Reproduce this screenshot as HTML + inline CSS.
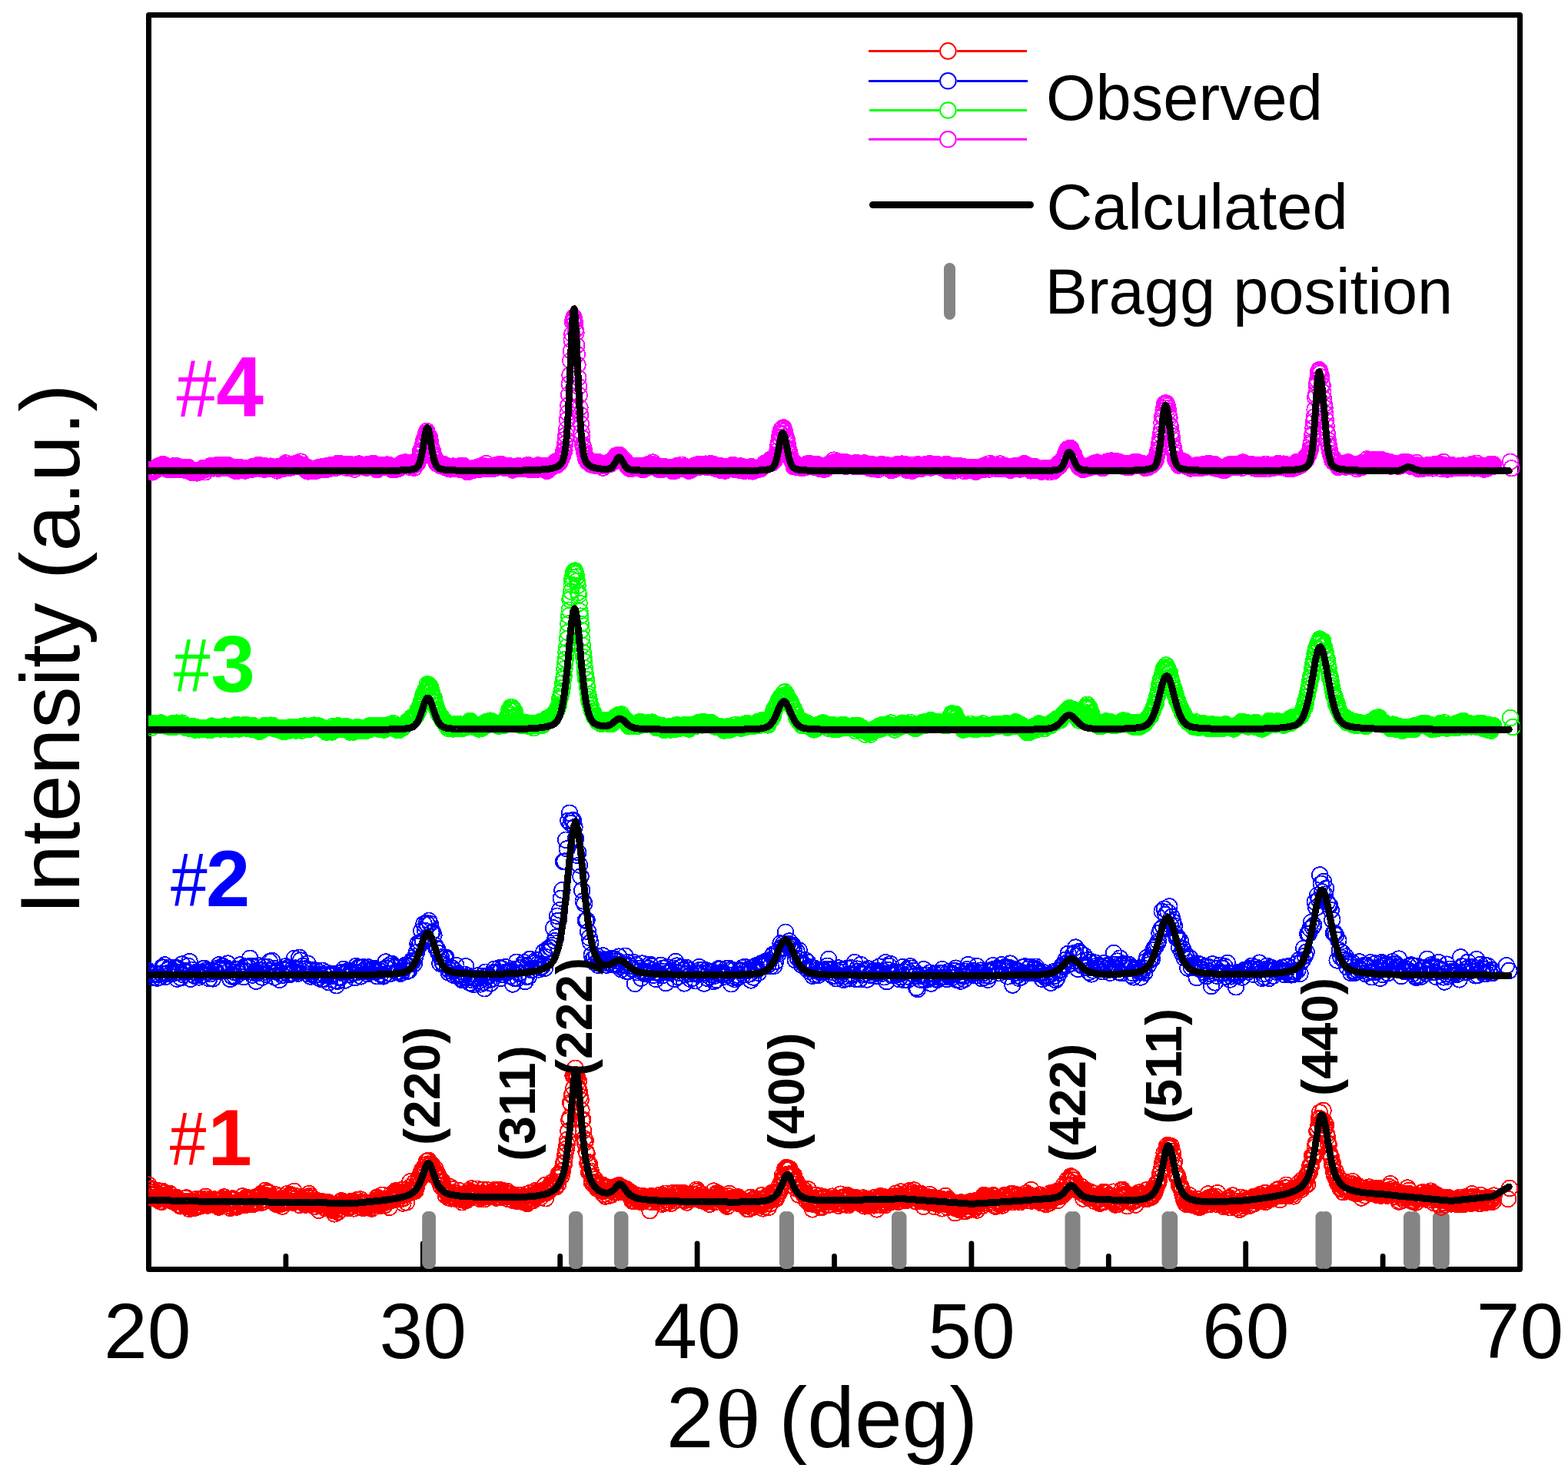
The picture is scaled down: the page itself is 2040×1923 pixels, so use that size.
<!DOCTYPE html>
<html><head><meta charset="utf-8"><title>XRD Rietveld refinement</title>
<style>
html,body{margin:0;padding:0;background:#fff;overflow:hidden}
svg{display:block}
text{font-family:"Liberation Sans",Arial,sans-serif}
.o{fill:none;stroke:none}
.c{fill:none;stroke:#000;stroke-width:9;stroke-linejoin:round;stroke-linecap:round;shape-rendering:crispEdges}
.b{stroke:#848484;stroke-width:15;stroke-linecap:round}
.tk{stroke:#000;stroke-width:6.8;stroke-linecap:round}
.pl{font-weight:bold;font-size:66px}
</style></head>
<body>
<svg xmlns="http://www.w3.org/2000/svg" width="2040" height="1923" viewBox="0 0 2040 1923">
<defs><clipPath id="pc"><rect x="193" y="23" width="1784.5" height="1625"/></clipPath><marker id="m4" markerUnits="userSpaceOnUse" markerWidth="26" markerHeight="26" refX="13" refY="13" overflow="visible"><circle cx="13" cy="13" r="10.3" shape-rendering="crispEdges" fill="none" stroke="#ff00ff" stroke-width="1.8"/></marker><marker id="m3" markerUnits="userSpaceOnUse" markerWidth="26" markerHeight="26" refX="13" refY="13" overflow="visible"><circle cx="13" cy="13" r="10.3" shape-rendering="crispEdges" fill="none" stroke="#00ff00" stroke-width="1.8"/></marker><marker id="m2" markerUnits="userSpaceOnUse" markerWidth="26" markerHeight="26" refX="13" refY="13" overflow="visible"><circle cx="13" cy="13" r="10.3" shape-rendering="crispEdges" fill="none" stroke="#0000ff" stroke-width="1.8"/></marker><marker id="m1" markerUnits="userSpaceOnUse" markerWidth="26" markerHeight="26" refX="13" refY="13" overflow="visible"><circle cx="13" cy="13" r="10.3" shape-rendering="crispEdges" fill="none" stroke="#ff0000" stroke-width="1.8"/></marker></defs>
<rect x="0" y="0" width="2040" height="1923" fill="#fff"/>
<g id="frame">
<rect x="193.5" y="19.5" width="1784" height="1632" fill="none" stroke="#000" stroke-width="7" stroke-linejoin="round"/>
<path class="tk" d="M550.3 1650V1618M907.1 1650V1618M1263.9 1650V1618M1620.7 1650V1618M371.9 1650V1634.5M728.7 1650V1634.5M1085.5 1650V1634.5M1442.3 1650V1634.5M1799.1 1650V1634.5"/>
</g>
<g id="bragg">
<path class="b" d="M556.7 1583.5V1643.5M559.4 1583.5V1643.5M747.5 1583.5V1643.5M750.8 1583.5V1643.5M806.5 1583.5V1643.5M810 1583.5V1643.5M1021.5 1583.5V1643.5M1025.5 1583.5V1643.5M1167.5 1583.5V1643.5M1172 1583.5V1643.5M1393 1583.5V1643.5M1398 1583.5V1643.5M1519 1583.5V1643.5M1524.6 1583.5V1643.5M1719 1583.5V1643.5M1725.2 1583.5V1643.5M1833.5 1583.5V1643.5M1840.1 1583.5V1643.5M1871.5 1583.5V1643.5M1878.3 1583.5V1643.5"/>
</g>
<g clip-path="url(#pc)"><polyline class="o" marker-start="url(#m4)" marker-mid="url(#m4)" marker-end="url(#m4)" points="193.5,612.7 194.2,613.2 194.9,612.3 195.6,611.4 196.4,612 197.1,611.1 197.8,612.6 198.5,614.4 199.2,611.4 199.9,611 200.6,612.4 201.3,611.9 202.1,611.2 202.8,609.3 203.5,610.4 204.2,611.1 204.9,607.8 205.6,608.8 206.3,606.3 207.1,607 207.8,605.9 208.5,608.1 209.2,606.4 209.9,608.5 210.6,608.1 211.3,607.5 212.1,603.9 212.8,606.8 213.5,607.6 214.2,607.9 214.9,605.7 215.6,607.5 216.3,607 217,607.6 217.8,610.7 218.5,608.2 219.2,609.7 219.9,611.3 220.6,609.2 221.3,609.9 222,610.2 222.8,610 223.5,607.8 224.2,609.5 224.9,611.2 225.6,606.5 226.3,609.8 227,608.5 227.8,607.1 228.5,611 229.2,609 229.9,606.1 230.6,608.1 231.3,608.9 232,607.9 232.7,609.4 233.5,608.5 234.2,609.8 234.9,611.1 235.6,608.1 236.3,609.6 237,608.7 237.7,609.7 238.5,607.8 239.2,608.8 239.9,609.5 240.6,611.3 241.3,611.8 242,608.2 242.7,609.2 243.5,611.5 244.2,607.7 244.9,610.2 245.6,610.9 246.3,613.2 247,612.6 247.7,611.3 248.4,611.5 249.2,612 249.9,615 250.6,612.3 251.3,612.8 252,614 252.7,613.5 253.4,613.5 254.2,612.2 254.9,613.8 255.6,613.1 256.3,615.4 257,614.4 257.7,613.2 258.4,614 259.2,612.3 259.9,614.2 260.6,612.4 261.3,613.2 262,610.3 262.7,612.6 263.4,609.5 264.1,608.8 264.9,611.3 265.6,610.2 266.3,611.5 267,614.3 267.7,609.3 268.4,609.3 269.1,610.1 269.9,610.1 270.6,608.7 271.3,608.4 272,609.4 272.7,608.9 273.4,606.4 274.1,607.7 274.9,607.8 275.6,606.1 276.3,608.1 277,606.5 277.7,609.4 278.4,608.3 279.1,608.2 279.8,607.3 280.6,608.1 281.3,605.4 282,606.7 282.7,609 283.4,605.2 284.1,609.7 284.8,605.7 285.6,609.3 286.3,606.8 287,609 287.7,607.8 288.4,605.1 289.1,609.1 289.8,609.2 290.5,606.8 291.3,606.4 292,606.5 292.7,605.2 293.4,608.4 294.1,605.9 294.8,606.8 295.5,605.8 296.3,606.2 297,605.4 297.7,609.4 298.4,607.5 299.1,609.5 299.8,608.3 300.5,607.5 301.3,608.3 302,608.2 302.7,609.3 303.4,608.9 304.1,609.3 304.8,607.8 305.5,608.9 306.2,612.7 307,609.3 307.7,608.8 308.4,610.9 309.1,612.6 309.8,608.3 310.5,610.1 311.2,609.5 312,607.8 312.7,611.6 313.4,610.5 314.1,610.6 314.8,609.4 315.5,611.3 316.2,609.8 317,610.4 317.7,608.9 318.4,608.7 319.1,612.5 319.8,609.7 320.5,610.7 321.2,610.1 321.9,609.4 322.7,609.1 323.4,610.7 324.1,609.1 324.8,609.2 325.5,609.4 326.2,611 326.9,610.2 327.7,609.7 328.4,608.3 329.1,607 329.8,610.4 330.5,610.3 331.2,608.4 331.9,609.2 332.7,609.2 333.4,609 334.1,608.8 334.8,606.4 335.5,609.1 336.2,604.8 336.9,607.9 337.6,607.4 338.4,608.2 339.1,609.9 339.8,609.7 340.5,606.1 341.2,605.7 341.9,609.9 342.6,607.5 343.4,609.3 344.1,610.8 344.8,607.2 345.5,606.5 346.2,610.1 346.9,609.7 347.6,609.1 348.4,609.5 349.1,608 349.8,606.9 350.5,608.9 351.2,607.6 351.9,606.6 352.6,609.9 353.3,609.1 354.1,609.9 354.8,607.9 355.5,608.4 356.2,608 356.9,608.2 357.6,609.9 358.3,608.4 359.1,610.1 359.8,610 360.5,612.5 361.2,607.3 361.9,610.6 362.6,609.1 363.3,609.1 364.1,606.9 364.8,608.3 365.5,610 366.2,608.6 366.9,608.7 367.6,607.9 368.3,609.9 369,608 369.8,604.5 370.5,606.5 371.2,604.5 371.9,602.4 372.6,606.4 373.3,609.2 374,607.2 374.8,605.4 375.5,605.8 376.2,608.9 376.9,607.4 377.6,607.2 378.3,607 379,607 379.7,608 380.5,607.4 381.2,606.7 381.9,604.6 382.6,606.6 383.3,604.6 384,607 384.7,603.1 385.5,604.6 386.2,604.5 386.9,602.3 387.6,606.8 388.3,606.3 389,603.4 389.7,605.3 390.5,604.9 391.2,600.6 391.9,605.3 392.6,605.3 393.3,606 394,604.9 394.7,606.7 395.4,607.5 396.2,610.2 396.9,609.5 397.6,609.5 398.3,612.3 399,609.6 399.7,610.1 400.4,608.2 401.2,613.4 401.9,612.6 402.6,612.5 403.3,612.1 404,611.1 404.7,611.2 405.4,610.4 406.2,610.4 406.9,610.7 407.6,612.9 408.3,611.4 409,610.4 409.7,609.6 410.4,609.5 411.1,612.8 411.9,611.1 412.6,610.3 413.3,609.6 414,608.3 414.7,609.8 415.4,611.2 416.1,609.2 416.9,609.4 417.6,609.4 418.3,609.9 419,607.4 419.7,609.4 420.4,608.4 421.1,610.9 421.9,608.3 422.6,610.1 423.3,611.2 424,608.2 424.7,607.4 425.4,608.2 426.1,607.6 426.8,605.8 427.6,607.8 428.3,609.9 429,606.4 429.7,606.4 430.4,605.1 431.1,607.2 431.8,604.8 432.6,605.1 433.3,608.7 434,605.3 434.7,608.3 435.4,608.8 436.1,606.7 436.8,606.9 437.6,608.7 438.3,605.2 439,604.3 439.7,602.9 440.4,604.8 441.1,606.8 441.8,606 442.5,603.1 443.3,603.3 444,603.9 444.7,605.2 445.4,604.6 446.1,605.4 446.8,605.7 447.5,605 448.3,605.5 449,606 449.7,605.7 450.4,606.7 451.1,608.9 451.8,607.1 452.5,606.4 453.3,603.9 454,607.1 454.7,603.7 455.4,604.6 456.1,608.2 456.8,608.1 457.5,606.9 458.2,604.6 459,606.7 459.7,606.3 460.4,608.2 461.1,610.6 461.8,607.4 462.5,605.7 463.2,604.9 464,606.3 464.7,605.8 465.4,604 466.1,605.6 466.8,603.5 467.5,606.8 468.2,606.6 468.9,606.7 469.7,604.5 470.4,606.2 471.1,605.5 471.8,605.4 472.5,605.8 473.2,604.7 473.9,604.7 474.7,608.3 475.4,606.9 476.1,607.6 476.8,608.7 477.5,604.5 478.2,605.8 478.9,607 479.7,607.1 480.4,605.7 481.1,607.6 481.8,606.1 482.5,603.8 483.2,604.2 483.9,606.7 484.6,606.3 485.4,602.8 486.1,607.9 486.8,607 487.5,608.4 488.2,606.1 488.9,606.5 489.6,605.5 490.4,611.2 491.1,607.3 491.8,610.1 492.5,606.7 493.2,607.9 493.9,605 494.6,606.8 495.4,608.7 496.1,605.1 496.8,608.4 497.5,607.1 498.2,604.9 498.9,605.5 499.6,605.5 500.3,606 501.1,605.3 501.8,604.9 502.5,605.7 503.2,604.7 503.9,604.5 504.6,606.6 505.3,608.2 506.1,604.8 506.8,607.4 507.5,606.8 508.2,606.6 508.9,609.7 509.6,607.9 510.3,611.3 511.1,608.1 511.8,610.1 512.5,609.4 513.2,608.7 513.9,610.8 514.6,609.7 515.3,610.7 516,609.6 516.8,607.8 517.5,609 518.2,608.9 518.9,609.8 519.6,606.5 520.3,607.4 521,604.3 521.8,607.4 522.5,604.2 523.2,602.6 523.9,604.7 524.6,606.1 525.3,601.7 526,602 526.8,602.3 527.5,601.5 528.2,603.7 528.9,601.9 529.6,602.2 530.3,604.3 531,602.5 531.7,604.7 532.5,602.8 533.2,602.8 533.9,602.2 534.6,608.2 535.3,605.1 536,606.2 536.7,605.9 537.5,606.2 538.2,605.9 538.9,608.6 539.6,603.7 540.3,602.4 541,602.6 541.7,601.3 542.5,603.5 543.2,602.5 543.9,598.3 544.6,596.1 545.3,596 546,596.8 546.7,587.9 547.4,590.9 548.2,585.8 548.9,586.5 549.6,580.2 550.3,578.6 551,573.7 551.7,571.7 552.4,573 553.2,569.7 553.9,565.7 554.6,563.5 555.3,561 556,563.6 556.7,564.9 557.4,566.2 558.1,568.2 558.9,568.9 559.6,573.5 560.3,576.6 561,582 561.7,586.1 562.4,585.8 563.1,587.6 563.9,591.4 564.6,592.9 565.3,594.8 566,597.8 566.7,597.8 567.4,601.8 568.1,601.9 568.9,603.4 569.6,603.5 570.3,603.2 571,603.4 571.7,604.9 572.4,604.6 573.1,606.1 573.8,605.9 574.6,604 575.3,606.4 576,604.4 576.7,605.8 577.4,606.6 578.1,604.3 578.8,608 579.6,608.5 580.3,608.4 581,608.4 581.7,608.9 582.4,608.2 583.1,609.5 583.8,609.2 584.6,610.3 585.3,608.3 586,610.4 586.7,610.1 587.4,609.5 588.1,608.9 588.8,610.2 589.5,606.6 590.3,609.6 591,609.2 591.7,609.1 592.4,609.2 593.1,607.6 593.8,608.2 594.5,609.6 595.3,609.4 596,609.1 596.7,606.6 597.4,609.8 598.1,610.8 598.8,610.7 599.5,609.6 600.3,606.9 601,610.8 601.7,609.3 602.4,605.8 603.1,610.4 603.8,607.7 604.5,608.3 605.2,609.5 606,612.7 606.7,610.5 607.4,611.7 608.1,614.2 608.8,614.1 609.5,611.7 610.2,611.5 611,609.9 611.7,610.6 612.4,612.1 613.1,611.8 613.8,611.1 614.5,612.1 615.2,609.1 616,609.9 616.7,610.9 617.4,610.6 618.1,611.3 618.8,610.3 619.5,609.3 620.2,610.4 620.9,608.5 621.7,607.6 622.4,611.1 623.1,610.2 623.8,610.7 624.5,607.6 625.2,609.4 625.9,608.8 626.7,608.1 627.4,605.6 628.1,608.2 628.8,609.7 629.5,608.6 630.2,606.9 630.9,607.5 631.7,608.5 632.4,603.1 633.1,607 633.8,608 634.5,608.2 635.2,609.8 635.9,609 636.6,607.9 637.4,607.9 638.1,608.7 638.8,606.7 639.5,607.4 640.2,608.8 640.9,610.3 641.6,607 642.4,607.1 643.1,607.3 643.8,608.9 644.5,606.7 645.2,608.9 645.9,605.1 646.6,606.2 647.3,606.1 648.1,607.5 648.8,607.9 649.5,604 650.2,604.9 650.9,606.9 651.6,605.4 652.3,604.2 653.1,608.2 653.8,607.5 654.5,607.7 655.2,606.3 655.9,608.7 656.6,606.8 657.3,608.9 658.1,605.9 658.8,606 659.5,607.6 660.2,606.3 660.9,608.4 661.6,607.8 662.3,606 663,607.6 663.8,607.1 664.5,609.1 665.2,606.8 665.9,607.2 666.6,609.8 667.3,611.5 668,611.1 668.8,608.2 669.5,608.5 670.2,610.5 670.9,608 671.6,606.8 672.3,608.6 673,609.2 673.8,607.3 674.5,606.2 675.2,606.6 675.9,609.8 676.6,607.7 677.3,608.6 678,609.1 678.7,609.7 679.5,608.1 680.2,609.3 680.9,607 681.6,607.7 682.3,606.5 683,609.7 683.7,607.8 684.5,606.6 685.2,607.1 685.9,607.2 686.6,608.6 687.3,605 688,605.8 688.7,606.7 689.5,611.2 690.2,608.8 690.9,607.2 691.6,608.5 692.3,610.7 693,607.3 693.7,607.2 694.4,609.8 695.2,608.8 695.9,609.2 696.6,607.5 697.3,611.3 698,611 698.7,609.3 699.4,609.4 700.2,605.2 700.9,609.3 701.6,607.9 702.3,608.9 703,609.3 703.7,607.8 704.4,605.8 705.2,609.1 705.9,607.6 706.6,608.4 707.3,608.2 708,608.8 708.7,605.9 709.4,611.5 710.1,610.2 710.9,611.6 711.6,613 712.3,609.9 713,607 713.7,608.2 714.4,607.5 715.1,608.3 715.9,608.8 716.6,605.1 717.3,608.2 718,604.7 718.7,607 719.4,605.7 720.1,604.7 720.9,604.5 721.6,603.2 722.3,602.6 723,600.4 723.7,602.6 724.4,605.1 725.1,605 725.8,603.5 726.6,602.2 727.3,599.5 728,602.3 728.7,599.2 729.4,598.4 730.1,596.9 730.8,596.2 731.6,593.7 732.3,592.2 733,587.9 733.7,585.8 734.4,586.3 735.1,577.6 735.8,571.5 736.5,566.1 737.3,558.4 738,546 738.7,537.2 739.4,527.5 740.1,513.6 740.8,499.7 741.5,488.1 742.3,469.4 743,456.7 743.7,442.3 744.4,434.7 745.1,418.9 745.8,415.3 746.5,412.9 747.3,416 748,420.1 748.7,428.9 749.4,433.1 750.1,449.5 750.8,461 751.5,474.6 752.2,491.4 753,503 753.7,514.5 754.4,530.3 755.1,539.8 755.8,551.5 756.5,562.3 757.2,569.9 758,578.5 758.7,580.9 759.4,583.2 760.1,588.1 760.8,590.7 761.5,592.6 762.2,597.1 763,596.7 763.7,595.7 764.4,600.9 765.1,600.3 765.8,601.6 766.5,601.7 767.2,603 767.9,602.4 768.7,604.6 769.4,603.6 770.1,603.8 770.8,604 771.5,601.2 772.2,603.3 772.9,603.2 773.7,603.9 774.4,601.4 775.1,606.1 775.8,603.6 776.5,601.5 777.2,600.7 777.9,603 778.7,603.3 779.4,602.4 780.1,603.8 780.8,602.8 781.5,604.8 782.2,603 782.9,604.2 783.6,605.9 784.4,608.6 785.1,603.2 785.8,604.1 786.5,603.7 787.2,606.3 787.9,603.4 788.6,604.5 789.4,605.2 790.1,603.6 790.8,603.6 791.5,604.2 792.2,601.4 792.9,602.1 793.6,603.3 794.4,603.6 795.1,602.4 795.8,599.2 796.5,600.4 797.2,601.5 797.9,600.2 798.6,598.2 799.3,595.9 800.1,597.3 800.8,594.5 801.5,592.7 802.2,592.5 802.9,595.5 803.6,593.1 804.3,594.5 805.1,591.8 805.8,594.4 806.5,592.3 807.2,593.7 807.9,598.7 808.6,596.9 809.3,595.8 810.1,597.5 810.8,599.2 811.5,601.7 812.2,600 812.9,598.9 813.6,602.1 814.3,603.3 815,604.1 815.8,606.6 816.5,605.6 817.2,606.8 817.9,604.2 818.6,607.5 819.3,609.7 820,607.8 820.8,607.2 821.5,607.2 822.2,609.8 822.9,605.7 823.6,607.1 824.3,608.1 825,608.7 825.7,607 826.5,608.2 827.2,607.5 827.9,608.2 828.6,607.8 829.3,606.3 830,608 830.7,609.4 831.5,606.5 832.2,607.6 832.9,608.9 833.6,606.2 834.3,608 835,606.1 835.7,609.4 836.5,611.2 837.2,610.7 837.9,607.2 838.6,608.6 839.3,607.5 840,607.3 840.7,609.2 841.4,604.6 842.2,607.9 842.9,605.9 843.6,607.8 844.3,605.7 845,604.1 845.7,605.3 846.4,605.9 847.2,604.7 847.9,605.4 848.6,603.9 849.3,601.6 850,606.5 850.7,606.5 851.4,606 852.2,606.3 852.9,608.2 853.6,606.4 854.3,606.4 855,607.6 855.7,610.1 856.4,606.5 857.1,610.7 857.9,608.1 858.6,607.5 859.3,611.1 860,609 860.7,607.1 861.4,608.4 862.1,610.3 862.9,610.6 863.6,608 864.3,609.2 865,609.6 865.7,607.5 866.4,609.1 867.1,608.5 867.9,607.8 868.6,608 869.3,609 870,609.1 870.7,608.3 871.4,608.6 872.1,611.1 872.8,609.9 873.6,611 874.3,611.6 875,610.7 875.7,613.3 876.4,608.6 877.1,611.1 877.8,609.3 878.6,612.5 879.3,612.1 880,606.4 880.7,607.7 881.4,610 882.1,610 882.8,609.7 883.6,608.3 884.3,608.9 885,609.1 885.7,607.9 886.4,609.6 887.1,604.7 887.8,609.2 888.5,606.9 889.3,610.2 890,608.7 890.7,608 891.4,610.3 892.1,608.7 892.8,609 893.5,608.3 894.3,610.9 895,611.8 895.7,612.6 896.4,610.8 897.1,612.5 897.8,610.6 898.5,610.1 899.3,610.7 900,611 900.7,608.4 901.4,608.1 902.1,607.8 902.8,607.7 903.5,605.8 904.2,608.4 905,605.8 905.7,606.8 906.4,604.6 907.1,606.1 907.8,605.9 908.5,604.5 909.2,608 910,605.5 910.7,607.6 911.4,606.4 912.1,604.1 912.8,604.7 913.5,606.2 914.2,605.9 914.9,606.1 915.7,605.9 916.4,603.8 917.1,606.4 917.8,603.6 918.5,607.6 919.2,606 919.9,606 920.7,606.7 921.4,607.3 922.1,604.6 922.8,603.9 923.5,604.8 924.2,603.1 924.9,604.6 925.7,608.4 926.4,604.3 927.1,607 927.8,604 928.5,606.7 929.2,606 929.9,606.6 930.6,607.9 931.4,610 932.1,608 932.8,608.2 933.5,606.8 934.2,609.4 934.9,608.4 935.6,610.2 936.4,609 937.1,611.8 937.8,606.2 938.5,608.8 939.2,610.6 939.9,608.7 940.6,608 941.4,608.8 942.1,607 942.8,609.3 943.5,612.7 944.2,610.7 944.9,607.2 945.6,607.5 946.3,608.2 947.1,610.2 947.8,607.4 948.5,607.5 949.2,609.8 949.9,609.7 950.6,607.7 951.3,606.5 952.1,605.8 952.8,607.1 953.5,604.8 954.2,609.3 954.9,607.3 955.6,609 956.3,611.2 957.1,610.2 957.8,606.8 958.5,610 959.2,610.6 959.9,607.9 960.6,607.7 961.3,609.2 962,607.2 962.8,612.1 963.5,606.4 964.2,608.6 964.9,610.1 965.6,610.4 966.3,611.2 967,611.5 967.8,610.8 968.5,612.9 969.2,608 969.9,611.2 970.6,610 971.3,611.2 972,611.2 972.8,609.2 973.5,609.4 974.2,611.4 974.9,610.5 975.6,608.7 976.3,612.7 977,613 977.7,607.2 978.5,609.9 979.2,613.4 979.9,610.8 980.6,610.1 981.3,609.6 982,609.3 982.7,609.9 983.5,609.5 984.2,611.5 984.9,609.8 985.6,609.7 986.3,608.4 987,609.9 987.7,608.3 988.5,609 989.2,610.4 989.9,608.9 990.6,608.6 991.3,607.8 992,606.7 992.7,605.9 993.4,605 994.2,606.1 994.9,602.8 995.6,606 996.3,603.6 997,602 997.7,602.1 998.4,601.5 999.2,602.5 999.9,600.9 1000.6,603.6 1001.3,600.5 1002,598 1002.7,600.2 1003.4,598 1004.1,600.7 1004.9,602.1 1005.6,600.9 1006.3,596.9 1007,596.8 1007.7,599.5 1008.4,595.5 1009.1,593 1009.9,592.2 1010.6,591.8 1011.3,586.7 1012,581.4 1012.7,578.2 1013.4,574.9 1014.1,569.1 1014.9,564.8 1015.6,563.6 1016.3,559.2 1017,558.8 1017.7,557.9 1018.4,561.4 1019.1,556.3 1019.8,558.8 1020.6,560.5 1021.3,563.9 1022,567.7 1022.7,568.3 1023.4,571.1 1024.1,573.2 1024.8,577.9 1025.6,583.7 1026.3,586.2 1027,587.5 1027.7,591.3 1028.4,594.6 1029.1,597.6 1029.8,597.9 1030.6,600.3 1031.3,599.3 1032,601.7 1032.7,607.2 1033.4,602.1 1034.1,605.8 1034.8,607.2 1035.5,606.8 1036.3,606.5 1037,608 1037.7,608.3 1038.4,608.3 1039.1,605.6 1039.8,608.3 1040.5,607.2 1041.3,607.5 1042,608.6 1042.7,608.9 1043.4,609.1 1044.1,606.6 1044.8,608.5 1045.5,608.5 1046.3,608.2 1047,608.3 1047.7,605.8 1048.4,605.6 1049.1,607 1049.8,603.5 1050.5,605.8 1051.2,604.6 1052,604.8 1052.7,602.7 1053.4,604 1054.1,605.3 1054.8,606.6 1055.5,606.8 1056.2,605.1 1057,605 1057.7,604 1058.4,606 1059.1,605 1059.8,606.4 1060.5,608.3 1061.2,605.7 1062,603.7 1062.7,604.9 1063.4,604.2 1064.1,604.9 1064.8,609 1065.5,607.7 1066.2,605.4 1066.9,609 1067.7,610.2 1068.4,608 1069.1,607.7 1069.8,608.4 1070.5,609.4 1071.2,610 1071.9,610.7 1072.7,610.6 1073.4,610.3 1074.1,610.2 1074.8,608.8 1075.5,605 1076.2,606.6 1076.9,606.8 1077.7,605.2 1078.4,606.6 1079.1,604.2 1079.8,602.9 1080.5,606.1 1081.2,604.5 1081.9,603.5 1082.6,604.3 1083.4,604.3 1084.1,603 1084.8,598.6 1085.5,601.2 1086.2,601.4 1086.9,600.6 1087.6,602.3 1088.4,603.9 1089.1,601.4 1089.8,600.5 1090.5,605.4 1091.2,601.7 1091.9,600.6 1092.6,602.9 1093.3,603.3 1094.1,601.6 1094.8,603.9 1095.5,602 1096.2,601.3 1096.9,602.9 1097.6,603.8 1098.3,601.6 1099.1,603 1099.8,602.3 1100.5,606.8 1101.2,601.5 1101.9,604.7 1102.6,602.7 1103.3,602.7 1104.1,604.2 1104.8,604.7 1105.5,605.5 1106.2,604.3 1106.9,603 1107.6,603.3 1108.3,605 1109,605.2 1109.8,606.5 1110.5,605 1111.2,606 1111.9,606.7 1112.6,604.6 1113.3,602.1 1114,602.6 1114.8,602.1 1115.5,606.7 1116.2,603 1116.9,606.1 1117.6,605.1 1118.3,606.8 1119,605.8 1119.8,604.1 1120.5,604 1121.2,604.5 1121.9,604.7 1122.6,603.7 1123.3,604.6 1124,607.3 1124.7,602.5 1125.5,605.7 1126.2,604.2 1126.9,606.1 1127.6,607.4 1128.3,606.3 1129,607.9 1129.7,604.6 1130.5,608.9 1131.2,606.5 1131.9,608.5 1132.6,608 1133.3,603.9 1134,606.7 1134.7,608.1 1135.5,610.1 1136.2,608.2 1136.9,608.1 1137.6,605.5 1138.3,609.7 1139,610.2 1139.7,607.4 1140.4,606.9 1141.2,604.7 1141.9,608.3 1142.6,610.9 1143.3,607.8 1144,608.4 1144.7,607.1 1145.4,604.7 1146.2,608 1146.9,604 1147.6,605.5 1148.3,606.2 1149,607.2 1149.7,606.6 1150.4,606.8 1151.2,605.3 1151.9,604.7 1152.6,607.1 1153.3,606.2 1154,605.6 1154.7,605.9 1155.4,607.4 1156.1,605.6 1156.9,606.5 1157.6,606.3 1158.3,609.2 1159,609.6 1159.7,612.1 1160.4,606.8 1161.1,608 1161.9,610.3 1162.6,608.4 1163.3,608 1164,610.7 1164.7,607.3 1165.4,605.6 1166.1,604.9 1166.9,607 1167.6,606.6 1168.3,603.7 1169,604.1 1169.7,606.2 1170.4,606.3 1171.1,604.6 1171.8,606.6 1172.6,606.8 1173.3,603.6 1174,606.1 1174.7,607.5 1175.4,606.3 1176.1,604.1 1176.8,607.1 1177.6,608.8 1178.3,610.1 1179,604.5 1179.7,611.8 1180.4,606.2 1181.1,609.5 1181.8,610 1182.5,609.7 1183.3,608.5 1184,606.6 1184.7,609.4 1185.4,607.4 1186.1,604.7 1186.8,612.8 1187.5,609.5 1188.3,611.2 1189,607 1189.7,610.5 1190.4,610.6 1191.1,610.5 1191.8,608 1192.5,606.1 1193.3,607.6 1194,604.4 1194.7,605.1 1195.4,607.7 1196.1,605.9 1196.8,607.1 1197.5,607 1198.2,610 1199,608.9 1199.7,606.8 1200.4,608.6 1201.1,605.5 1201.8,606 1202.5,607.8 1203.2,604.4 1204,605.8 1204.7,604 1205.4,606.1 1206.1,608.2 1206.8,604.5 1207.5,605.8 1208.2,604 1209,603.5 1209.7,603.2 1210.4,607.2 1211.1,608.5 1211.8,605.6 1212.5,603.8 1213.2,606 1213.9,604.4 1214.7,606.3 1215.4,605.7 1216.1,605.8 1216.8,606.5 1217.5,605 1218.2,605.5 1218.9,603.8 1219.7,605.9 1220.4,604.6 1221.1,606.7 1221.8,605.6 1222.5,607.2 1223.2,607.8 1223.9,604.9 1224.7,605.8 1225.4,605.5 1226.1,608 1226.8,609.5 1227.5,608.2 1228.2,606.5 1228.9,609.3 1229.6,605 1230.4,609.7 1231.1,606.6 1231.8,603.7 1232.5,612.1 1233.2,610.7 1233.9,607 1234.6,609.1 1235.4,608.7 1236.1,609.3 1236.8,607.1 1237.5,608.4 1238.2,610.2 1238.9,609.9 1239.6,611.3 1240.4,609.5 1241.1,612.8 1241.8,608 1242.5,609.2 1243.2,605.7 1243.9,606.4 1244.6,610 1245.3,606.3 1246.1,608.3 1246.8,607.3 1247.5,605.7 1248.2,606.7 1248.9,606.5 1249.6,606.6 1250.3,608.7 1251.1,608.8 1251.8,607.1 1252.5,606.9 1253.2,608.9 1253.9,608.6 1254.6,610.5 1255.3,613.1 1256.1,610.5 1256.8,609.3 1257.5,609.2 1258.2,608.2 1258.9,608.2 1259.6,608.1 1260.3,609.1 1261,609.1 1261.8,610.9 1262.5,609.2 1263.2,609.5 1263.9,607.9 1264.6,612.3 1265.3,610.5 1266,612.5 1266.8,611 1267.5,612 1268.2,609.4 1268.9,610.9 1269.6,614 1270.3,608.1 1271,611.7 1271.7,612.5 1272.5,610.6 1273.2,611.1 1273.9,611.8 1274.6,608.7 1275.3,610.2 1276,608.1 1276.7,608.2 1277.5,608 1278.2,608.5 1278.9,608.7 1279.6,608.9 1280.3,605.7 1281,610.7 1281.7,609.2 1282.5,608.3 1283.2,606.4 1283.9,606.6 1284.6,607.4 1285.3,607 1286,603.6 1286.7,607.3 1287.4,610.5 1288.2,603.1 1288.9,607.6 1289.6,606.7 1290.3,606 1291,608.5 1291.7,604.7 1292.4,607 1293.2,609.2 1293.9,606.8 1294.6,606.7 1295.3,607.6 1296,606.8 1296.7,610 1297.4,606.2 1298.2,608.9 1298.9,605.6 1299.6,608.6 1300.3,607.4 1301,603.5 1301.7,607.5 1302.4,605.8 1303.1,606.8 1303.9,609.9 1304.6,605.8 1305.3,605.9 1306,609.8 1306.7,607.8 1307.4,610.1 1308.1,608.3 1308.9,606.5 1309.6,607.9 1310.3,610 1311,609.7 1311.7,608.4 1312.4,608.6 1313.1,608.5 1313.9,607.9 1314.6,611.9 1315.3,609 1316,607.2 1316.7,608.3 1317.4,610.1 1318.1,610 1318.8,608.7 1319.6,607.8 1320.3,608.8 1321,606.1 1321.7,606.6 1322.4,609.7 1323.1,607.6 1323.8,608.7 1324.6,609.8 1325.3,608.7 1326,607.5 1326.7,610.5 1327.4,608 1328.1,606.2 1328.8,607.6 1329.6,606.9 1330.3,604.8 1331,606.2 1331.7,605.9 1332.4,603.2 1333.1,606.1 1333.8,606.2 1334.5,606.3 1335.3,604.8 1336,607.3 1336.7,608.2 1337.4,608.9 1338.1,607.4 1338.8,610.5 1339.5,608 1340.3,609.8 1341,612.4 1341.7,609.4 1342.4,609.8 1343.1,612.3 1343.8,610 1344.5,610.1 1345.3,610.9 1346,612.1 1346.7,607.1 1347.4,609.2 1348.1,609 1348.8,608.9 1349.5,609.4 1350.2,609.5 1351,611.4 1351.7,609.7 1352.4,611.3 1353.1,611.8 1353.8,610.1 1354.5,611.4 1355.2,613.7 1356,611.5 1356.7,609.9 1357.4,610.7 1358.1,609.3 1358.8,611 1359.5,611.8 1360.2,609.1 1360.9,610.1 1361.7,612.1 1362.4,609.6 1363.1,610.8 1363.8,609 1364.5,609.4 1365.2,610 1365.9,614.2 1366.7,610.3 1367.4,610.1 1368.1,610 1368.8,610.5 1369.5,611.6 1370.2,610.6 1370.9,613.2 1371.7,610 1372.4,611.4 1373.1,609.2 1373.8,609.3 1374.5,605.7 1375.2,607.2 1375.9,606.9 1376.6,606.1 1377.4,602.6 1378.1,606.8 1378.8,604.2 1379.5,603.4 1380.2,602.9 1380.9,602 1381.6,601.9 1382.4,598 1383.1,597.1 1383.8,597.5 1384.5,595.6 1385.2,593 1385.9,590.9 1386.6,588.8 1387.4,588.4 1388.1,589 1388.8,584.2 1389.5,587.6 1390.2,586 1390.9,583.7 1391.6,586 1392.3,582.9 1393.1,583.3 1393.8,585.1 1394.5,587.9 1395.2,589.5 1395.9,590.8 1396.6,593.5 1397.3,591.6 1398.1,597.5 1398.8,596.1 1399.5,598.9 1400.2,600.8 1400.9,600.9 1401.6,601.8 1402.3,603.4 1403.1,605.9 1403.8,607.6 1404.5,608.2 1405.2,606.3 1405.9,607.1 1406.6,607.2 1407.3,609.6 1408,605.9 1408.8,611 1409.5,608.3 1410.2,607.7 1410.9,609.3 1411.6,610.1 1412.3,608.8 1413,609.6 1413.8,607.9 1414.5,609.3 1415.2,609 1415.9,606.8 1416.6,608.9 1417.3,606.9 1418,606.7 1418.8,605.1 1419.5,606 1420.2,607.6 1420.9,604.4 1421.6,607.3 1422.3,606.7 1423,606.5 1423.7,602.6 1424.5,605.6 1425.2,606.6 1425.9,604.3 1426.6,605.5 1427.3,601.6 1428,606.2 1428.7,604.2 1429.5,606.6 1430.2,602.6 1430.9,606.5 1431.6,605.2 1432.3,606.9 1433,604.3 1433.7,604.8 1434.5,609.1 1435.2,604.3 1435.9,604.3 1436.6,604.7 1437.3,603.2 1438,606.2 1438.7,606.7 1439.4,602.6 1440.2,600.6 1440.9,604.7 1441.6,604.2 1442.3,603.5 1443,603.8 1443.7,600.5 1444.4,601.5 1445.2,599.6 1445.9,599.5 1446.6,603.2 1447.3,600.8 1448,605.3 1448.7,602 1449.4,600.9 1450.1,603.1 1450.9,604.6 1451.6,602.6 1452.3,600 1453,602.5 1453.7,604.1 1454.4,601.4 1455.1,601.2 1455.9,604.1 1456.6,603 1457.3,601.5 1458,602.9 1458.7,602.7 1459.4,604.6 1460.1,604.7 1460.9,606.6 1461.6,606.3 1462.3,603.1 1463,606.4 1463.7,607.3 1464.4,606.9 1465.1,607.9 1465.8,605.6 1466.6,605.1 1467.3,608 1468,605 1468.7,603.4 1469.4,608.2 1470.1,605.5 1470.8,606 1471.6,604.1 1472.3,604 1473,604 1473.7,604.9 1474.4,605.7 1475.1,601.3 1475.8,605.7 1476.6,602.4 1477.3,602.3 1478,604.7 1478.7,603.4 1479.4,601 1480.1,606.1 1480.8,601.9 1481.5,603.5 1482.3,603.5 1483,605.4 1483.7,602.7 1484.4,605.1 1485.1,602.6 1485.8,605.7 1486.5,603 1487.3,603.9 1488,607.7 1488.7,605.6 1489.4,605.5 1490.1,609.1 1490.8,606.4 1491.5,604.7 1492.3,607.2 1493,604.2 1493.7,607.8 1494.4,607.8 1495.1,604.9 1495.8,604.6 1496.5,605.6 1497.2,605 1498,603.1 1498.7,605.1 1499.4,600.6 1500.1,602.6 1500.8,602 1501.5,601.4 1502.2,601.4 1503,597.7 1503.7,599.1 1504.4,596 1505.1,593 1505.8,589 1506.5,586 1507.2,584.7 1508,578 1508.7,574.8 1509.4,571 1510.1,565 1510.8,559.7 1511.5,550.1 1512.2,542.5 1512.9,540.2 1513.7,533.7 1514.4,530.7 1515.1,525.5 1515.8,525.6 1516.5,524.3 1517.2,524.6 1517.9,525.7 1518.7,528 1519.4,531 1520.1,535 1520.8,541 1521.5,543.6 1522.2,553 1522.9,555.5 1523.7,563.1 1524.4,566.9 1525.1,571.9 1525.8,580.6 1526.5,581.2 1527.2,583.6 1527.9,588.1 1528.6,591.8 1529.4,598.5 1530.1,597.5 1530.8,600.4 1531.5,598.7 1532.2,602 1532.9,603.3 1533.6,605.6 1534.4,602.1 1535.1,604.3 1535.8,603.9 1536.5,601.9 1537.2,603.3 1537.9,602.9 1538.6,599.6 1539.3,604.1 1540.1,604 1540.8,602.5 1541.5,601.3 1542.2,605.9 1542.9,604.4 1543.6,606 1544.3,607.1 1545.1,604.6 1545.8,607.2 1546.5,606.1 1547.2,606.8 1547.9,607.1 1548.6,607.6 1549.3,609.5 1550.1,608.1 1550.8,607.6 1551.5,607.4 1552.2,608.2 1552.9,606.1 1553.6,606.5 1554.3,606.9 1555,605.9 1555.8,606.3 1556.5,605.3 1557.2,609.1 1557.9,607.8 1558.6,606.3 1559.3,605.4 1560,608.7 1560.8,605.8 1561.5,605.1 1562.2,605.7 1562.9,605.7 1563.6,607.4 1564.3,605.3 1565,608.6 1565.8,604.1 1566.5,606.5 1567.2,603.9 1567.9,608.2 1568.6,604.9 1569.3,605.3 1570,606.7 1570.7,607.1 1571.5,603.4 1572.2,604.5 1572.9,602.8 1573.6,605.1 1574.3,604.8 1575,604.5 1575.7,604.1 1576.5,604.8 1577.2,604.5 1577.9,606.8 1578.6,608.6 1579.3,603.8 1580,606.9 1580.7,606.8 1581.5,608.6 1582.2,606.8 1582.9,608.3 1583.6,607.3 1584.3,610.2 1585,609.6 1585.7,609.4 1586.4,610.3 1587.2,609.5 1587.9,607.6 1588.6,610.9 1589.3,610.5 1590,609.8 1590.7,611.5 1591.4,611.8 1592.2,608.2 1592.9,608.6 1593.6,611.9 1594.3,611.5 1595,607.9 1595.7,606.9 1596.4,607.4 1597.2,607.2 1597.9,605 1598.6,607 1599.3,604.6 1600,604.2 1600.7,607.1 1601.4,604.4 1602.1,605.1 1602.9,606 1603.6,606.2 1604.3,604.5 1605,605.1 1605.7,603.9 1606.4,608 1607.1,606.5 1607.9,603.9 1608.6,605.7 1609.3,606.8 1610,606.4 1610.7,608.3 1611.4,607.5 1612.1,604.4 1612.9,605 1613.6,603 1614.3,605.2 1615,604.9 1615.7,608.7 1616.4,604.8 1617.1,601.5 1617.8,603.7 1618.6,605 1619.3,603.1 1620,603.9 1620.7,604.8 1621.4,606 1622.1,605.3 1622.8,604.3 1623.6,606.9 1624.3,605 1625,605.1 1625.7,603.9 1626.4,604.9 1627.1,607.3 1627.8,604 1628.5,606.5 1629.3,607.9 1630,606.4 1630.7,607.5 1631.4,605.6 1632.1,609.4 1632.8,609.1 1633.5,607.8 1634.3,604.8 1635,605.9 1635.7,608.9 1636.4,610.1 1637.1,607.9 1637.8,609.4 1638.5,606.7 1639.3,607.4 1640,607.7 1640.7,608.4 1641.4,605.5 1642.1,609.3 1642.8,609.8 1643.5,606 1644.2,605.6 1645,608.2 1645.7,606.5 1646.4,603.8 1647.1,608.5 1647.8,607.4 1648.5,606.4 1649.2,610.2 1650,607.2 1650.7,605.8 1651.4,607.1 1652.1,605.3 1652.8,605.7 1653.5,607.5 1654.2,606 1655,606.1 1655.7,609.2 1656.4,607.9 1657.1,607.6 1657.8,607 1658.5,606.7 1659.2,607.9 1659.9,605.5 1660.7,608.1 1661.4,603.7 1662.1,604.7 1662.8,603 1663.5,604.6 1664.2,606.1 1664.9,607.6 1665.7,604.5 1666.4,605.7 1667.1,605.3 1667.8,604.9 1668.5,604.3 1669.2,606.3 1669.9,603.6 1670.7,606.5 1671.4,606.4 1672.1,605.4 1672.8,604.9 1673.5,604.5 1674.2,609.6 1674.9,604.8 1675.6,609.5 1676.4,608.2 1677.1,606.8 1677.8,605.7 1678.5,609.2 1679.2,610.2 1679.9,606.1 1680.6,606.9 1681.4,608.8 1682.1,607.4 1682.8,609.6 1683.5,605.3 1684.2,606.7 1684.9,603.5 1685.6,608.4 1686.4,603.7 1687.1,601.1 1687.8,604.1 1688.5,603.9 1689.2,606.9 1689.9,603.2 1690.6,603.5 1691.3,604.2 1692.1,605.5 1692.8,602.5 1693.5,603.8 1694.2,602.5 1694.9,600.6 1695.6,600.6 1696.3,599.8 1697.1,597.5 1697.8,600.1 1698.5,595.1 1699.2,598.3 1699.9,597 1700.6,594.3 1701.3,592 1702.1,591.5 1702.8,591 1703.5,589.4 1704.2,586.2 1704.9,584.4 1705.6,578.2 1706.3,575.1 1707,566.9 1707.8,564.8 1708.5,556.9 1709.2,548.2 1709.9,542.6 1710.6,532.9 1711.3,517.4 1712,513.4 1712.8,501.9 1713.5,498.7 1714.2,494.8 1714.9,484.4 1715.6,482.7 1716.3,481.1 1717,483 1717.7,485.8 1718.5,490.4 1719.2,490.5 1719.9,500.4 1720.6,501.7 1721.3,510.5 1722,519.2 1722.7,525.9 1723.5,530.6 1724.2,538.7 1724.9,546.5 1725.6,554.2 1726.3,562.7 1727,564.4 1727.7,572.7 1728.5,577.7 1729.2,581.7 1729.9,585.2 1730.6,590.1 1731.3,591.2 1732,594.1 1732.7,595.7 1733.4,599.4 1734.2,595 1734.9,601.3 1735.6,600 1736.3,601 1737,600.7 1737.7,600.1 1738.4,603.1 1739.2,603.2 1739.9,605.6 1740.6,603 1741.3,608 1742,606.5 1742.7,606 1743.4,605.5 1744.2,605.5 1744.9,605 1745.6,605.8 1746.3,606.5 1747,606.1 1747.7,603.9 1748.4,605.4 1749.1,604.1 1749.9,605.4 1750.6,607.7 1751.3,605.5 1752,603.8 1752.7,601.6 1753.4,601.8 1754.1,601.3 1754.9,605 1755.6,602.8 1756.3,604.2 1757,603.3 1757.7,604.5 1758.4,606.8 1759.1,603.8 1759.9,604.5 1760.6,604.1 1761.3,606.9 1762,604.2 1762.7,604.2 1763.4,603.9 1764.1,604 1764.8,607 1765.6,610.2 1766.3,604.8 1767,607.8 1767.7,606.6 1768.4,604.5 1769.1,605.6 1769.8,605.5 1770.6,604.5 1771.3,608.2 1772,602 1772.7,605 1773.4,604.5 1774.1,602.5 1774.8,603.1 1775.6,603.7 1776.3,602 1777,602 1777.7,602 1778.4,597.5 1779.1,602.6 1779.8,603.7 1780.5,601.6 1781.3,601.6 1782,598 1782.7,600 1783.4,599 1784.1,599.5 1784.8,601.9 1785.5,599.3 1786.3,600.4 1787,597.7 1787.7,600.3 1788.4,600.7 1789.1,599.4 1789.8,599.3 1790.5,603.1 1791.3,598.3 1792,598.4 1792.7,598.7 1793.4,601.6 1794.1,602.9 1794.8,600.1 1795.5,598.5 1796.2,598.9 1797,601.2 1797.7,598.3 1798.4,602 1799.1,602.1 1799.8,600.3 1800.5,601.5 1801.2,601.9 1802,603.5 1802.7,599.9 1803.4,603.7 1804.1,601.6 1804.8,601.3 1805.5,602.9 1806.2,602.7 1806.9,601.7 1807.7,600.9 1808.4,602 1809.1,605.7 1809.8,606.6 1810.5,604.6 1811.2,605.5 1811.9,603.1 1812.7,603.9 1813.4,604.6 1814.1,602.7 1814.8,603.1 1815.5,604.9 1816.2,604.5 1816.9,603.5 1817.7,605.8 1818.4,604.9 1819.1,606.9 1819.8,605.3 1820.5,604.7 1821.2,605.2 1821.9,604.6 1822.6,603.6 1823.4,603.8 1824.1,605.3 1824.8,604.8 1825.5,605.5 1826.2,600.7 1826.9,602.5 1827.6,602.2 1828.4,603 1829.1,602 1829.8,601.9 1830.5,604 1831.2,603.3 1831.9,601.5 1832.6,605.7 1833.4,605.5 1834.1,603.4 1834.8,606 1835.5,603.9 1836.2,607.1 1836.9,605.3 1837.6,604.6 1838.3,605.5 1839.1,605.2 1839.8,606.9 1840.5,607.1 1841.2,607.2 1841.9,606.5 1842.6,602 1843.3,608.1 1844.1,605.3 1844.8,608.8 1845.5,610.4 1846.2,609.2 1846.9,608.2 1847.6,608.5 1848.3,608.5 1849.1,607.7 1849.8,607.5 1850.5,606.7 1851.2,609.7 1851.9,607.6 1852.6,608.8 1853.3,606.7 1854,607 1854.8,606.4 1855.5,607.2 1856.2,607.6 1856.9,606.6 1857.6,605.1 1858.3,604.9 1859,608.5 1859.8,605.5 1860.5,605.4 1861.2,608 1861.9,607.4 1862.6,606.6 1863.3,605.2 1864,609.4 1864.8,606.5 1865.5,606.8 1866.2,605.8 1866.9,604 1867.6,604.1 1868.3,606.8 1869,606.7 1869.7,605.7 1870.5,604.2 1871.2,603.7 1871.9,605.2 1872.6,603.4 1873.3,606.9 1874,607.2 1874.7,609.8 1875.5,606.9 1876.2,604.8 1876.9,604.6 1877.6,601 1878.3,605.7 1879,606.7 1879.7,608.8 1880.5,608.6 1881.2,608.9 1881.9,608.5 1882.6,609.3 1883.3,610.5 1884,606.6 1884.7,607.3 1885.4,605.7 1886.2,609.9 1886.9,609.1 1887.6,608.1 1888.3,604.9 1889,606.9 1889.7,606.3 1890.4,606.8 1891.2,606.5 1891.9,607.8 1892.6,606.6 1893.3,608.7 1894,607.9 1894.7,607.3 1895.4,607.7 1896.1,607.2 1896.9,609.2 1897.6,607.5 1898.3,608.4 1899,607.4 1899.7,605.7 1900.4,609.3 1901.1,606.4 1901.9,609 1902.6,608.7 1903.3,605.6 1904,606.7 1904.7,607.4 1905.4,606.9 1906.1,606.3 1906.9,609.2 1907.6,607.6 1908.3,608.5 1909,607.1 1909.7,608 1910.4,606.2 1911.1,607 1911.8,607.6 1912.6,606.5 1913.3,605.5 1914,604.3 1914.7,606 1915.4,606.1 1916.1,605.1 1916.8,604.3 1917.6,606.4 1918.3,609.4 1919,605.4 1919.7,606.6 1920.4,606.9 1921.1,602.7 1921.8,607 1922.6,606 1923.3,609.3 1924,606.9 1924.7,606.3 1925.4,607.2 1926.1,607.8 1926.8,606.8 1927.5,607.6 1928.3,605.7 1929,607.4 1929.7,608.9 1930.4,610.7 1931.1,608.7 1931.8,608 1932.5,609.3 1933.3,608.9 1934,609.8 1934.7,608.8 1935.4,606.9 1936.1,607.3 1936.8,607.2 1937.5,607.3 1938.3,607.1 1939,605.6 1939.7,603.7 1940.4,605.8 1941.1,603.8 1941.8,606.9 1942.5,606.8 1943.2,604.2 1965,600.7 1966.5,609.3"/>
<polyline class="c" points="193.5,612.6 194.9,612.6 196.4,612.6 197.8,612.6 199.2,612.6 200.6,612.6 202.1,612.6 203.5,612.6 204.9,612.6 206.3,612.6 207.8,612.6 209.2,612.6 210.6,612.6 212.1,612.6 213.5,612.6 214.9,612.6 216.3,612.6 217.8,612.6 219.2,612.6 220.6,612.6 222,612.6 223.5,612.6 224.9,612.6 226.3,612.6 227.8,612.6 229.2,612.6 230.6,612.6 232,612.6 233.5,612.6 234.9,612.6 236.3,612.6 237.7,612.6 239.2,612.6 240.6,612.6 242,612.6 243.5,612.6 244.9,612.6 246.3,612.6 247.7,612.6 249.2,612.6 250.6,612.6 252,612.6 253.4,612.6 254.9,612.6 256.3,612.6 257.7,612.6 259.2,612.6 260.6,612.6 262,612.6 263.4,612.6 264.9,612.6 266.3,612.6 267.7,612.6 269.1,612.6 270.6,612.6 272,612.6 273.4,612.6 274.9,612.6 276.3,612.6 277.7,612.6 279.1,612.6 280.6,612.6 282,612.6 283.4,612.6 284.8,612.6 286.3,612.6 287.7,612.6 289.1,612.6 290.5,612.6 292,612.6 293.4,612.6 294.8,612.6 296.3,612.6 297.7,612.6 299.1,612.6 300.5,612.6 302,612.6 303.4,612.6 304.8,612.6 306.2,612.6 307.7,612.6 309.1,612.6 310.5,612.6 312,612.6 313.4,612.6 314.8,612.6 316.2,612.6 317.7,612.6 319.1,612.6 320.5,612.6 321.9,612.6 323.4,612.6 324.8,612.6 326.2,612.6 327.7,612.6 329.1,612.6 330.5,612.6 331.9,612.6 333.4,612.6 334.8,612.6 336.2,612.6 337.6,612.6 339.1,612.6 340.5,612.6 341.9,612.6 343.4,612.6 344.8,612.6 346.2,612.6 347.6,612.6 349.1,612.6 350.5,612.6 351.9,612.6 353.3,612.6 354.8,612.6 356.2,612.6 357.6,612.6 359.1,612.6 360.5,612.6 361.9,612.6 363.3,612.6 364.8,612.6 366.2,612.6 367.6,612.6 369,612.6 370.5,612.6 371.9,612.6 373.3,612.6 374.8,612.6 376.2,612.6 377.6,612.6 379,612.6 380.5,612.6 381.9,612.6 383.3,612.6 384.7,612.6 386.2,612.6 387.6,612.6 389,612.6 390.5,612.6 391.9,612.6 393.3,612.6 394.7,612.6 396.2,612.6 397.6,612.6 399,612.6 400.4,612.6 401.9,612.6 403.3,612.6 404.7,612.6 406.2,612.6 407.6,612.6 409,612.6 410.4,612.5 411.9,612.5 413.3,612.5 414.7,612.5 416.1,612.5 417.6,612.5 419,612.5 420.4,612.5 421.9,612.5 423.3,612.5 424.7,612.5 426.1,612.5 427.6,612.5 429,612.5 430.4,612.5 431.8,612.5 433.3,612.5 434.7,612.5 436.1,612.5 437.6,612.5 439,612.5 440.4,612.5 441.8,612.5 443.3,612.5 444.7,612.5 446.1,612.5 447.5,612.5 449,612.5 450.4,612.5 451.8,612.5 453.3,612.5 454.7,612.5 456.1,612.5 457.5,612.5 459,612.5 460.4,612.5 461.8,612.5 463.2,612.5 464.7,612.5 466.1,612.5 467.5,612.5 468.9,612.5 470.4,612.5 471.8,612.5 473.2,612.5 474.7,612.5 476.1,612.5 477.5,612.5 478.9,612.5 480.4,612.4 481.8,612.4 483.2,612.4 484.6,612.4 486.1,612.4 487.5,612.4 488.9,612.4 490.4,612.4 491.8,612.4 493.2,612.4 494.6,612.4 496.1,612.4 497.5,612.4 498.9,612.3 500.3,612.3 501.8,612.3 503.2,612.3 504.6,612.3 506.1,612.3 507.5,612.3 508.9,612.2 510.3,612.2 511.8,612.2 513.2,612.2 514.6,612.1 516,612.1 517.5,612.1 518.9,612 520.3,612 521.8,611.9 523.2,611.9 524.6,611.8 526,611.7 527.5,611.7 528.9,611.6 530.3,611.5 531.7,611.3 533.2,611.2 534.6,611 536,610.8 537.5,610.5 538.9,610.1 540.3,609.6 541.7,608.7 543.2,607.4 544.6,605.3 546,602 547.4,597.2 548.9,590.7 550.3,582.5 551.7,573.4 553.2,564.7 554.6,558.4 556,556.3 557.4,559.1 558.9,565.7 560.3,574.3 561.7,583.3 563.1,591.2 564.6,597.5 566,602.2 567.4,605.3 568.9,607.4 570.3,608.7 571.7,609.6 573.1,610.1 574.6,610.5 576,610.8 577.4,611 578.8,611.2 580.3,611.3 581.7,611.4 583.1,611.5 584.6,611.6 586,611.7 587.4,611.8 588.8,611.8 590.3,611.9 591.7,611.9 593.1,612 594.5,612 596,612 597.4,612.1 598.8,612.1 600.3,612.1 601.7,612.1 603.1,612.2 604.5,612.2 606,612.2 607.4,612.2 608.8,612.2 610.2,612.2 611.7,612.2 613.1,612.2 614.5,612.3 616,612.3 617.4,612.3 618.8,612.3 620.2,612.3 621.7,612.3 623.1,612.3 624.5,612.3 625.9,612.3 627.4,612.3 628.8,612.3 630.2,612.3 631.7,612.3 633.1,612.3 634.5,612.3 635.9,612.3 637.4,612.3 638.8,612.3 640.2,612.3 641.6,612.3 643.1,612.3 644.5,612.3 645.9,612.3 647.3,612.3 648.8,612.3 650.2,612.2 651.6,612.2 653.1,612.2 654.5,612.2 655.9,612.2 657.3,612.2 658.8,612.2 660.2,612.2 661.6,612.2 663,612.2 664.5,612.2 665.9,612.1 667.3,612.1 668.8,612.1 670.2,612.1 671.6,612.1 673,612.1 674.5,612 675.9,612 677.3,612 678.7,612 680.2,612 681.6,611.9 683,611.9 684.5,611.9 685.9,611.8 687.3,611.8 688.7,611.8 690.2,611.7 691.6,611.7 693,611.6 694.4,611.6 695.9,611.5 697.3,611.5 698.7,611.4 700.2,611.3 701.6,611.2 703,611.1 704.4,611 705.9,610.9 707.3,610.8 708.7,610.7 710.1,610.5 711.6,610.4 713,610.2 714.4,610 715.9,609.7 717.3,609.4 718.7,609.1 720.1,608.8 721.6,608.3 723,607.8 724.4,607.2 725.8,606.5 727.3,605.6 728.7,604.5 730.1,602.9 731.6,600.6 733,597 734.4,591.2 735.8,582.1 737.3,568.2 738.7,548.1 740.1,521.4 741.5,489 743,454.2 744.4,423.2 745.8,403.9 747.3,401.8 748.7,416.6 750.1,443.8 751.5,477 753,510 754.4,538.4 755.8,560.7 757.2,576.8 758.7,587.6 760.1,594.6 761.5,599.1 763,601.9 764.4,603.8 765.8,605.1 767.2,606.1 768.7,606.8 770.1,607.5 771.5,608 772.9,608.4 774.4,608.8 775.8,609.1 777.2,609.4 778.7,609.6 780.1,609.8 781.5,610 782.9,610.1 784.4,610.2 785.8,610.3 787.2,610.3 788.6,610.3 790.1,610.3 791.5,610.1 792.9,609.8 794.4,609.2 795.8,608.2 797.2,606.8 798.6,604.9 800.1,602.4 801.5,599.7 802.9,597.2 804.3,595.4 805.8,595 807.2,596 808.6,598 810.1,600.6 811.5,603.3 812.9,605.7 814.3,607.6 815.8,609 817.2,610 818.6,610.6 820,611 821.5,611.3 822.9,611.4 824.3,611.6 825.7,611.7 827.2,611.8 828.6,611.8 830,611.9 831.5,611.9 832.9,612 834.3,612 835.7,612.1 837.2,612.1 838.6,612.1 840,612.1 841.4,612.2 842.9,612.2 844.3,612.2 845.7,612.2 847.2,612.2 848.6,612.3 850,612.3 851.4,612.3 852.9,612.3 854.3,612.3 855.7,612.3 857.1,612.3 858.6,612.3 860,612.4 861.4,612.4 862.9,612.4 864.3,612.4 865.7,612.4 867.1,612.4 868.6,612.4 870,612.4 871.4,612.4 872.8,612.4 874.3,612.4 875.7,612.4 877.1,612.4 878.6,612.4 880,612.4 881.4,612.4 882.8,612.4 884.3,612.5 885.7,612.5 887.1,612.5 888.5,612.5 890,612.5 891.4,612.5 892.8,612.5 894.3,612.5 895.7,612.5 897.1,612.5 898.5,612.5 900,612.5 901.4,612.5 902.8,612.5 904.2,612.5 905.7,612.5 907.1,612.5 908.5,612.5 910,612.5 911.4,612.5 912.8,612.5 914.2,612.5 915.7,612.5 917.1,612.5 918.5,612.5 919.9,612.5 921.4,612.5 922.8,612.5 924.2,612.5 925.7,612.5 927.1,612.5 928.5,612.5 929.9,612.5 931.4,612.5 932.8,612.5 934.2,612.5 935.6,612.5 937.1,612.5 938.5,612.5 939.9,612.5 941.4,612.5 942.8,612.5 944.2,612.5 945.6,612.5 947.1,612.5 948.5,612.5 949.9,612.5 951.3,612.5 952.8,612.5 954.2,612.4 955.6,612.4 957.1,612.4 958.5,612.4 959.9,612.4 961.3,612.4 962.8,612.4 964.2,612.4 965.6,612.4 967,612.4 968.5,612.4 969.9,612.3 971.3,612.3 972.8,612.3 974.2,612.3 975.6,612.3 977,612.2 978.5,612.2 979.9,612.2 981.3,612.1 982.7,612.1 984.2,612.1 985.6,612 987,612 988.5,611.9 989.9,611.8 991.3,611.7 992.7,611.6 994.2,611.5 995.6,611.4 997,611.2 998.4,611 999.9,610.8 1001.3,610.4 1002.7,609.9 1004.1,609.2 1005.6,608 1007,606 1008.4,603.1 1009.9,598.9 1011.3,593.1 1012.7,586 1014.1,578.1 1015.6,570.6 1017,565.2 1018.4,563.3 1019.8,565.1 1021.3,569.9 1022.7,576.7 1024.1,584.3 1025.6,591.4 1027,597.3 1028.4,601.9 1029.8,605.1 1031.3,607.3 1032.7,608.8 1034.1,609.7 1035.5,610.3 1037,610.7 1038.4,611 1039.8,611.2 1041.3,611.4 1042.7,611.5 1044.1,611.6 1045.5,611.7 1047,611.8 1048.4,611.9 1049.8,612 1051.2,612 1052.7,612.1 1054.1,612.1 1055.5,612.2 1057,612.2 1058.4,612.2 1059.8,612.3 1061.2,612.3 1062.7,612.3 1064.1,612.3 1065.5,612.4 1066.9,612.4 1068.4,612.4 1069.8,612.4 1071.2,612.4 1072.7,612.4 1074.1,612.5 1075.5,612.5 1076.9,612.5 1078.4,612.5 1079.8,612.5 1081.2,612.5 1082.6,612.5 1084.1,612.5 1085.5,612.5 1086.9,612.5 1088.4,612.5 1089.8,612.5 1091.2,612.5 1092.6,612.6 1094.1,612.6 1095.5,612.6 1096.9,612.6 1098.3,612.6 1099.8,612.6 1101.2,612.6 1102.6,612.6 1104.1,612.6 1105.5,612.6 1106.9,612.6 1108.3,612.6 1109.8,612.6 1111.2,612.6 1112.6,612.6 1114,612.6 1115.5,612.6 1116.9,612.6 1118.3,612.6 1119.8,612.6 1121.2,612.6 1122.6,612.6 1124,612.6 1125.5,612.6 1126.9,612.6 1128.3,612.6 1129.7,612.6 1131.2,612.6 1132.6,612.6 1134,612.6 1135.5,612.6 1136.9,612.6 1138.3,612.6 1139.7,612.6 1141.2,612.6 1142.6,612.6 1144,612.6 1145.4,612.6 1146.9,612.6 1148.3,612.6 1149.7,612.6 1151.2,612.6 1152.6,612.6 1154,612.6 1155.4,612.6 1156.9,612.6 1158.3,612.6 1159.7,612.6 1161.1,612.6 1162.6,612.6 1164,612.7 1165.4,612.7 1166.9,612.7 1168.3,612.7 1169.7,612.7 1171.1,612.7 1172.6,612.7 1174,612.7 1175.4,612.7 1176.8,612.7 1178.3,612.7 1179.7,612.7 1181.1,612.7 1182.5,612.7 1184,612.7 1185.4,612.7 1186.8,612.7 1188.3,612.7 1189.7,612.7 1191.1,612.7 1192.5,612.7 1194,612.7 1195.4,612.7 1196.8,612.7 1198.2,612.7 1199.7,612.7 1201.1,612.7 1202.5,612.7 1204,612.7 1205.4,612.7 1206.8,612.7 1208.2,612.7 1209.7,612.7 1211.1,612.7 1212.5,612.7 1213.9,612.7 1215.4,612.7 1216.8,612.7 1218.2,612.7 1219.7,612.7 1221.1,612.7 1222.5,612.7 1223.9,612.7 1225.4,612.7 1226.8,612.7 1228.2,612.7 1229.6,612.7 1231.1,612.7 1232.5,612.7 1233.9,612.7 1235.4,612.7 1236.8,612.7 1238.2,612.7 1239.6,612.7 1241.1,612.7 1242.5,612.7 1243.9,612.7 1245.3,612.7 1246.8,612.7 1248.2,612.7 1249.6,612.7 1251.1,612.7 1252.5,612.7 1253.9,612.7 1255.3,612.7 1256.8,612.7 1258.2,612.7 1259.6,612.7 1261,612.7 1262.5,612.7 1263.9,612.7 1265.3,612.7 1266.8,612.7 1268.2,612.7 1269.6,612.7 1271,612.7 1272.5,612.7 1273.9,612.7 1275.3,612.7 1276.7,612.6 1278.2,612.6 1279.6,612.6 1281,612.6 1282.5,612.6 1283.9,612.6 1285.3,612.6 1286.7,612.6 1288.2,612.6 1289.6,612.6 1291,612.6 1292.4,612.6 1293.9,612.6 1295.3,612.6 1296.7,612.6 1298.2,612.6 1299.6,612.6 1301,612.6 1302.4,612.6 1303.9,612.6 1305.3,612.6 1306.7,612.6 1308.1,612.6 1309.6,612.6 1311,612.6 1312.4,612.6 1313.9,612.6 1315.3,612.6 1316.7,612.6 1318.1,612.6 1319.6,612.6 1321,612.6 1322.4,612.6 1323.8,612.6 1325.3,612.6 1326.7,612.6 1328.1,612.6 1329.6,612.6 1331,612.6 1332.4,612.6 1333.8,612.6 1335.3,612.6 1336.7,612.6 1338.1,612.5 1339.5,612.5 1341,612.5 1342.4,612.5 1343.8,612.5 1345.3,612.5 1346.7,612.5 1348.1,612.5 1349.5,612.5 1351,612.5 1352.4,612.4 1353.8,612.4 1355.2,612.4 1356.7,612.4 1358.1,612.4 1359.5,612.3 1360.9,612.3 1362.4,612.3 1363.8,612.2 1365.2,612.2 1366.7,612.1 1368.1,612.1 1369.5,612 1370.9,611.9 1372.4,611.8 1373.8,611.6 1375.2,611.4 1376.6,611 1378.1,610.5 1379.5,609.6 1380.9,608.2 1382.4,606.2 1383.8,603.4 1385.2,599.9 1386.6,596 1388.1,592.2 1389.5,589.5 1390.9,588.5 1392.3,589.2 1393.8,591.1 1395.2,593.9 1396.6,597.3 1398.1,600.8 1399.5,603.9 1400.9,606.3 1402.3,608.2 1403.8,609.5 1405.2,610.4 1406.6,611 1408,611.3 1409.5,611.6 1410.9,611.7 1412.3,611.8 1413.8,611.9 1415.2,612 1416.6,612.1 1418,612.1 1419.5,612.2 1420.9,612.2 1422.3,612.2 1423.7,612.2 1425.2,612.3 1426.6,612.3 1428,612.3 1429.5,612.3 1430.9,612.3 1432.3,612.3 1433.7,612.3 1435.2,612.3 1436.6,612.3 1438,612.4 1439.4,612.4 1440.9,612.4 1442.3,612.4 1443.7,612.4 1445.2,612.4 1446.6,612.3 1448,612.3 1449.4,612.3 1450.9,612.3 1452.3,612.3 1453.7,612.3 1455.1,612.3 1456.6,612.3 1458,612.3 1459.4,612.3 1460.9,612.2 1462.3,612.2 1463.7,612.2 1465.1,612.2 1466.6,612.2 1468,612.1 1469.4,612.1 1470.8,612.1 1472.3,612.1 1473.7,612 1475.1,612 1476.6,611.9 1478,611.9 1479.4,611.8 1480.8,611.7 1482.3,611.7 1483.7,611.6 1485.1,611.5 1486.5,611.4 1488,611.3 1489.4,611.1 1490.8,611 1492.3,610.8 1493.7,610.5 1495.1,610.2 1496.5,609.9 1498,609.5 1499.4,608.9 1500.8,608.1 1502.2,606.8 1503.7,604.7 1505.1,601.5 1506.5,596.3 1508,588.8 1509.4,578.6 1510.8,565.9 1512.2,551.8 1513.7,538.7 1515.1,529.7 1516.5,527 1517.9,530.1 1519.4,537 1520.8,546.6 1522.2,558.2 1523.7,570.2 1525.1,581.1 1526.5,590 1527.9,596.7 1529.4,601.4 1530.8,604.6 1532.2,606.7 1533.6,608.1 1535.1,608.9 1536.5,609.5 1537.9,610 1539.3,610.3 1540.8,610.6 1542.2,610.8 1543.6,611 1545.1,611.1 1546.5,611.3 1547.9,611.4 1549.3,611.5 1550.8,611.6 1552.2,611.7 1553.6,611.8 1555,611.8 1556.5,611.9 1557.9,611.9 1559.3,612 1560.8,612 1562.2,612.1 1563.6,612.1 1565,612.1 1566.5,612.2 1567.9,612.2 1569.3,612.2 1570.7,612.2 1572.2,612.2 1573.6,612.3 1575,612.3 1576.5,612.3 1577.9,612.3 1579.3,612.3 1580.7,612.3 1582.2,612.3 1583.6,612.4 1585,612.4 1586.4,612.4 1587.9,612.4 1589.3,612.4 1590.7,612.4 1592.2,612.4 1593.6,612.4 1595,612.4 1596.4,612.4 1597.9,612.4 1599.3,612.4 1600.7,612.4 1602.1,612.4 1603.6,612.4 1605,612.4 1606.4,612.4 1607.9,612.4 1609.3,612.4 1610.7,612.4 1612.1,612.4 1613.6,612.4 1615,612.4 1616.4,612.4 1617.8,612.4 1619.3,612.4 1620.7,612.4 1622.1,612.4 1623.6,612.4 1625,612.4 1626.4,612.4 1627.8,612.4 1629.3,612.4 1630.7,612.4 1632.1,612.4 1633.5,612.4 1635,612.4 1636.4,612.4 1637.8,612.4 1639.3,612.4 1640.7,612.4 1642.1,612.3 1643.5,612.3 1645,612.3 1646.4,612.3 1647.8,612.3 1649.2,612.3 1650.7,612.3 1652.1,612.3 1653.5,612.2 1655,612.2 1656.4,612.2 1657.8,612.2 1659.2,612.2 1660.7,612.1 1662.1,612.1 1663.5,612.1 1664.9,612 1666.4,612 1667.8,612 1669.2,611.9 1670.7,611.9 1672.1,611.8 1673.5,611.8 1674.9,611.7 1676.4,611.7 1677.8,611.6 1679.2,611.5 1680.6,611.4 1682.1,611.3 1683.5,611.2 1684.9,611.1 1686.4,610.9 1687.8,610.7 1689.2,610.5 1690.6,610.3 1692.1,610 1693.5,609.7 1694.9,609.3 1696.3,608.8 1697.8,608.2 1699.2,607.5 1700.6,606.4 1702.1,604.9 1703.5,602.3 1704.9,598.2 1706.3,591.4 1707.8,581 1709.2,566.2 1710.6,547.2 1712,525.3 1713.5,504.1 1714.9,488.8 1716.3,483.7 1717.7,487.9 1719.2,497.4 1720.6,509.9 1722,525 1723.5,542.1 1724.9,558.9 1726.3,573.5 1727.7,585.1 1729.2,593.5 1730.6,599.2 1732,603 1733.4,605.3 1734.9,606.8 1736.3,607.8 1737.7,608.5 1739.2,609.1 1740.6,609.5 1742,609.9 1743.4,610.2 1744.9,610.4 1746.3,610.7 1747.7,610.8 1749.1,611 1750.6,611.1 1752,611.3 1753.4,611.4 1754.9,611.5 1756.3,611.6 1757.7,611.6 1759.1,611.7 1760.6,611.8 1762,611.8 1763.4,611.9 1764.8,611.9 1766.3,612 1767.7,612 1769.1,612.1 1770.6,612.1 1772,612.1 1773.4,612.1 1774.8,612.2 1776.3,612.2 1777.7,612.2 1779.1,612.2 1780.5,612.3 1782,612.3 1783.4,612.3 1784.8,612.3 1786.3,612.3 1787.7,612.3 1789.1,612.3 1790.5,612.4 1792,612.4 1793.4,612.4 1794.8,612.4 1796.2,612.4 1797.7,612.4 1799.1,612.4 1800.5,612.4 1802,612.4 1803.4,612.4 1804.8,612.4 1806.2,612.4 1807.7,612.4 1809.1,612.4 1810.5,612.4 1811.9,612.4 1813.4,612.4 1814.8,612.3 1816.2,612.3 1817.7,612.2 1819.1,612.1 1820.5,612 1821.9,611.7 1823.4,611.3 1824.8,610.7 1826.2,610 1827.6,609.1 1829.1,608.3 1830.5,607.7 1831.9,607.5 1833.4,607.6 1834.8,608 1836.2,608.4 1837.6,609 1839.1,609.6 1840.5,610.2 1841.9,610.8 1843.3,611.3 1844.8,611.7 1846.2,612 1847.6,612.2 1849.1,612.3 1850.5,612.4 1851.9,612.4 1853.3,612.5 1854.8,612.5 1856.2,612.5 1857.6,612.5 1859,612.5 1860.5,612.5 1861.9,612.6 1863.3,612.6 1864.8,612.6 1866.2,612.6 1867.6,612.6 1869,612.6 1870.5,612.6 1871.9,612.6 1873.3,612.6 1874.7,612.6 1876.2,612.6 1877.6,612.6 1879,612.6 1880.5,612.6 1881.9,612.6 1883.3,612.6 1884.7,612.6 1886.2,612.6 1887.6,612.6 1889,612.6 1890.4,612.6 1891.9,612.7 1893.3,612.7 1894.7,612.7 1896.1,612.7 1897.6,612.7 1899,612.7 1900.4,612.7 1901.9,612.7 1903.3,612.7 1904.7,612.7 1906.1,612.7 1907.6,612.7 1909,612.7 1910.4,612.7 1911.8,612.7 1913.3,612.7 1914.7,612.7 1916.1,612.7 1917.6,612.7 1919,612.7 1920.4,612.7 1921.8,612.7 1923.3,612.7 1924.7,612.7 1926.1,612.7 1927.5,612.7 1929,612.7 1930.4,612.7 1931.8,612.7 1933.3,612.7 1934.7,612.7 1936.1,612.7 1937.5,612.7 1939,612.7 1940.4,612.7 1941.8,612.7 1943.2,612.7 1944.7,612.7 1946.1,612.7 1947.5,612.7 1949,612.7 1950.4,612.7 1951.8,612.7 1953.2,612.7 1954.7,612.7 1956.1,612.7 1957.5,612.7 1958.9,612.7 1960.4,612.7 1961.8,612.7 1963.2,612.7"/>
<polyline class="o" marker-start="url(#m3)" marker-mid="url(#m3)" marker-end="url(#m3)" points="193.5,941.9 194.2,944.3 194.9,943.9 195.6,944.1 196.4,942.2 197.1,946.8 197.8,942.2 198.5,942.6 199.2,941.2 199.9,944.1 200.6,941.5 201.3,943.4 202.1,940.9 202.8,942.7 203.5,941.9 204.2,943.7 204.9,942.2 205.6,941.6 206.3,943.4 207.1,941.3 207.8,941.6 208.5,943.9 209.2,940.4 209.9,943.9 210.6,942.3 211.3,941.6 212.1,943.2 212.8,943.8 213.5,942.3 214.2,943 214.9,944.5 215.6,944.6 216.3,943.7 217,942.8 217.8,942.7 218.5,943.3 219.2,945 219.9,944.9 220.6,944.5 221.3,946 222,943.7 222.8,943.5 223.5,943.4 224.2,946.3 224.9,940.9 225.6,943.8 226.3,943.8 227,943 227.8,945.8 228.5,943.9 229.2,943.1 229.9,940.6 230.6,942.3 231.3,941 232,941.5 232.7,941.7 233.5,940.9 234.2,942.6 234.9,944.2 235.6,943.7 236.3,943 237,940.6 237.7,945 238.5,945.4 239.2,944.2 239.9,944.2 240.6,946.1 241.3,944.5 242,946.9 242.7,944.6 243.5,945.1 244.2,946.5 244.9,944.7 245.6,946.8 246.3,947.6 247,945.2 247.7,948.2 248.4,946.3 249.2,947.8 249.9,947.4 250.6,946.6 251.3,946.6 252,945.1 252.7,946.5 253.4,946.5 254.2,949.8 254.9,949.1 255.6,946.1 256.3,949.1 257,948.4 257.7,947.7 258.4,948.9 259.2,949.4 259.9,947.7 260.6,948.1 261.3,948.6 262,947.1 262.7,948.6 263.4,948.2 264.1,947.3 264.9,947.1 265.6,948.6 266.3,949.3 267,948.6 267.7,947 268.4,949.1 269.1,948.4 269.9,948.9 270.6,949.6 271.3,946.8 272,947.7 272.7,947 273.4,946.4 274.1,950 274.9,948.4 275.6,944.6 276.3,947.3 277,945.9 277.7,948 278.4,946.6 279.1,946.2 279.8,946.7 280.6,947.1 281.3,946.8 282,946.6 282.7,946.9 283.4,947.9 284.1,945.9 284.8,947.4 285.6,947.4 286.3,946.9 287,948.5 287.7,945.8 288.4,947 289.1,946.3 289.8,948 290.5,946.5 291.3,947 292,947.4 292.7,944.6 293.4,947.2 294.1,945.6 294.8,946.2 295.5,946.3 296.3,947.5 297,947.4 297.7,948.8 298.4,946.7 299.1,945.9 299.8,945.8 300.5,947.4 301.3,948.6 302,947 302.7,945.8 303.4,946.9 304.1,946.9 304.8,946.6 305.5,945.6 306.2,943.2 307,945.8 307.7,947.8 308.4,946.7 309.1,943.4 309.8,946.2 310.5,943.6 311.2,948.5 312,945.9 312.7,943.9 313.4,946.4 314.1,944.1 314.8,945.8 315.5,945 316.2,943.4 317,945.8 317.7,943.3 318.4,946.9 319.1,945.4 319.8,944.1 320.5,943.2 321.2,947.9 321.9,947.8 322.7,944.3 323.4,948.1 324.1,946.2 324.8,945.7 325.5,945.9 326.2,945.7 326.9,948 327.7,946.4 328.4,943.9 329.1,949.3 329.8,948 330.5,945.6 331.2,946.9 331.9,946.5 332.7,948 333.4,948.7 334.1,948.8 334.8,947.9 335.5,947.8 336.2,950.1 336.9,948.9 337.6,952 338.4,947.9 339.1,949.8 339.8,948.7 340.5,947.3 341.2,949.7 341.9,947.7 342.6,945.8 343.4,946.1 344.1,947.3 344.8,943.8 345.5,946.8 346.2,945.4 346.9,943.9 347.6,945.8 348.4,946.2 349.1,944.7 349.8,944.2 350.5,946.7 351.2,946.4 351.9,943.6 352.6,944.8 353.3,945.1 354.1,945.1 354.8,943.9 355.5,947.3 356.2,946.4 356.9,946.6 357.6,948.4 358.3,946 359.1,946.8 359.8,947.3 360.5,946.6 361.2,947.2 361.9,948.5 362.6,947.7 363.3,949.8 364.1,947.3 364.8,948.8 365.5,946.9 366.2,948.9 366.9,948.4 367.6,951.4 368.3,950.7 369,950.5 369.8,952.3 370.5,951.7 371.2,950.7 371.9,948.7 372.6,947.5 373.3,949.2 374,948.6 374.8,948 375.5,948.3 376.2,946.4 376.9,950.5 377.6,947 378.3,947.7 379,949.4 379.7,946.5 380.5,950 381.2,950.1 381.9,948.4 382.6,947.4 383.3,948.2 384,946.3 384.7,950.5 385.5,948.6 386.2,947.4 386.9,947 387.6,948.9 388.3,950 389,946.3 389.7,947.2 390.5,945.6 391.2,948.8 391.9,948 392.6,950.7 393.3,947.4 394,946.8 394.7,946.2 395.4,948.1 396.2,944.5 396.9,947.5 397.6,946.7 398.3,945.5 399,944.9 399.7,947.6 400.4,948.7 401.2,945.7 401.9,947.1 402.6,948.8 403.3,945.7 404,946.2 404.7,944.9 405.4,946.2 406.2,946.2 406.9,945.5 407.6,944.9 408.3,943.6 409,943.7 409.7,944 410.4,946 411.1,944.4 411.9,943.9 412.6,945.9 413.3,945.9 414,944.3 414.7,944.6 415.4,946.6 416.1,946.5 416.9,945.2 417.6,947 418.3,947.1 419,949 419.7,946.8 420.4,949.6 421.1,949.4 421.9,947.8 422.6,950.9 423.3,950.9 424,948.1 424.7,952.7 425.4,948.5 426.1,948.8 426.8,949.5 427.6,950.8 428.3,950.4 429,949.3 429.7,951 430.4,949.5 431.1,950.7 431.8,952.5 432.6,948.8 433.3,944.9 434,947.7 434.7,946.8 435.4,948.4 436.1,948.3 436.8,946.5 437.6,946.5 438.3,947.7 439,947.7 439.7,944.3 440.4,949 441.1,947.6 441.8,947.5 442.5,947.8 443.3,945.9 444,947.2 444.7,948.6 445.4,948.6 446.1,947.8 446.8,946.9 447.5,946.2 448.3,949.3 449,948.3 449.7,947.2 450.4,945 451.1,946.9 451.8,945.6 452.5,950.1 453.3,948.8 454,947.6 454.7,948.4 455.4,952.5 456.1,950.7 456.8,947.2 457.5,949 458.2,947.5 459,946.8 459.7,949.5 460.4,952.5 461.1,951.3 461.8,949.1 462.5,948.5 463.2,949.2 464,950.2 464.7,946.7 465.4,946 466.1,951.2 466.8,949 467.5,950.8 468.2,949 468.9,950.8 469.7,947.9 470.4,949.6 471.1,951.1 471.8,950.4 472.5,948.4 473.2,950.3 473.9,948.2 474.7,947.1 475.4,949.7 476.1,950.9 476.8,950 477.5,946.9 478.2,949.8 478.9,949.3 479.7,947.5 480.4,944.4 481.1,949.1 481.8,948.6 482.5,947.7 483.2,944.3 483.9,944.3 484.6,947.6 485.4,947 486.1,946.4 486.8,945.1 487.5,945.9 488.2,944.5 488.9,944.8 489.6,944 490.4,945.7 491.1,944.9 491.8,947 492.5,946.8 493.2,944.9 493.9,948.9 494.6,944.9 495.4,947.4 496.1,948.5 496.8,949 497.5,944.2 498.2,948.9 498.9,949.3 499.6,949.6 500.3,944.3 501.1,946.3 501.8,946.9 502.5,946 503.2,948.2 503.9,944.9 504.6,947.2 505.3,945.9 506.1,942.8 506.8,943.2 507.5,943.9 508.2,944.6 508.9,946 509.6,944.5 510.3,946.2 511.1,942.9 511.8,941.1 512.5,945.3 513.2,946.7 513.9,945.8 514.6,945.1 515.3,947.4 516,949.7 516.8,946.9 517.5,946.2 518.2,946 518.9,950.1 519.6,947.2 520.3,948 521,948.7 521.8,948.3 522.5,945.1 523.2,947.4 523.9,946.8 524.6,945.8 525.3,945.9 526,943 526.8,943 527.5,941.7 528.2,942.9 528.9,940.2 529.6,941.1 530.3,938.3 531,939.2 531.7,938.4 532.5,938.3 533.2,938.2 533.9,937.3 534.6,936.8 535.3,933.5 536,937.6 536.7,934.4 537.5,934.3 538.2,932.6 538.9,934.5 539.6,930.7 540.3,931.8 541,931.7 541.7,931.2 542.5,929.2 543.2,927 543.9,922.7 544.6,924.9 545.3,923 546,920.6 546.7,918.6 547.4,915.4 548.2,912.3 548.9,912.5 549.6,910.5 550.3,904.5 551,905.2 551.7,901.9 552.4,900.8 553.2,897.9 553.9,897.5 554.6,896 555.3,894.7 556,890.3 556.7,893.6 557.4,892.4 558.1,891 558.9,894.8 559.6,892.7 560.3,897.8 561,900.9 561.7,899.4 562.4,903.8 563.1,905.4 563.9,908.1 564.6,907.4 565.3,912.9 566,914.5 566.7,917.7 567.4,918.8 568.1,922.6 568.9,923.2 569.6,925.6 570.3,928.3 571,928 571.7,930.6 572.4,930.7 573.1,932.4 573.8,932 574.6,935 575.3,936.7 576,935.9 576.7,938.2 577.4,938.7 578.1,937.5 578.8,940.7 579.6,943 580.3,941.3 581,940.3 581.7,944 582.4,943.5 583.1,947.8 583.8,945.7 584.6,946.2 585.3,945.7 586,947.3 586.7,946.3 587.4,945.9 588.1,947 588.8,945.8 589.5,948.5 590.3,944.7 591,945.9 591.7,944.6 592.4,943.3 593.1,947.4 593.8,941.9 594.5,946.8 595.3,942.7 596,945 596.7,948.2 597.4,942.2 598.1,943.5 598.8,947.5 599.5,946.1 600.3,945.2 601,946 601.7,944.6 602.4,945.9 603.1,947.5 603.8,944.5 604.5,944.8 605.2,945.8 606,946.3 606.7,942.2 607.4,942.9 608.1,941.2 608.8,940.6 609.5,940.6 610.2,940 611,938.2 611.7,937.8 612.4,939.6 613.1,940.9 613.8,942.6 614.5,940.5 615.2,941.4 616,943 616.7,943.6 617.4,942.9 618.1,943.6 618.8,946.8 619.5,944.1 620.2,944.3 620.9,943.1 621.7,946.2 622.4,945.4 623.1,948.5 623.8,945.4 624.5,947 625.2,947.1 625.9,948 626.7,943.7 627.4,947.5 628.1,945 628.8,944.5 629.5,943.9 630.2,943.3 630.9,942.8 631.7,939.5 632.4,942.9 633.1,941.6 633.8,939.6 634.5,940.2 635.2,943 635.9,939.9 636.6,938.4 637.4,941.2 638.1,937.6 638.8,938.6 639.5,938.2 640.2,939 640.9,940.9 641.6,941.2 642.4,939.9 643.1,941.4 643.8,942.2 644.5,942 645.2,943 645.9,942.3 646.6,942.6 647.3,943.9 648.1,942.5 648.8,944.7 649.5,943.8 650.2,942.8 650.9,943.2 651.6,943.3 652.3,943.6 653.1,943.7 653.8,942.9 654.5,941.4 655.2,943.9 655.9,942.2 656.6,940 657.3,939.8 658.1,937.3 658.8,934.6 659.5,933.1 660.2,934.7 660.9,930 661.6,927.8 662.3,923.5 663,923.1 663.8,924 664.5,920.1 665.2,920.5 665.9,920.8 666.6,920.5 667.3,923 668,922.5 668.8,924.8 669.5,925.3 670.2,932.5 670.9,931.3 671.6,933.3 672.3,937.2 673,936.4 673.8,938.8 674.5,939.1 675.2,941.3 675.9,941.6 676.6,943.6 677.3,943 678,942.6 678.7,943 679.5,943.2 680.2,942.5 680.9,944.3 681.6,943.6 682.3,942.7 683,940.6 683.7,942.8 684.5,940.2 685.2,942.2 685.9,942 686.6,941.2 687.3,940.9 688,941.1 688.7,945.1 689.5,941.9 690.2,942.1 690.9,943.8 691.6,943 692.3,944 693,940.8 693.7,941 694.4,947.2 695.2,942.4 695.9,942.1 696.6,942.7 697.3,943.9 698,940.9 698.7,943 699.4,942.6 700.2,943.6 700.9,942.9 701.6,941.9 702.3,941.4 703,939.1 703.7,943.7 704.4,940 705.2,941.2 705.9,943.7 706.6,940.4 707.3,941.3 708,939.6 708.7,940.2 709.4,938.7 710.1,937.2 710.9,939.2 711.6,936.3 712.3,934.2 713,935.2 713.7,935.9 714.4,933.2 715.1,935.6 715.9,935.2 716.6,936.9 717.3,932.5 718,934 718.7,930.2 719.4,931.4 720.1,931.4 720.9,930.9 721.6,929.2 722.3,928 723,925.9 723.7,924.6 724.4,924 725.1,922.6 725.8,920.7 726.6,918.9 727.3,916.8 728,909.6 728.7,908.5 729.4,905.7 730.1,901.3 730.8,899.9 731.6,894.9 732.3,888.6 733,883.5 733.7,879.4 734.4,870.3 735.1,863.3 735.8,857.7 736.5,849 737.3,842 738,831.4 738.7,822.9 739.4,811.4 740.1,801.4 740.8,793.7 741.5,780.1 742.3,776.7 743,769.7 743.7,760.9 744.4,754 745.1,751 745.8,745 746.5,744.1 747.3,745 748,742.5 748.7,744.5 749.4,746.7 750.1,750.5 750.8,755.9 751.5,761.9 752.2,770.9 753,774.2 753.7,784.9 754.4,795.2 755.1,801.6 755.8,811.9 756.5,819.9 757.2,830.5 758,839.8 758.7,849 759.4,855.3 760.1,860.8 760.8,869.3 761.5,876.3 762.2,883.8 763,883.9 763.7,893 764.4,894.5 765.1,902.8 765.8,906.5 766.5,910.3 767.2,914.3 767.9,916.6 768.7,917.9 769.4,922 770.1,925.5 770.8,925.7 771.5,927.8 772.2,927.7 772.9,932.7 773.7,931.6 774.4,932.5 775.1,934 775.8,934.3 776.5,935.9 777.2,938.7 777.9,938.5 778.7,939.8 779.4,940.2 780.1,937 780.8,939.1 781.5,940.7 782.2,941.9 782.9,936.8 783.6,936.9 784.4,939.8 785.1,938.9 785.8,938.1 786.5,940.3 787.2,938.8 787.9,936.9 788.6,940.3 789.4,940.6 790.1,941.4 790.8,941.8 791.5,940.7 792.2,940.1 792.9,939.4 793.6,937.8 794.4,939.3 795.1,941 795.8,940.2 796.5,941.8 797.2,938.1 797.9,935.2 798.6,938.2 799.3,937.8 800.1,933.8 800.8,932.4 801.5,934.2 802.2,934.3 802.9,931.1 803.6,931.8 804.3,930.8 805.1,930.1 805.8,929.9 806.5,932.1 807.2,931.7 807.9,931.6 808.6,929.4 809.3,936.2 810.1,932.9 810.8,934.8 811.5,934 812.2,936.9 812.9,935 813.6,938 814.3,938.4 815,940.7 815.8,938.5 816.5,939.8 817.2,941.1 817.9,945 818.6,940.5 819.3,943.5 820,942.7 820.8,944.4 821.5,945.2 822.2,944.7 822.9,945 823.6,945.1 824.3,943.9 825,944.4 825.7,942.3 826.5,944 827.2,943.3 827.9,943.8 828.6,944.9 829.3,944.1 830,944 830.7,944.5 831.5,939.4 832.2,942.9 832.9,941.9 833.6,941.5 834.3,939.5 835,941.8 835.7,942.4 836.5,942.1 837.2,940.4 837.9,941.3 838.6,941.6 839.3,942.9 840,942.1 840.7,940.7 841.4,940.7 842.2,941 842.9,941.2 843.6,940.3 844.3,942.2 845,940.4 845.7,940.5 846.4,942.2 847.2,941.2 847.9,941.9 848.6,939.6 849.3,943.8 850,943 850.7,943 851.4,944.1 852.2,944 852.9,942.9 853.6,946.8 854.3,943.6 855,945.7 855.7,947 856.4,943.7 857.1,944.8 857.9,943.6 858.6,946.3 859.3,944.5 860,943.7 860.7,947.2 861.4,946.8 862.1,944.6 862.9,947.6 863.6,946.5 864.3,950.1 865,948.9 865.7,946 866.4,946.5 867.1,945.7 867.9,947.2 868.6,947.1 869.3,948.1 870,947.4 870.7,945.3 871.4,946.4 872.1,949.5 872.8,949.3 873.6,947.6 874.3,947.7 875,947.7 875.7,947.9 876.4,945.5 877.1,948.9 877.8,946.6 878.6,947.5 879.3,943.6 880,947.1 880.7,948.4 881.4,943.3 882.1,948.3 882.8,946.7 883.6,944.9 884.3,943.7 885,947.3 885.7,946 886.4,946.4 887.1,945.2 887.8,944.4 888.5,946.6 889.3,944.1 890,946.5 890.7,943 891.4,944 892.1,943.3 892.8,947.1 893.5,943 894.3,943.9 895,946.4 895.7,945.9 896.4,948.6 897.1,948.1 897.8,946.4 898.5,946.4 899.3,942.8 900,943.9 900.7,944.5 901.4,944.5 902.1,942.6 902.8,943 903.5,942.9 904.2,945.2 905,944.1 905.7,942.9 906.4,942.7 907.1,943.3 907.8,941.7 908.5,942.1 909.2,939.8 910,942.8 910.7,942.9 911.4,941.8 912.1,941.7 912.8,941.4 913.5,943.5 914.2,940.9 914.9,938.8 915.7,939.2 916.4,941.7 917.1,942.4 917.8,942.2 918.5,942.5 919.2,941.8 919.9,939.8 920.7,941 921.4,939.7 922.1,941.7 922.8,940.5 923.5,942.6 924.2,942.3 924.9,940 925.7,943.8 926.4,944 927.1,941.3 927.8,943.6 928.5,944.6 929.2,943.4 929.9,945.2 930.6,944.5 931.4,945.8 932.1,944.8 932.8,944.5 933.5,945.6 934.2,946.1 934.9,945.6 935.6,944.9 936.4,944.7 937.1,945.5 937.8,945.6 938.5,947 939.2,947.3 939.9,947.3 940.6,947.8 941.4,948.3 942.1,950.5 942.8,950.2 943.5,947.9 944.2,949.4 944.9,948.4 945.6,948.6 946.3,948.3 947.1,947.7 947.8,946.5 948.5,944.9 949.2,948.4 949.9,949.6 950.6,946.5 951.3,948.3 952.1,947 952.8,947.8 953.5,946.1 954.2,946.8 954.9,946.7 955.6,943.4 956.3,946.8 957.1,946.1 957.8,942.7 958.5,946.9 959.2,945.7 959.9,945.9 960.6,946 961.3,944.7 962,943.7 962.8,944.4 963.5,944.3 964.2,947.7 964.9,947 965.6,943.6 966.3,943.5 967,944.3 967.8,944.5 968.5,942.6 969.2,942 969.9,946 970.6,944.7 971.3,941.1 972,940.8 972.8,942.3 973.5,943.9 974.2,944.5 974.9,943.5 975.6,941.9 976.3,944.6 977,945.3 977.7,944.5 978.5,943.8 979.2,945.2 979.9,944.1 980.6,942.4 981.3,943.8 982,941.6 982.7,944.4 983.5,943.5 984.2,941.1 984.9,942.6 985.6,943.8 986.3,938.8 987,941.4 987.7,943.7 988.5,939 989.2,940.8 989.9,938.8 990.6,940.6 991.3,937.1 992,938.1 992.7,939.5 993.4,940.4 994.2,940.6 994.9,940.6 995.6,941.6 996.3,940.9 997,940.8 997.7,938.1 998.4,939 999.2,943.4 999.9,941.6 1000.6,938.8 1001.3,937.9 1002,937.3 1002.7,934.2 1003.4,936.4 1004.1,931.6 1004.9,930.6 1005.6,932.4 1006.3,924.5 1007,926.6 1007.7,921.8 1008.4,921.8 1009.1,921.1 1009.9,919.1 1010.6,918.3 1011.3,915.3 1012,914.9 1012.7,911.7 1013.4,911.6 1014.1,908.7 1014.9,910.6 1015.6,906.4 1016.3,908.5 1017,905.8 1017.7,905.3 1018.4,907 1019.1,904.9 1019.8,901.6 1020.6,905.3 1021.3,900.1 1022,905.4 1022.7,904.9 1023.4,903.9 1024.1,907 1024.8,907.3 1025.6,911.9 1026.3,909.2 1027,914.2 1027.7,914.6 1028.4,912.9 1029.1,914.1 1029.8,918.9 1030.6,918.3 1031.3,920.4 1032,921.5 1032.7,921.8 1033.4,924.7 1034.1,925.5 1034.8,926.3 1035.5,929.7 1036.3,934.3 1037,935.4 1037.7,934.2 1038.4,935.6 1039.1,937.2 1039.8,939.3 1040.5,938.6 1041.3,938.1 1042,938.9 1042.7,941.6 1043.4,944.2 1044.1,939.9 1044.8,938.2 1045.5,942.7 1046.3,941.7 1047,942.4 1047.7,944.2 1048.4,942.8 1049.1,941.1 1049.8,940.5 1050.5,943.6 1051.2,942.3 1052,944.7 1052.7,942.8 1053.4,944.4 1054.1,943.2 1054.8,945.1 1055.5,945.2 1056.2,947 1057,948.3 1057.7,946.2 1058.4,945.3 1059.1,949.4 1059.8,947 1060.5,947.2 1061.2,946.9 1062,947.8 1062.7,946.7 1063.4,945.7 1064.1,945.3 1064.8,942.5 1065.5,942.4 1066.2,942.7 1066.9,942.7 1067.7,942.4 1068.4,942.7 1069.1,942.4 1069.8,941.9 1070.5,940.4 1071.2,944.2 1071.9,944.2 1072.7,942.5 1073.4,944.8 1074.1,945 1074.8,944.8 1075.5,942.3 1076.2,943.5 1076.9,944.5 1077.7,947.8 1078.4,944.5 1079.1,945.4 1079.8,944.5 1080.5,945.6 1081.2,947.1 1081.9,943.9 1082.6,943 1083.4,948.2 1084.1,947.5 1084.8,946.8 1085.5,949.1 1086.2,949.2 1086.9,944.8 1087.6,947.5 1088.4,949.3 1089.1,946.6 1089.8,947 1090.5,948.6 1091.2,946.7 1091.9,945.1 1092.6,945.6 1093.3,944.4 1094.1,946.8 1094.8,943.3 1095.5,946.9 1096.2,942.9 1096.9,945.1 1097.6,942.9 1098.3,944.4 1099.1,946.3 1099.8,946.4 1100.5,946.8 1101.2,944.9 1101.9,945.3 1102.6,945.6 1103.3,946.2 1104.1,944.9 1104.8,947.1 1105.5,946.2 1106.2,947.4 1106.9,946.6 1107.6,946.9 1108.3,945 1109,945.6 1109.8,944.4 1110.5,945.9 1111.2,946.2 1111.9,947.7 1112.6,944.8 1113.3,951.3 1114,946.7 1114.8,948.8 1115.5,948.7 1116.2,943.9 1116.9,947.4 1117.6,950.1 1118.3,944.9 1119,949.7 1119.8,947.6 1120.5,948.6 1121.2,949.8 1121.9,947.1 1122.6,950.3 1123.3,949.3 1124,949.3 1124.7,951.5 1125.5,955.7 1126.2,951.4 1126.9,951.8 1127.6,951.1 1128.3,950.4 1129,952 1129.7,953.9 1130.5,952.2 1131.2,953.3 1131.9,951.8 1132.6,955.7 1133.3,949.7 1134,952.8 1134.7,952.5 1135.5,951.8 1136.2,949.5 1136.9,949 1137.6,949.8 1138.3,949.8 1139,947.4 1139.7,947 1140.4,948.7 1141.2,948.8 1141.9,946.1 1142.6,945.4 1143.3,945 1144,949.1 1144.7,946.1 1145.4,945.1 1146.2,946.4 1146.9,948.1 1147.6,946.5 1148.3,942.8 1149,944.6 1149.7,944.2 1150.4,944.3 1151.2,943 1151.9,944.2 1152.6,943.2 1153.3,945.2 1154,944.8 1154.7,942.8 1155.4,942.4 1156.1,944.2 1156.9,945.9 1157.6,945.7 1158.3,945 1159,940.5 1159.7,944.5 1160.4,944.3 1161.1,944.9 1161.9,943.7 1162.6,944.9 1163.3,944.7 1164,949.5 1164.7,946.7 1165.4,945.4 1166.1,945.6 1166.9,945.4 1167.6,945.7 1168.3,944.7 1169,945.1 1169.7,946.3 1170.4,945.7 1171.1,944.7 1171.8,945.8 1172.6,944 1173.3,942 1174,940.6 1174.7,941.9 1175.4,942.6 1176.1,943.2 1176.8,944 1177.6,941.6 1178.3,941.1 1179,943.3 1179.7,943.8 1180.4,941.4 1181.1,942.6 1181.8,944.1 1182.5,942.7 1183.3,942.4 1184,939.8 1184.7,945 1185.4,944.4 1186.1,944.2 1186.8,943.8 1187.5,943.2 1188.3,945.3 1189,945.6 1189.7,947.5 1190.4,944.4 1191.1,948.1 1191.8,946 1192.5,947.4 1193.3,944 1194,945.5 1194.7,946.3 1195.4,944.3 1196.1,941.7 1196.8,942.9 1197.5,943.8 1198.2,940.7 1199,940.4 1199.7,942.6 1200.4,940.8 1201.1,943 1201.8,940.3 1202.5,939.3 1203.2,940.8 1204,943.9 1204.7,940.5 1205.4,941.7 1206.1,942 1206.8,940.2 1207.5,943 1208.2,941.6 1209,941.9 1209.7,938.8 1210.4,938.6 1211.1,937.1 1211.8,940.7 1212.5,940.6 1213.2,941.9 1213.9,942.9 1214.7,940.4 1215.4,940.3 1216.1,941.3 1216.8,942.8 1217.5,939.5 1218.2,941.6 1218.9,940.4 1219.7,940.3 1220.4,942 1221.1,939.8 1221.8,939.5 1222.5,942.1 1223.2,941.2 1223.9,941 1224.7,941.3 1225.4,942.3 1226.1,941.2 1226.8,942.9 1227.5,942.4 1228.2,943.9 1228.9,943.5 1229.6,942.8 1230.4,941 1231.1,941.1 1231.8,939.5 1232.5,943.9 1233.2,938.4 1233.9,938.5 1234.6,938.6 1235.4,933.2 1236.1,932.6 1236.8,932 1237.5,929.8 1238.2,928.4 1238.9,928.9 1239.6,931.3 1240.4,930.5 1241.1,929.8 1241.8,930.4 1242.5,928.8 1243.2,933.6 1243.9,934.6 1244.6,933.9 1245.3,937.5 1246.1,938.5 1246.8,939.6 1247.5,940.3 1248.2,942.1 1248.9,942.8 1249.6,945.8 1250.3,946.3 1251.1,946.7 1251.8,946.3 1252.5,946.1 1253.2,949.7 1253.9,944 1254.6,948.2 1255.3,946.8 1256.1,946.3 1256.8,945.3 1257.5,945.6 1258.2,944.2 1258.9,943.9 1259.6,945.8 1260.3,943.7 1261,947.4 1261.8,948 1262.5,941.7 1263.2,944.5 1263.9,947.2 1264.6,947.3 1265.3,947.2 1266,947.6 1266.8,948 1267.5,948 1268.2,949.2 1268.9,946.5 1269.6,947.4 1270.3,943.6 1271,945.5 1271.7,943.7 1272.5,947.2 1273.2,948.4 1273.9,945.7 1274.6,943 1275.3,944.7 1276,944.9 1276.7,945.2 1277.5,946.5 1278.2,946.4 1278.9,941.4 1279.6,947.2 1280.3,944.7 1281,944.7 1281.7,947.6 1282.5,945.2 1283.2,943.7 1283.9,943.7 1284.6,945.7 1285.3,946.8 1286,947.6 1286.7,945.1 1287.4,944.6 1288.2,947.4 1288.9,944.3 1289.6,946.8 1290.3,944.9 1291,944.6 1291.7,943.7 1292.4,944.2 1293.2,942.9 1293.9,942.3 1294.6,942.9 1295.3,942 1296,943.2 1296.7,942.7 1297.4,942.2 1298.2,942.2 1298.9,942.2 1299.6,945 1300.3,942.6 1301,941.9 1301.7,942.4 1302.4,943.9 1303.1,942.8 1303.9,943 1304.6,943 1305.3,943.8 1306,944.3 1306.7,944.6 1307.4,941.9 1308.1,942.9 1308.9,940.9 1309.6,945.9 1310.3,946.5 1311,946.8 1311.7,945.2 1312.4,946.5 1313.1,944.7 1313.9,944.3 1314.6,942 1315.3,942.8 1316,942.7 1316.7,944.5 1317.4,945.2 1318.1,941.8 1318.8,942.7 1319.6,942.4 1320.3,940.7 1321,939.3 1321.7,940.7 1322.4,939.9 1323.1,941.7 1323.8,942.2 1324.6,942.6 1325.3,943 1326,944.4 1326.7,942.8 1327.4,945.9 1328.1,942.7 1328.8,945.6 1329.6,946.6 1330.3,945.4 1331,944.9 1331.7,948.6 1332.4,947.4 1333.1,950.1 1333.8,950.8 1334.5,950.3 1335.3,951 1336,952.9 1336.7,952.5 1337.4,951 1338.1,952.7 1338.8,953.2 1339.5,952.6 1340.3,952.2 1341,951.3 1341.7,950.8 1342.4,948.9 1343.1,947.5 1343.8,950.4 1344.5,947.2 1345.3,947.7 1346,944.6 1346.7,946.4 1347.4,944.5 1348.1,949.5 1348.8,943.5 1349.5,943.3 1350.2,945.9 1351,946.1 1351.7,941.5 1352.4,945 1353.1,946 1353.8,943.1 1354.5,945.9 1355.2,944.3 1356,943.7 1356.7,944.6 1357.4,944.4 1358.1,943 1358.8,948 1359.5,943.9 1360.2,943.3 1360.9,945.3 1361.7,943.7 1362.4,945.4 1363.1,942.8 1363.8,943.4 1364.5,942.8 1365.2,942.6 1365.9,941.7 1366.7,941.6 1367.4,943.8 1368.1,940 1368.8,939.9 1369.5,939.8 1370.2,940.8 1370.9,940.3 1371.7,940.7 1372.4,937.2 1373.1,939.2 1373.8,938.3 1374.5,937.8 1375.2,938.2 1375.9,934.7 1376.6,937.6 1377.4,936.9 1378.1,934.1 1378.8,935.4 1379.5,937.2 1380.2,933.6 1380.9,934.3 1381.6,932.2 1382.4,930.4 1383.1,929.4 1383.8,929.2 1384.5,930.9 1385.2,929.3 1385.9,926.2 1386.6,928 1387.4,925.6 1388.1,924.2 1388.8,925.4 1389.5,923 1390.2,921.8 1390.9,926 1391.6,921.2 1392.3,924.9 1393.1,922 1393.8,924.6 1394.5,924.8 1395.2,925 1395.9,923 1396.6,926.8 1397.3,927.8 1398.1,927.3 1398.8,929.4 1399.5,931.9 1400.2,930.1 1400.9,932.3 1401.6,930.9 1402.3,933.7 1403.1,934.5 1403.8,937.5 1404.5,935.2 1405.2,934.3 1405.9,935.4 1406.6,931.2 1407.3,933.4 1408,929.9 1408.8,928.4 1409.5,929.5 1410.2,926.6 1410.9,926.6 1411.6,920.8 1412.3,922.1 1413,919.8 1413.8,919.5 1414.5,916.8 1415.2,921.3 1415.9,920.8 1416.6,920 1417.3,920.7 1418,922.8 1418.8,927.9 1419.5,927.4 1420.2,928.8 1420.9,931.8 1421.6,932.8 1422.3,934.8 1423,937 1423.7,937.8 1424.5,939.8 1425.2,937.9 1425.9,940.7 1426.6,940.9 1427.3,942.2 1428,942.6 1428.7,942.2 1429.5,943 1430.2,945.1 1430.9,943.1 1431.6,942.2 1432.3,944.7 1433,945 1433.7,943 1434.5,943.2 1435.2,941.4 1435.9,941.9 1436.6,943.3 1437.3,942.5 1438,941.3 1438.7,940.4 1439.4,938.3 1440.2,940.9 1440.9,941 1441.6,941.9 1442.3,943.3 1443,941 1443.7,942 1444.4,939.2 1445.2,942.7 1445.9,942.4 1446.6,943.3 1447.3,942.6 1448,942.5 1448.7,944.1 1449.4,941.3 1450.1,943.3 1450.9,944 1451.6,941.4 1452.3,940.9 1453,943.1 1453.7,942.5 1454.4,943 1455.1,942.8 1455.9,940.5 1456.6,941.8 1457.3,942.5 1458,940.1 1458.7,939.9 1459.4,938.4 1460.1,940.9 1460.9,942.3 1461.6,937.4 1462.3,940.3 1463,940.4 1463.7,938.3 1464.4,938.7 1465.1,937.9 1465.8,938.4 1466.6,940 1467.3,941 1468,940.6 1468.7,942 1469.4,941.5 1470.1,939.9 1470.8,943.9 1471.6,943.9 1472.3,941.5 1473,945.2 1473.7,943.5 1474.4,943.2 1475.1,945.8 1475.8,939.7 1476.6,941 1477.3,944.3 1478,943 1478.7,942.1 1479.4,945.6 1480.1,944.1 1480.8,941.6 1481.5,942.4 1482.3,944.5 1483,945.7 1483.7,940.1 1484.4,943 1485.1,941.8 1485.8,939.5 1486.5,941.3 1487.3,938.8 1488,939.8 1488.7,942.3 1489.4,940.1 1490.1,939.8 1490.8,938.8 1491.5,937.7 1492.3,937.8 1493,933.8 1493.7,934.1 1494.4,935 1495.1,931.7 1495.8,931 1496.5,932.4 1497.2,931.6 1498,927.1 1498.7,925.3 1499.4,925.8 1500.1,923.5 1500.8,920.1 1501.5,919.9 1502.2,917.4 1503,914.1 1503.7,915.8 1504.4,910.5 1505.1,906.8 1505.8,904.1 1506.5,904 1507.2,898.1 1508,892.2 1508.7,890.8 1509.4,887.5 1510.1,883.7 1510.8,882.3 1511.5,879.8 1512.2,877 1512.9,874.2 1513.7,874.5 1514.4,869.1 1515.1,871.8 1515.8,869.7 1516.5,869.8 1517.2,865.5 1517.9,872.5 1518.7,867.9 1519.4,870.5 1520.1,874.5 1520.8,874.3 1521.5,876.6 1522.2,875.9 1522.9,881.2 1523.7,884.7 1524.4,887.9 1525.1,888.9 1525.8,892.2 1526.5,895 1527.2,895.7 1527.9,897.9 1528.6,904.5 1529.4,902.3 1530.1,907.8 1530.8,908.1 1531.5,912.3 1532.2,911.1 1532.9,914.9 1533.6,916.6 1534.4,917.6 1535.1,920.3 1535.8,920.5 1536.5,923.2 1537.2,924.4 1537.9,927.7 1538.6,927.9 1539.3,927.3 1540.1,930.1 1540.8,931.7 1541.5,931.7 1542.2,936.1 1542.9,935.7 1543.6,937.3 1544.3,935.8 1545.1,937.2 1545.8,940.1 1546.5,937.3 1547.2,940.6 1547.9,940.9 1548.6,940.6 1549.3,942 1550.1,940.8 1550.8,943.1 1551.5,941.4 1552.2,941.7 1552.9,945.8 1553.6,943 1554.3,941.2 1555,945.7 1555.8,943.4 1556.5,939.5 1557.2,944.5 1557.9,945.9 1558.6,945 1559.3,946.9 1560,944.1 1560.8,945 1561.5,942.6 1562.2,944.2 1562.9,946 1563.6,944.5 1564.3,944 1565,941 1565.8,943.3 1566.5,942 1567.2,945 1567.9,943 1568.6,944.6 1569.3,942.7 1570,946.8 1570.7,942.5 1571.5,944.4 1572.2,948 1572.9,944.6 1573.6,943.2 1574.3,945.5 1575,946.2 1575.7,946.2 1576.5,942.4 1577.2,945.7 1577.9,942.5 1578.6,948.3 1579.3,945.8 1580,945.1 1580.7,946.7 1581.5,946.4 1582.2,944.1 1582.9,948 1583.6,945.4 1584.3,943.3 1585,947.8 1585.7,948 1586.4,947.7 1587.2,946.7 1587.9,944.6 1588.6,947.1 1589.3,948.2 1590,946.6 1590.7,947.4 1591.4,943.8 1592.2,946.2 1592.9,945.9 1593.6,942.3 1594.3,942.1 1595,943.4 1595.7,944.7 1596.4,945.4 1597.2,944.6 1597.9,945.1 1598.6,945.3 1599.3,945.8 1600,946.7 1600.7,946.7 1601.4,946.1 1602.1,946.6 1602.9,945.6 1603.6,947.4 1604.3,945.5 1605,948.5 1605.7,946.1 1606.4,946.4 1607.1,944.8 1607.9,945.2 1608.6,945.6 1609.3,945.1 1610,943.9 1610.7,942.7 1611.4,944 1612.1,943.7 1612.9,943.8 1613.6,944.3 1614.3,941.7 1615,939 1615.7,941.4 1616.4,938.8 1617.1,939.5 1617.8,942.8 1618.6,942.2 1619.3,940.7 1620,940.9 1620.7,941.9 1621.4,939.8 1622.1,943.2 1622.8,942.2 1623.6,945.5 1624.3,941.5 1625,944.5 1625.7,942.1 1626.4,944.5 1627.1,941.6 1627.8,944 1628.5,942.3 1629.3,941.7 1630,942.7 1630.7,943.6 1631.4,943.7 1632.1,945.5 1632.8,944.6 1633.5,939.9 1634.3,943.4 1635,941.4 1635.7,944 1636.4,945.7 1637.1,943.2 1637.8,943.7 1638.5,945.8 1639.3,945.4 1640,948.2 1640.7,946.5 1641.4,946.8 1642.1,948.5 1642.8,945.1 1643.5,945.7 1644.2,944 1645,945.4 1645.7,946.1 1646.4,946.1 1647.1,943.6 1647.8,942.1 1648.5,941.5 1649.2,940.1 1650,941.9 1650.7,943.4 1651.4,937.7 1652.1,937.9 1652.8,942.9 1653.5,938.6 1654.2,941.4 1655,939.1 1655.7,942 1656.4,942 1657.1,941 1657.8,941.8 1658.5,940.5 1659.2,941.1 1659.9,942.6 1660.7,941.4 1661.4,938.7 1662.1,938.4 1662.8,939.2 1663.5,939.2 1664.2,939.8 1664.9,939 1665.7,941.1 1666.4,940.5 1667.1,941.2 1667.8,940.9 1668.5,942 1669.2,939.6 1669.9,943.7 1670.7,942 1671.4,942.1 1672.1,942.3 1672.8,942.8 1673.5,942.1 1674.2,941.1 1674.9,940.1 1675.6,937.5 1676.4,939.7 1677.1,938.3 1677.8,937.7 1678.5,941.1 1679.2,934.2 1679.9,936.4 1680.6,937.5 1681.4,936.7 1682.1,936.7 1682.8,932.7 1683.5,933 1684.2,935.2 1684.9,933.8 1685.6,936.8 1686.4,934.6 1687.1,934.6 1687.8,934.9 1688.5,933.7 1689.2,934 1689.9,932.4 1690.6,932.8 1691.3,931.4 1692.1,931.6 1692.8,928 1693.5,926.6 1694.2,928.1 1694.9,926 1695.6,922.3 1696.3,921.3 1697.1,917.7 1697.8,920.1 1698.5,911.7 1699.2,914 1699.9,907 1700.6,905.8 1701.3,901.3 1702.1,897.6 1702.8,896.1 1703.5,892.2 1704.2,886.6 1704.9,881.6 1705.6,882.5 1706.3,877.4 1707,871.2 1707.8,866.5 1708.5,863.5 1709.2,859.3 1709.9,857.4 1710.6,850.2 1711.3,848.6 1712,844.1 1712.8,844.9 1713.5,843.3 1714.2,837.9 1714.9,837.2 1715.6,837.2 1716.3,833.3 1717,831.5 1717.7,834.6 1718.5,833.7 1719.2,833 1719.9,836.7 1720.6,835.8 1721.3,834 1722,839.6 1722.7,841.2 1723.5,847.2 1724.2,847 1724.9,849.9 1725.6,854.5 1726.3,857.9 1727,859 1727.7,865.6 1728.5,869 1729.2,876 1729.9,881.7 1730.6,880 1731.3,884.3 1732,888.3 1732.7,892.3 1733.4,895.7 1734.2,900.1 1734.9,904.8 1735.6,903.8 1736.3,906 1737,907.9 1737.7,914.7 1738.4,917 1739.2,914.5 1739.9,916.1 1740.6,920.6 1741.3,923.7 1742,925.2 1742.7,925.5 1743.4,927.7 1744.2,928.6 1744.9,928.6 1745.6,933.5 1746.3,931.8 1747,931.1 1747.7,932.9 1748.4,932.1 1749.1,935.1 1749.9,937.2 1750.6,934.2 1751.3,938.1 1752,939.9 1752.7,937.7 1753.4,935.7 1754.1,936.5 1754.9,937.6 1755.6,936.5 1756.3,936.9 1757,938.7 1757.7,939.2 1758.4,940.7 1759.1,938.3 1759.9,943.1 1760.6,942.2 1761.3,942.1 1762,940 1762.7,943.6 1763.4,940.5 1764.1,943.7 1764.8,942.5 1765.6,939.6 1766.3,940.2 1767,943.6 1767.7,942.3 1768.4,940.8 1769.1,941.5 1769.8,941.7 1770.6,940.6 1771.3,941.8 1772,941.5 1772.7,942.2 1773.4,943.8 1774.1,941.9 1774.8,944.5 1775.6,943.6 1776.3,944.5 1777,944.6 1777.7,944.9 1778.4,943.7 1779.1,943.4 1779.8,941.8 1780.5,942.5 1781.3,939.9 1782,940.5 1782.7,941.6 1783.4,940 1784.1,940.4 1784.8,937.9 1785.5,941.1 1786.3,938 1787,939.1 1787.7,938.1 1788.4,939.2 1789.1,937 1789.8,935.7 1790.5,934.2 1791.3,936.2 1792,934.7 1792.7,937.1 1793.4,938.4 1794.1,933.3 1794.8,934.9 1795.5,937.6 1796.2,939.4 1797,938.6 1797.7,939.3 1798.4,940.2 1799.1,940.9 1799.8,943.1 1800.5,942.2 1801.2,940 1802,941.6 1802.7,943 1803.4,941.9 1804.1,943 1804.8,942.9 1805.5,943 1806.2,945.2 1806.9,943.9 1807.7,943.2 1808.4,943.9 1809.1,945.2 1809.8,948.3 1810.5,945.8 1811.2,947.6 1811.9,946.3 1812.7,942.6 1813.4,946.3 1814.1,944.6 1814.8,944 1815.5,944.5 1816.2,948.8 1816.9,944.1 1817.7,945.6 1818.4,948.4 1819.1,947.9 1819.8,944.8 1820.5,947.4 1821.2,947.1 1821.9,947.8 1822.6,949.4 1823.4,947.7 1824.1,948.3 1824.8,950.9 1825.5,946.3 1826.2,948.3 1826.9,949.5 1827.6,946.9 1828.4,947.6 1829.1,946.5 1829.8,948.4 1830.5,947.2 1831.2,949 1831.9,949.3 1832.6,947.8 1833.4,947.1 1834.1,947.9 1834.8,947.5 1835.5,945.6 1836.2,948.7 1836.9,947.3 1837.6,948 1838.3,944.7 1839.1,947.7 1839.8,949.2 1840.5,946.9 1841.2,943.7 1841.9,945.6 1842.6,945.2 1843.3,945.3 1844.1,944.4 1844.8,945.1 1845.5,943.5 1846.2,944.1 1846.9,942.5 1847.6,943.3 1848.3,944.3 1849.1,942 1849.8,943.5 1850.5,941.1 1851.2,941.9 1851.9,942.1 1852.6,944.3 1853.3,941.5 1854,944.5 1854.8,940.8 1855.5,942.9 1856.2,944.6 1856.9,944.4 1857.6,942.1 1858.3,942 1859,945.3 1859.8,942.5 1860.5,945.4 1861.2,944.1 1861.9,945.2 1862.6,948.8 1863.3,948 1864,947.3 1864.8,944.3 1865.5,946.9 1866.2,946.7 1866.9,946.4 1867.6,948.4 1868.3,943.9 1869,946.6 1869.7,946.1 1870.5,944.5 1871.2,947.7 1871.9,943.1 1872.6,944.6 1873.3,944.3 1874,940.8 1874.7,941.6 1875.5,942 1876.2,944.4 1876.9,944.5 1877.6,944 1878.3,943.5 1879,940.2 1879.7,943.8 1880.5,942.9 1881.2,945.6 1881.9,946.1 1882.6,947.6 1883.3,945.6 1884,946 1884.7,943.5 1885.4,945.3 1886.2,943.5 1886.9,946.6 1887.6,943.6 1888.3,945 1889,944.1 1889.7,944.6 1890.4,945.9 1891.2,944.4 1891.9,945.4 1892.6,943.6 1893.3,946.9 1894,943.8 1894.7,946 1895.4,947.3 1896.1,940.5 1896.9,942.2 1897.6,943 1898.3,944.6 1899,941.9 1899.7,942.9 1900.4,941.1 1901.1,942.8 1901.9,940.2 1902.6,943.1 1903.3,937.7 1904,939.4 1904.7,944.9 1905.4,942.7 1906.1,941.3 1906.9,945.9 1907.6,944.4 1908.3,944.6 1909,942.5 1909.7,944.1 1910.4,944 1911.1,940.9 1911.8,944.2 1912.6,943.1 1913.3,945.3 1914,945.4 1914.7,942.6 1915.4,942.8 1916.1,944 1916.8,944.7 1917.6,943.3 1918.3,943.7 1919,944.8 1919.7,944.6 1920.4,945.6 1921.1,944.3 1921.8,942.6 1922.6,941.3 1923.3,944.9 1924,943.3 1924.7,943.3 1925.4,943.4 1926.1,941.7 1926.8,943.6 1927.5,940.7 1928.3,944.2 1929,943.8 1929.7,948 1930.4,946.3 1931.1,945.6 1931.8,946.3 1932.5,947.2 1933.3,945.1 1934,945.8 1934.7,945.6 1935.4,949.7 1936.1,946.1 1936.8,943 1937.5,946.9 1938.3,949.4 1939,944.3 1939.7,950.7 1940.4,945.5 1941.1,947.1 1941.8,944.9 1942.5,945.5 1943.2,944.3 1965,934 1968,946"/>
<polyline class="c" points="193.5,949.4 194.9,949.4 196.4,949.4 197.8,949.4 199.2,949.4 200.6,949.4 202.1,949.4 203.5,949.4 204.9,949.4 206.3,949.4 207.8,949.4 209.2,949.4 210.6,949.4 212.1,949.4 213.5,949.4 214.9,949.4 216.3,949.4 217.8,949.4 219.2,949.4 220.6,949.4 222,949.4 223.5,949.4 224.9,949.4 226.3,949.4 227.8,949.4 229.2,949.4 230.6,949.4 232,949.4 233.5,949.4 234.9,949.4 236.3,949.4 237.7,949.4 239.2,949.4 240.6,949.4 242,949.4 243.5,949.4 244.9,949.4 246.3,949.4 247.7,949.4 249.2,949.4 250.6,949.4 252,949.4 253.4,949.4 254.9,949.4 256.3,949.4 257.7,949.4 259.2,949.4 260.6,949.4 262,949.4 263.4,949.4 264.9,949.4 266.3,949.4 267.7,949.4 269.1,949.4 270.6,949.4 272,949.4 273.4,949.4 274.9,949.4 276.3,949.4 277.7,949.4 279.1,949.4 280.6,949.4 282,949.4 283.4,949.4 284.8,949.4 286.3,949.4 287.7,949.4 289.1,949.4 290.5,949.4 292,949.4 293.4,949.4 294.8,949.4 296.3,949.4 297.7,949.4 299.1,949.4 300.5,949.4 302,949.4 303.4,949.4 304.8,949.4 306.2,949.4 307.7,949.4 309.1,949.4 310.5,949.4 312,949.4 313.4,949.4 314.8,949.4 316.2,949.4 317.7,949.4 319.1,949.4 320.5,949.4 321.9,949.4 323.4,949.4 324.8,949.4 326.2,949.4 327.7,949.4 329.1,949.4 330.5,949.4 331.9,949.4 333.4,949.4 334.8,949.4 336.2,949.4 337.6,949.4 339.1,949.4 340.5,949.4 341.9,949.4 343.4,949.4 344.8,949.4 346.2,949.4 347.6,949.4 349.1,949.4 350.5,949.4 351.9,949.4 353.3,949.4 354.8,949.4 356.2,949.4 357.6,949.4 359.1,949.4 360.5,949.4 361.9,949.4 363.3,949.4 364.8,949.4 366.2,949.4 367.6,949.4 369,949.4 370.5,949.4 371.9,949.4 373.3,949.4 374.8,949.4 376.2,949.4 377.6,949.4 379,949.4 380.5,949.4 381.9,949.4 383.3,949.4 384.7,949.4 386.2,949.4 387.6,949.4 389,949.4 390.5,949.4 391.9,949.4 393.3,949.4 394.7,949.4 396.2,949.4 397.6,949.4 399,949.4 400.4,949.4 401.9,949.4 403.3,949.4 404.7,949.4 406.2,949.4 407.6,949.4 409,949.4 410.4,949.4 411.9,949.4 413.3,949.4 414.7,949.4 416.1,949.4 417.6,949.4 419,949.4 420.4,949.4 421.9,949.4 423.3,949.4 424.7,949.4 426.1,949.4 427.6,949.4 429,949.4 430.4,949.4 431.8,949.4 433.3,949.4 434.7,949.4 436.1,949.4 437.6,949.4 439,949.4 440.4,949.4 441.8,949.4 443.3,949.4 444.7,949.4 446.1,949.4 447.5,949.4 449,949.4 450.4,949.4 451.8,949.4 453.3,949.4 454.7,949.3 456.1,949.3 457.5,949.3 459,949.3 460.4,949.3 461.8,949.3 463.2,949.3 464.7,949.3 466.1,949.3 467.5,949.3 468.9,949.3 470.4,949.3 471.8,949.3 473.2,949.3 474.7,949.3 476.1,949.3 477.5,949.3 478.9,949.3 480.4,949.2 481.8,949.2 483.2,949.2 484.6,949.2 486.1,949.2 487.5,949.2 488.9,949.2 490.4,949.2 491.8,949.2 493.2,949.1 494.6,949.1 496.1,949.1 497.5,949.1 498.9,949.1 500.3,949.1 501.8,949 503.2,949 504.6,949 506.1,949 507.5,948.9 508.9,948.9 510.3,948.9 511.8,948.8 513.2,948.8 514.6,948.7 516,948.7 517.5,948.6 518.9,948.6 520.3,948.5 521.8,948.4 523.2,948.3 524.6,948.2 526,948.1 527.5,948 528.9,947.9 530.3,947.7 531.7,947.4 533.2,947.1 534.6,946.7 536,946.2 537.5,945.5 538.9,944.5 540.3,943.2 541.7,941.4 543.2,939.2 544.6,936.5 546,933.2 547.4,929.4 548.9,925.2 550.3,920.7 551.7,916.4 553.2,912.5 554.6,909.6 556,908 557.4,908 558.9,909.6 560.3,912.6 561.7,916.5 563.1,920.8 564.6,925.2 566,929.4 567.4,933.2 568.9,936.4 570.3,939.2 571.7,941.4 573.1,943.1 574.6,944.4 576,945.4 577.4,946.1 578.8,946.7 580.3,947.1 581.7,947.4 583.1,947.6 584.6,947.8 586,947.9 587.4,948 588.8,948.1 590.3,948.2 591.7,948.3 593.1,948.4 594.5,948.5 596,948.5 597.4,948.6 598.8,948.6 600.3,948.6 601.7,948.7 603.1,948.7 604.5,948.7 606,948.8 607.4,948.8 608.8,948.8 610.2,948.8 611.7,948.8 613.1,948.9 614.5,948.9 616,948.9 617.4,948.9 618.8,948.9 620.2,948.9 621.7,948.9 623.1,948.9 624.5,948.9 625.9,948.9 627.4,948.9 628.8,948.9 630.2,948.9 631.7,948.9 633.1,948.9 634.5,948.9 635.9,948.9 637.4,948.9 638.8,948.9 640.2,948.9 641.6,948.9 643.1,948.9 644.5,948.9 645.9,948.9 647.3,948.9 648.8,948.8 650.2,948.8 651.6,948.8 653.1,948.8 654.5,948.8 655.9,948.8 657.3,948.8 658.8,948.7 660.2,948.7 661.6,948.7 663,948.7 664.5,948.6 665.9,948.6 667.3,948.6 668.8,948.6 670.2,948.5 671.6,948.5 673,948.5 674.5,948.4 675.9,948.4 677.3,948.4 678.7,948.3 680.2,948.3 681.6,948.2 683,948.2 684.5,948.1 685.9,948 687.3,948 688.7,947.9 690.2,947.8 691.6,947.7 693,947.6 694.4,947.5 695.9,947.4 697.3,947.3 698.7,947.2 700.2,947.1 701.6,946.9 703,946.8 704.4,946.6 705.9,946.4 707.3,946.2 708.7,945.9 710.1,945.7 711.6,945.4 713,945 714.4,944.7 715.9,944.2 717.3,943.7 718.7,943.1 720.1,942.4 721.6,941.5 723,940.3 724.4,938.7 725.8,936.6 727.3,933.8 728.7,930.2 730.1,925.4 731.6,919.2 733,911.3 734.4,901.7 735.8,890.3 737.3,877.1 738.7,862.5 740.1,846.9 741.5,831.1 743,816.4 744.4,804 745.8,795.4 747.3,791.8 748.7,793.6 750.1,800.5 751.5,811.5 753,825.4 754.4,840.8 755.8,856.5 757.2,871.5 758.7,885.2 760.1,897.3 761.5,907.6 763,916.1 764.4,922.8 765.8,928.2 767.2,932.2 768.7,935.3 770.1,937.7 771.5,939.4 772.9,940.7 774.4,941.7 775.8,942.5 777.2,943.1 778.7,943.6 780.1,944 781.5,944.3 782.9,944.5 784.4,944.7 785.8,944.8 787.2,944.7 788.6,944.6 790.1,944.3 791.5,943.9 792.9,943.4 794.4,942.7 795.8,941.8 797.2,940.7 798.6,939.5 800.1,938.3 801.5,937.2 802.9,936.1 804.3,935.4 805.8,935 807.2,935.1 808.6,935.6 810.1,936.5 811.5,937.6 812.9,939 814.3,940.3 815.8,941.6 817.2,942.9 818.6,944 820,944.9 821.5,945.7 822.9,946.3 824.3,946.8 825.7,947.2 827.2,947.5 828.6,947.8 830,947.9 831.5,948.1 832.9,948.2 834.3,948.3 835.7,948.4 837.2,948.4 838.6,948.5 840,948.6 841.4,948.6 842.9,948.6 844.3,948.7 845.7,948.7 847.2,948.8 848.6,948.8 850,948.8 851.4,948.9 852.9,948.9 854.3,948.9 855.7,948.9 857.1,948.9 858.6,949 860,949 861.4,949 862.9,949 864.3,949 865.7,949.1 867.1,949.1 868.6,949.1 870,949.1 871.4,949.1 872.8,949.1 874.3,949.1 875.7,949.1 877.1,949.2 878.6,949.2 880,949.2 881.4,949.2 882.8,949.2 884.3,949.2 885.7,949.2 887.1,949.2 888.5,949.2 890,949.2 891.4,949.2 892.8,949.2 894.3,949.2 895.7,949.2 897.1,949.2 898.5,949.3 900,949.3 901.4,949.3 902.8,949.3 904.2,949.3 905.7,949.3 907.1,949.3 908.5,949.3 910,949.3 911.4,949.3 912.8,949.3 914.2,949.3 915.7,949.3 917.1,949.3 918.5,949.3 919.9,949.3 921.4,949.3 922.8,949.3 924.2,949.3 925.7,949.3 927.1,949.3 928.5,949.3 929.9,949.3 931.4,949.3 932.8,949.3 934.2,949.3 935.6,949.3 937.1,949.3 938.5,949.3 939.9,949.3 941.4,949.2 942.8,949.2 944.2,949.2 945.6,949.2 947.1,949.2 948.5,949.2 949.9,949.2 951.3,949.2 952.8,949.2 954.2,949.2 955.6,949.2 957.1,949.1 958.5,949.1 959.9,949.1 961.3,949.1 962.8,949.1 964.2,949 965.6,949 967,949 968.5,949 969.9,948.9 971.3,948.9 972.8,948.9 974.2,948.8 975.6,948.8 977,948.7 978.5,948.7 979.9,948.6 981.3,948.6 982.7,948.5 984.2,948.4 985.6,948.3 987,948.2 988.5,948.1 989.9,947.9 991.3,947.7 992.7,947.5 994.2,947.2 995.6,946.8 997,946.2 998.4,945.6 999.9,944.7 1001.3,943.6 1002.7,942.1 1004.1,940.4 1005.6,938.3 1007,935.8 1008.4,933 1009.9,929.9 1011.3,926.6 1012.7,923.1 1014.1,919.8 1015.6,916.9 1017,914.5 1018.4,913 1019.8,912.5 1021.3,913.1 1022.7,914.6 1024.1,917 1025.6,919.9 1027,923.2 1028.4,926.6 1029.8,929.9 1031.3,933 1032.7,935.8 1034.1,938.2 1035.5,940.3 1037,942.1 1038.4,943.5 1039.8,944.7 1041.3,945.5 1042.7,946.2 1044.1,946.8 1045.5,947.2 1047,947.5 1048.4,947.8 1049.8,948 1051.2,948.1 1052.7,948.3 1054.1,948.4 1055.5,948.5 1057,948.6 1058.4,948.6 1059.8,948.7 1061.2,948.8 1062.7,948.8 1064.1,948.9 1065.5,948.9 1066.9,949 1068.4,949 1069.8,949 1071.2,949.1 1072.7,949.1 1074.1,949.1 1075.5,949.1 1076.9,949.2 1078.4,949.2 1079.8,949.2 1081.2,949.2 1082.6,949.3 1084.1,949.3 1085.5,949.3 1086.9,949.3 1088.4,949.3 1089.8,949.3 1091.2,949.3 1092.6,949.4 1094.1,949.4 1095.5,949.4 1096.9,949.4 1098.3,949.4 1099.8,949.4 1101.2,949.4 1102.6,949.4 1104.1,949.4 1105.5,949.4 1106.9,949.4 1108.3,949.4 1109.8,949.4 1111.2,949.4 1112.6,949.5 1114,949.5 1115.5,949.5 1116.9,949.5 1118.3,949.5 1119.8,949.5 1121.2,949.5 1122.6,949.5 1124,949.5 1125.5,949.5 1126.9,949.5 1128.3,949.5 1129.7,949.5 1131.2,949.5 1132.6,949.5 1134,949.5 1135.5,949.5 1136.9,949.5 1138.3,949.5 1139.7,949.5 1141.2,949.5 1142.6,949.5 1144,949.5 1145.4,949.5 1146.9,949.5 1148.3,949.5 1149.7,949.5 1151.2,949.5 1152.6,949.5 1154,949.5 1155.4,949.5 1156.9,949.5 1158.3,949.5 1159.7,949.5 1161.1,949.5 1162.6,949.5 1164,949.5 1165.4,949.5 1166.9,949.5 1168.3,949.5 1169.7,949.5 1171.1,949.5 1172.6,949.5 1174,949.5 1175.4,949.5 1176.8,949.5 1178.3,949.5 1179.7,949.5 1181.1,949.5 1182.5,949.5 1184,949.5 1185.4,949.5 1186.8,949.5 1188.3,949.5 1189.7,949.5 1191.1,949.5 1192.5,949.5 1194,949.5 1195.4,949.5 1196.8,949.5 1198.2,949.5 1199.7,949.5 1201.1,949.5 1202.5,949.5 1204,949.5 1205.4,949.5 1206.8,949.5 1208.2,949.5 1209.7,949.5 1211.1,949.5 1212.5,949.5 1213.9,949.5 1215.4,949.5 1216.8,949.5 1218.2,949.5 1219.7,949.5 1221.1,949.5 1222.5,949.5 1223.9,949.5 1225.4,949.5 1226.8,949.5 1228.2,949.5 1229.6,949.5 1231.1,949.5 1232.5,949.5 1233.9,949.5 1235.4,949.5 1236.8,949.5 1238.2,949.5 1239.6,949.5 1241.1,949.5 1242.5,949.5 1243.9,949.5 1245.3,949.5 1246.8,949.5 1248.2,949.5 1249.6,949.5 1251.1,949.5 1252.5,949.5 1253.9,949.5 1255.3,949.5 1256.8,949.5 1258.2,949.5 1259.6,949.5 1261,949.5 1262.5,949.5 1263.9,949.5 1265.3,949.4 1266.8,949.4 1268.2,949.4 1269.6,949.4 1271,949.4 1272.5,949.4 1273.9,949.4 1275.3,949.4 1276.7,949.4 1278.2,949.4 1279.6,949.4 1281,949.4 1282.5,949.4 1283.9,949.4 1285.3,949.4 1286.7,949.4 1288.2,949.4 1289.6,949.4 1291,949.4 1292.4,949.4 1293.9,949.4 1295.3,949.4 1296.7,949.4 1298.2,949.4 1299.6,949.4 1301,949.4 1302.4,949.3 1303.9,949.3 1305.3,949.3 1306.7,949.3 1308.1,949.3 1309.6,949.3 1311,949.3 1312.4,949.3 1313.9,949.3 1315.3,949.3 1316.7,949.3 1318.1,949.3 1319.6,949.3 1321,949.3 1322.4,949.2 1323.8,949.2 1325.3,949.2 1326.7,949.2 1328.1,949.2 1329.6,949.2 1331,949.2 1332.4,949.2 1333.8,949.1 1335.3,949.1 1336.7,949.1 1338.1,949.1 1339.5,949.1 1341,949 1342.4,949 1343.8,949 1345.3,949 1346.7,948.9 1348.1,948.9 1349.5,948.9 1351,948.8 1352.4,948.8 1353.8,948.7 1355.2,948.7 1356.7,948.6 1358.1,948.5 1359.5,948.5 1360.9,948.3 1362.4,948.2 1363.8,948 1365.2,947.8 1366.7,947.6 1368.1,947.2 1369.5,946.8 1370.9,946.2 1372.4,945.6 1373.8,944.8 1375.2,943.8 1376.6,942.7 1378.1,941.4 1379.5,940 1380.9,938.5 1382.4,936.9 1383.8,935.3 1385.2,933.8 1386.6,932.5 1388.1,931.4 1389.5,930.8 1390.9,930.5 1392.3,930.7 1393.8,931.3 1395.2,932.3 1396.6,933.5 1398.1,934.9 1399.5,936.5 1400.9,938 1402.3,939.5 1403.8,941 1405.2,942.2 1406.6,943.4 1408,944.4 1409.5,945.2 1410.9,945.9 1412.3,946.4 1413.8,946.9 1415.2,947.2 1416.6,947.5 1418,947.7 1419.5,947.9 1420.9,948 1422.3,948.1 1423.7,948.2 1425.2,948.3 1426.6,948.3 1428,948.3 1429.5,948.4 1430.9,948.4 1432.3,948.4 1433.7,948.4 1435.2,948.4 1436.6,948.4 1438,948.4 1439.4,948.4 1440.9,948.4 1442.3,948.4 1443.7,948.4 1445.2,948.4 1446.6,948.4 1448,948.4 1449.4,948.4 1450.9,948.3 1452.3,948.3 1453.7,948.3 1455.1,948.3 1456.6,948.2 1458,948.2 1459.4,948.1 1460.9,948.1 1462.3,948 1463.7,948 1465.1,947.9 1466.6,947.9 1468,947.8 1469.4,947.7 1470.8,947.6 1472.3,947.5 1473.7,947.4 1475.1,947.3 1476.6,947.2 1478,947 1479.4,946.9 1480.8,946.7 1482.3,946.5 1483.7,946.2 1485.1,945.9 1486.5,945.5 1488,945 1489.4,944.5 1490.8,943.7 1492.3,942.8 1493.7,941.6 1495.1,940.1 1496.5,938.3 1498,936.1 1499.4,933.3 1500.8,930.1 1502.2,926.4 1503.7,922.1 1505.1,917.3 1506.5,912.1 1508,906.5 1509.4,900.8 1510.8,895.3 1512.2,890.1 1513.7,885.6 1515.1,882.2 1516.5,880.1 1517.9,879.5 1519.4,880.4 1520.8,882.7 1522.2,886.2 1523.7,890.7 1525.1,895.8 1526.5,901.3 1527.9,906.9 1529.4,912.3 1530.8,917.4 1532.2,922.2 1533.6,926.4 1535.1,930.1 1536.5,933.3 1537.9,936 1539.3,938.2 1540.8,940 1542.2,941.5 1543.6,942.7 1545.1,943.6 1546.5,944.3 1547.9,944.9 1549.3,945.4 1550.8,945.8 1552.2,946.1 1553.6,946.4 1555,946.6 1556.5,946.8 1557.9,946.9 1559.3,947.1 1560.8,947.2 1562.2,947.3 1563.6,947.4 1565,947.5 1566.5,947.6 1567.9,947.7 1569.3,947.8 1570.7,947.8 1572.2,947.9 1573.6,947.9 1575,948 1576.5,948 1577.9,948.1 1579.3,948.1 1580.7,948.1 1582.2,948.2 1583.6,948.2 1585,948.2 1586.4,948.3 1587.9,948.3 1589.3,948.3 1590.7,948.3 1592.2,948.3 1593.6,948.4 1595,948.4 1596.4,948.4 1597.9,948.4 1599.3,948.4 1600.7,948.4 1602.1,948.4 1603.6,948.4 1605,948.4 1606.4,948.4 1607.9,948.4 1609.3,948.4 1610.7,948.4 1612.1,948.4 1613.6,948.4 1615,948.4 1616.4,948.4 1617.8,948.4 1619.3,948.4 1620.7,948.4 1622.1,948.4 1623.6,948.4 1625,948.3 1626.4,948.3 1627.8,948.3 1629.3,948.3 1630.7,948.3 1632.1,948.3 1633.5,948.2 1635,948.2 1636.4,948.2 1637.8,948.2 1639.3,948.1 1640.7,948.1 1642.1,948.1 1643.5,948 1645,948 1646.4,947.9 1647.8,947.9 1649.2,947.8 1650.7,947.8 1652.1,947.7 1653.5,947.7 1655,947.6 1656.4,947.5 1657.8,947.5 1659.2,947.4 1660.7,947.3 1662.1,947.2 1663.5,947.1 1664.9,947 1666.4,946.9 1667.8,946.8 1669.2,946.6 1670.7,946.5 1672.1,946.3 1673.5,946.1 1674.9,945.9 1676.4,945.7 1677.8,945.5 1679.2,945.2 1680.6,944.8 1682.1,944.4 1683.5,944 1684.9,943.4 1686.4,942.7 1687.8,941.9 1689.2,940.8 1690.6,939.5 1692.1,937.8 1693.5,935.8 1694.9,933.2 1696.3,930.1 1697.8,926.3 1699.2,921.9 1700.6,916.7 1702.1,910.7 1703.5,904 1704.9,896.7 1706.3,888.7 1707.8,880.5 1709.2,872.1 1710.6,863.9 1712,856.5 1713.5,850.1 1714.9,845.3 1716.3,842.4 1717.7,841.6 1719.2,842.9 1720.6,846.1 1722,851 1723.5,857.3 1724.9,864.6 1726.3,872.6 1727.7,880.8 1729.2,888.9 1730.6,896.7 1732,904 1733.4,910.6 1734.9,916.5 1736.3,921.7 1737.7,926.1 1739.2,929.8 1740.6,933 1742,935.5 1743.4,937.6 1744.9,939.3 1746.3,940.7 1747.7,941.8 1749.1,942.7 1750.6,943.4 1752,944 1753.4,944.4 1754.9,944.8 1756.3,945.2 1757.7,945.5 1759.1,945.7 1760.6,946 1762,946.2 1763.4,946.4 1764.8,946.5 1766.3,946.7 1767.7,946.8 1769.1,946.9 1770.6,947.1 1772,947.2 1773.4,947.3 1774.8,947.4 1776.3,947.5 1777.7,947.5 1779.1,947.6 1780.5,947.7 1782,947.8 1783.4,947.8 1784.8,947.9 1786.3,947.9 1787.7,948 1789.1,948 1790.5,948.1 1792,948.1 1793.4,948.2 1794.8,948.2 1796.2,948.3 1797.7,948.3 1799.1,948.3 1800.5,948.4 1802,948.4 1803.4,948.4 1804.8,948.4 1806.2,948.5 1807.7,948.5 1809.1,948.5 1810.5,948.5 1811.9,948.6 1813.4,948.6 1814.8,948.6 1816.2,948.6 1817.7,948.6 1819.1,948.6 1820.5,948.7 1821.9,948.7 1823.4,948.7 1824.8,948.7 1826.2,948.7 1827.6,948.7 1829.1,948.8 1830.5,948.8 1831.9,948.8 1833.4,948.8 1834.8,948.8 1836.2,948.8 1837.6,948.8 1839.1,948.8 1840.5,948.8 1841.9,948.8 1843.3,948.9 1844.8,948.9 1846.2,948.9 1847.6,948.9 1849.1,948.9 1850.5,948.9 1851.9,948.9 1853.3,948.9 1854.8,948.9 1856.2,948.9 1857.6,948.9 1859,948.9 1860.5,948.9 1861.9,948.9 1863.3,949 1864.8,949 1866.2,949 1867.6,949 1869,949 1870.5,949 1871.9,949 1873.3,949 1874.7,949 1876.2,949 1877.6,949 1879,949 1880.5,949 1881.9,949 1883.3,949 1884.7,949 1886.2,949 1887.6,949 1889,949 1890.4,949 1891.9,949 1893.3,949 1894.7,949 1896.1,949 1897.6,949 1899,949 1900.4,949 1901.9,949 1903.3,949.1 1904.7,949.1 1906.1,949.1 1907.6,949.1 1909,949.1 1910.4,949.1 1911.8,949.1 1913.3,949.1 1914.7,949.1 1916.1,949.1 1917.6,949.1 1919,949.1 1920.4,949.1 1921.8,949.1 1923.3,949.1 1924.7,949.1 1926.1,949.1 1927.5,949.1 1929,949.1 1930.4,949.1 1931.8,949.1 1933.3,949.1 1934.7,949.1 1936.1,949.1 1937.5,949.1 1939,949.1 1940.4,949.1 1941.8,949.1 1943.2,949.1 1944.7,949.1 1946.1,949.1 1947.5,949.1 1949,949.1 1950.4,949.1 1951.8,949.1 1953.2,949.1 1954.7,949.1 1956.1,949.1 1957.5,949.1 1958.9,949.1 1960.4,949.1 1961.8,949.1 1963.2,949.1"/>
<polyline class="o" marker-start="url(#m2)" marker-mid="url(#m2)" marker-end="url(#m2)" points="193.5,1263.2 195.1,1266.3 196.7,1265.4 198.3,1267.8 199.9,1272.2 201.5,1266.9 203.1,1267 204.7,1272.6 206.3,1268.3 208,1271.5 209.6,1266.6 211.2,1258.2 212.8,1258.8 214.4,1255.5 216,1270.7 217.6,1266.5 219.2,1261.5 220.8,1258.7 222.4,1266.3 224,1263.7 225.6,1266.4 227.2,1260.1 228.8,1258.8 230.4,1273.7 232,1259.8 233.6,1264.9 235.2,1272.2 236.9,1254.5 238.5,1268.2 240.1,1264.4 241.7,1262.9 243.3,1265 244.9,1256.8 246.5,1251 248.1,1273.7 249.7,1261.8 251.3,1268.4 252.9,1269.6 254.5,1265 256.1,1265.8 257.7,1267 259.3,1271.4 260.9,1265.2 262.5,1269.2 264.1,1260.5 265.8,1259.7 267.4,1262.6 269,1264.5 270.6,1265.4 272.2,1273.3 273.8,1267.2 275.4,1262.9 277,1273.4 278.6,1264 280.2,1263.9 281.8,1264.4 283.4,1259.7 285,1255.3 286.6,1262.1 288.2,1259.7 289.8,1256.9 291.4,1262.6 293,1261.3 294.7,1259.6 296.3,1253.6 297.9,1262.9 299.5,1274 301.1,1269.5 302.7,1270.7 304.3,1264.7 305.9,1270.6 307.5,1260.9 309.1,1261.7 310.7,1266.7 312.3,1255.5 313.9,1263.1 315.5,1263.9 317.1,1271.1 318.7,1257.6 320.3,1263.6 321.9,1257.6 323.6,1258.4 325.2,1246.8 326.8,1256.8 328.4,1268.7 330,1265.5 331.6,1263.8 333.2,1276.7 334.8,1266.2 336.4,1256.4 338,1262 339.6,1262.6 341.2,1271.6 342.8,1257.6 344.4,1264.7 346,1267.7 347.6,1257.8 349.2,1262.7 350.8,1251.1 352.5,1262.7 354.1,1250 355.7,1260 357.3,1271.6 358.9,1264.5 360.5,1262.7 362.1,1263.5 363.7,1274.9 365.3,1266.2 366.9,1269.1 368.5,1260.9 370.1,1260.9 371.7,1257.3 373.3,1262 374.9,1258.9 376.5,1268.1 378.1,1266.2 379.7,1262 381.4,1259.7 383,1246.8 384.6,1259.6 386.2,1264.6 387.8,1266.6 389.4,1245.8 391,1249.5 392.6,1263.6 394.2,1257 395.8,1261.6 397.4,1260.4 399,1266.7 400.6,1253.7 402.2,1261.5 403.8,1270.5 405.4,1267.1 407,1261.9 408.7,1269.5 410.3,1269 411.9,1262.9 413.5,1271.9 415.1,1272.1 416.7,1267.9 418.3,1274.2 419.9,1262.8 421.5,1274 423.1,1269.2 424.7,1265.6 426.3,1268 427.9,1278.3 429.5,1269 431.1,1270.2 432.7,1268.2 434.3,1267 435.9,1276.1 437.6,1282.3 439.2,1276.7 440.8,1271.4 442.4,1272.2 444,1265.8 445.6,1264.8 447.2,1260.9 448.8,1275.5 450.4,1265.6 452,1263.4 453.6,1263.6 455.2,1267.9 456.8,1263.3 458.4,1265.9 460,1266.1 461.6,1272.1 463.2,1257.1 464.8,1265 466.5,1258.8 468.1,1259.6 469.7,1270.4 471.3,1264.3 472.9,1258.3 474.5,1263.1 476.1,1260.4 477.7,1267 479.3,1258.5 480.9,1264.4 482.5,1261 484.1,1262.7 485.7,1262.3 487.3,1260.2 488.9,1264.7 490.5,1270.2 492.1,1261.7 493.7,1263.3 495.4,1267.8 497,1261.5 498.6,1270.4 500.2,1269.1 501.8,1251.5 503.4,1260 505,1256.8 506.6,1266.8 508.2,1266.7 509.8,1253.9 511.4,1256.3 513,1259.4 514.6,1257.6 516.2,1263.9 517.8,1265.5 519.4,1263.6 521,1266.7 522.6,1266 524.3,1260.3 525.9,1258 527.5,1255.7 529.1,1264 530.7,1263.4 532.3,1262.7 533.9,1252.9 535.5,1250.2 537.1,1251.3 538.7,1254 540.3,1244.6 541.9,1239.4 543.5,1227.9 545.1,1230.7 546.7,1226 548.3,1211.2 549.9,1223.9 551.5,1202.1 553.2,1210.9 554.8,1201.3 556.4,1203.1 558,1197.8 559.6,1201.7 561.2,1213.7 562.8,1212.4 564.4,1216.6 566,1229.8 567.6,1233.8 569.2,1235.2 570.8,1240.2 572.4,1253.5 574,1245.5 575.6,1252.1 577.2,1255.1 578.8,1246.7 580.4,1245.7 582.1,1259.6 583.7,1265.4 585.3,1262.7 586.9,1259.4 588.5,1259.6 590.1,1268.7 591.7,1263 593.3,1256 594.9,1269.6 596.5,1267.5 598.1,1268.8 599.7,1273.1 601.3,1275.2 602.9,1271.4 604.5,1267.8 606.1,1257.3 607.7,1271.7 609.4,1269.8 611,1278.7 612.6,1279.1 614.2,1275.2 615.8,1280.8 617.4,1273.2 619,1273.8 620.6,1269.6 622.2,1272.8 623.8,1275.7 625.4,1280.4 627,1270 628.6,1278.2 630.2,1286.3 631.8,1264.7 633.4,1270 635,1270.5 636.6,1275 638.3,1279.4 639.9,1274.1 641.5,1266.1 643.1,1260.8 644.7,1264.9 646.3,1264.7 647.9,1266.1 649.5,1259.5 651.1,1273.1 652.7,1260.2 654.3,1268.1 655.9,1265.4 657.5,1258 659.1,1264.7 660.7,1264.7 662.3,1263.9 663.9,1270 665.5,1263 667.2,1280.5 668.8,1272.6 670.4,1260.9 672,1251.7 673.6,1273 675.2,1266.9 676.8,1265.5 678.4,1258.9 680,1255.5 681.6,1252.3 683.2,1277.1 684.8,1270.6 686.4,1257.2 688,1270.4 689.6,1247.9 691.2,1262 692.8,1261.4 694.4,1251.6 696.1,1253.3 697.7,1249.2 699.3,1254.8 700.9,1261.5 702.5,1258.7 704.1,1254.3 705.7,1257.3 707.3,1238.5 708.9,1259.8 710.5,1245.3 712.1,1235.1 713.7,1237.9 715.3,1232.7 716.9,1233.4 718.5,1230 720.1,1207.4 721.7,1224.1 723.3,1219.4 725,1191.8 726.6,1197.9 728.2,1184.2 729.8,1168.8 731.4,1158.3 733,1121 734.6,1120.6 736.2,1092.7 737.8,1104.3 739.4,1067.8 741,1057.7 742.6,1071.3 744.2,1067.5 745.8,1067.3 747.4,1076.2 749,1091 750.6,1112.7 752.2,1109.1 753.9,1125.5 755.5,1140.4 757.1,1158.4 758.7,1172.4 760.3,1175.8 761.9,1197.8 763.5,1197.2 765.1,1212.2 766.7,1220 768.3,1226.3 769.9,1242.5 771.5,1247.6 773.1,1247.3 774.7,1253.1 776.3,1243.7 777.9,1255.8 779.5,1248.3 781.1,1251.1 782.8,1252.3 784.4,1243.4 786,1248.5 787.6,1251.9 789.2,1255.6 790.8,1253.1 792.4,1249 794,1247.4 795.6,1254.7 797.2,1247.5 798.8,1247.6 800.4,1254.2 802,1256.1 803.6,1250.1 805.2,1244.6 806.8,1257.6 808.4,1261.3 810.1,1254.3 811.7,1255 813.3,1243.7 814.9,1263.8 816.5,1252.2 818.1,1263.8 819.7,1256.6 821.3,1260.2 822.9,1260.8 824.5,1252.2 826.1,1279.9 827.7,1255.1 829.3,1265.3 830.9,1260.1 832.5,1263.4 834.1,1272.7 835.7,1253.6 837.3,1263.4 839,1267 840.6,1264.8 842.2,1266.5 843.8,1260 845.4,1254.9 847,1256.9 848.6,1262.1 850.2,1268.8 851.8,1265.1 853.4,1274 855,1265.6 856.6,1266.3 858.2,1266.7 859.8,1255.9 861.4,1269.2 863,1259.7 864.6,1263.8 866.2,1279.1 867.9,1258.3 869.5,1265.5 871.1,1266 872.7,1264.5 874.3,1263.3 875.9,1259.7 877.5,1274 879.1,1251.1 880.7,1256.6 882.3,1271 883.9,1266 885.5,1258.8 887.1,1258.5 888.7,1262.6 890.3,1279.4 891.9,1267.6 893.5,1259.2 895.1,1266.7 896.8,1261.9 898.4,1274 900,1267.1 901.6,1272.5 903.2,1266 904.8,1276.3 906.4,1266.8 908,1265.8 909.6,1258.2 911.2,1261.7 912.8,1266.5 914.4,1262 916,1279.5 917.6,1266 919.2,1262.5 920.8,1273.1 922.4,1265 924,1270.8 925.7,1268.3 927.3,1264.9 928.9,1276.9 930.5,1269.5 932.1,1275 933.7,1266.7 935.3,1260.3 936.9,1261.1 938.5,1265 940.1,1266.7 941.7,1267.9 943.3,1270.4 944.9,1260.3 946.5,1268.4 948.1,1259.8 949.7,1262.4 951.3,1280.3 952.9,1272.4 954.6,1262.5 956.2,1274.3 957.8,1271.7 959.4,1268.5 961,1271.7 962.6,1262.1 964.2,1263.1 965.8,1259.3 967.4,1267.9 969,1257.9 970.6,1262.5 972.2,1268.1 973.8,1262.6 975.4,1267.3 977,1275.4 978.6,1258.7 980.2,1271.6 981.8,1258.7 983.5,1256.3 985.1,1262 986.7,1265.7 988.3,1254.7 989.9,1253.8 991.5,1254.7 993.1,1252.3 994.7,1256.9 996.3,1250.8 997.9,1252.6 999.5,1255.2 1001.1,1249.3 1002.7,1257.3 1004.3,1244.4 1005.9,1241.8 1007.5,1256.7 1009.1,1251 1010.8,1239.5 1012.4,1241.4 1014,1235.6 1015.6,1227.4 1017.2,1232.5 1018.8,1228.2 1020.4,1233.2 1022,1212.8 1023.6,1230.3 1025.2,1227.7 1026.8,1224.5 1028.4,1229 1030,1232.4 1031.6,1230 1033.2,1237.9 1034.8,1249.2 1036.4,1237.6 1038,1246.8 1039.7,1236.4 1041.3,1248.7 1042.9,1255.5 1044.5,1253.8 1046.1,1255.1 1047.7,1249.1 1049.3,1259.8 1050.9,1252.1 1052.5,1263.6 1054.1,1260.6 1055.7,1258.1 1057.3,1269.7 1058.9,1259.5 1060.5,1268.2 1062.1,1263.2 1063.7,1262.8 1065.3,1268.6 1066.9,1265.3 1068.6,1262.8 1070.2,1262.1 1071.8,1264 1073.4,1263.2 1075,1260.9 1076.6,1256.8 1078.2,1248 1079.8,1262.1 1081.4,1261.3 1083,1269.7 1084.6,1265.4 1086.2,1269.5 1087.8,1273.2 1089.4,1263.2 1091,1259.5 1092.6,1269.5 1094.2,1262.2 1095.8,1264.7 1097.5,1274.8 1099.1,1270.2 1100.7,1273.6 1102.3,1259.8 1103.9,1267.5 1105.5,1273.3 1107.1,1259.3 1108.7,1267.1 1110.3,1267.8 1111.9,1252.1 1113.5,1273.8 1115.1,1260.6 1116.7,1263.9 1118.3,1274.3 1119.9,1255.1 1121.5,1268.2 1123.1,1263.5 1124.7,1266.7 1126.4,1262.1 1128,1274.5 1129.6,1260.4 1131.2,1268.4 1132.8,1269 1134.4,1264.9 1136,1263.4 1137.6,1263.1 1139.2,1270 1140.8,1266.6 1142.4,1263.5 1144,1257.7 1145.6,1264.6 1147.2,1266.6 1148.8,1263.3 1150.4,1271.3 1152,1252.4 1153.6,1277.1 1155.3,1262.2 1156.9,1257.1 1158.5,1254.1 1160.1,1269.3 1161.7,1268.3 1163.3,1264.6 1164.9,1266.1 1166.5,1267.8 1168.1,1264.9 1169.7,1273.9 1171.3,1271 1172.9,1266.8 1174.5,1258.2 1176.1,1275 1177.7,1264.6 1179.3,1261.6 1180.9,1274.9 1182.5,1270.9 1184.2,1257.3 1185.8,1259.7 1187.4,1267.3 1189,1262.9 1190.6,1269.4 1192.2,1285.1 1193.8,1287.1 1195.4,1270.1 1197,1274.5 1198.6,1274.8 1200.2,1268.9 1201.8,1261.2 1203.4,1275.5 1205,1268.6 1206.6,1272.3 1208.2,1273.9 1209.8,1265.6 1211.5,1279.6 1213.1,1270.6 1214.7,1271.3 1216.3,1267.4 1217.9,1273.5 1219.5,1274.9 1221.1,1265.8 1222.7,1271.9 1224.3,1265.9 1225.9,1261.2 1227.5,1266.1 1229.1,1271.3 1230.7,1271 1232.3,1274 1233.9,1264.3 1235.5,1266.5 1237.1,1268.7 1238.7,1271.9 1240.4,1267.8 1242,1263.1 1243.6,1259.7 1245.2,1275 1246.8,1274.4 1248.4,1264.6 1250,1276.6 1251.6,1267.7 1253.2,1270.2 1254.8,1274.2 1256.4,1263.8 1258,1261.3 1259.6,1255.1 1261.2,1265.8 1262.8,1266.1 1264.4,1268 1266,1266.3 1267.6,1263.4 1269.3,1269.3 1270.9,1257.1 1272.5,1265.1 1274.1,1266 1275.7,1262.6 1277.3,1273.2 1278.9,1266.3 1280.5,1271.6 1282.1,1269.2 1283.7,1263.1 1285.3,1274.8 1286.9,1269.8 1288.5,1263.1 1290.1,1261.9 1291.7,1256.3 1293.3,1261 1294.9,1260.5 1296.5,1263.2 1298.2,1260 1299.8,1266.2 1301.4,1263.1 1303,1255.3 1304.6,1261.8 1306.2,1260 1307.8,1258 1309.4,1263.8 1311,1270.4 1312.6,1258.8 1314.2,1253.6 1315.8,1263.9 1317.4,1281.6 1319,1261.2 1320.6,1266 1322.2,1262.1 1323.8,1269.3 1325.4,1272.7 1327.1,1263.7 1328.7,1271.3 1330.3,1258.5 1331.9,1265.9 1333.5,1257.5 1335.1,1265.8 1336.7,1261.2 1338.3,1266 1339.9,1258.1 1341.5,1265.8 1343.1,1265 1344.7,1261.1 1346.3,1259.8 1347.9,1257.7 1349.5,1262.4 1351.1,1267.3 1352.7,1264.7 1354.3,1266.9 1356,1273.8 1357.6,1265.1 1359.2,1269.1 1360.8,1272.4 1362.4,1270.7 1364,1270 1365.6,1268.1 1367.2,1278.7 1368.8,1266.7 1370.4,1264.4 1372,1269.7 1373.6,1275.1 1375.2,1272.8 1376.8,1263.1 1378.4,1266 1380,1261.8 1381.6,1256.7 1383.2,1257.5 1384.9,1254.4 1386.5,1248.7 1388.1,1256.1 1389.7,1240.9 1391.3,1250.4 1392.9,1253.8 1394.5,1253.5 1396.1,1242.2 1397.7,1240.2 1399.3,1232.6 1400.9,1243.7 1402.5,1260.9 1404.1,1238 1405.7,1240 1407.3,1256.3 1408.9,1256.5 1410.5,1243.3 1412.2,1255.3 1413.8,1259 1415.4,1249.1 1417,1264.8 1418.6,1252.2 1420.2,1267.4 1421.8,1262.5 1423.4,1257.7 1425,1252.6 1426.6,1259.9 1428.2,1261.1 1429.8,1260.4 1431.4,1257.1 1433,1258.6 1434.6,1264.2 1436.2,1253.2 1437.8,1256.6 1439.4,1260 1441.1,1257 1442.7,1261.9 1444.3,1265.8 1445.9,1254.7 1447.5,1258.1 1449.1,1239.9 1450.7,1254.9 1452.3,1260.8 1453.9,1250.6 1455.5,1265 1457.1,1246.7 1458.7,1266 1460.3,1255.9 1461.9,1253.7 1463.5,1257.7 1465.1,1259.8 1466.7,1256.2 1468.3,1254.7 1470,1260.1 1471.6,1268.9 1473.2,1265.9 1474.8,1271.4 1476.4,1259.9 1478,1261.2 1479.6,1261 1481.2,1263.3 1482.8,1264.6 1484.4,1271.5 1486,1264.3 1487.6,1259.8 1489.2,1265.6 1490.8,1251 1492.4,1245.7 1494,1255.5 1495.6,1249.7 1497.2,1246.3 1498.9,1247.9 1500.5,1236 1502.1,1233 1503.7,1231.4 1505.3,1228.1 1506.9,1225 1508.5,1213.8 1510.1,1209.3 1511.7,1185.8 1513.3,1205.7 1514.9,1182.6 1516.5,1190.2 1518.1,1206.5 1519.7,1186.7 1521.3,1179.4 1522.9,1204 1524.5,1192.7 1526.1,1199.6 1527.8,1204.4 1529.4,1215.4 1531,1220.7 1532.6,1219.8 1534.2,1232.8 1535.8,1224.4 1537.4,1238.9 1539,1234.7 1540.6,1246.5 1542.2,1241.2 1543.8,1245.4 1545.4,1259.5 1547,1245.7 1548.6,1247.2 1550.2,1259.2 1551.8,1255.5 1553.4,1255.5 1555,1258 1556.7,1272 1558.3,1253.8 1559.9,1258.6 1561.5,1261.5 1563.1,1255.5 1564.7,1261.3 1566.3,1265 1567.9,1257.6 1569.5,1270.1 1571.1,1257.5 1572.7,1263.7 1574.3,1266.7 1575.9,1283.1 1577.5,1254.4 1579.1,1265.8 1580.7,1278.4 1582.3,1260.2 1583.9,1269.8 1585.6,1264.9 1587.2,1255.8 1588.8,1266.8 1590.4,1259.9 1592,1266.2 1593.6,1257.5 1595.2,1270.8 1596.8,1253 1598.4,1266.1 1600,1274.6 1601.6,1270.4 1603.2,1265.6 1604.8,1266.6 1606.4,1265.9 1608,1284.3 1609.6,1268.6 1611.2,1268.9 1612.9,1264.7 1614.5,1265.8 1616.1,1271.5 1617.7,1263.7 1619.3,1261.7 1620.9,1262.2 1622.5,1262.3 1624.1,1264.3 1625.7,1259.7 1627.3,1260.6 1628.9,1256.7 1630.5,1267.7 1632.1,1260.9 1633.7,1258.6 1635.3,1262.3 1636.9,1260.9 1638.5,1252.7 1640.1,1261.5 1641.8,1272.8 1643.4,1267 1645,1271.5 1646.6,1261.2 1648.2,1256.7 1649.8,1261.2 1651.4,1272.8 1653,1258.7 1654.6,1259.4 1656.2,1269.8 1657.8,1261.4 1659.4,1261.4 1661,1264.6 1662.6,1262.9 1664.2,1260.8 1665.8,1264.4 1667.4,1259.1 1669,1263.4 1670.7,1267.8 1672.3,1257.9 1673.9,1263 1675.5,1257.4 1677.1,1268.3 1678.7,1267.1 1680.3,1268.4 1681.9,1268.2 1683.5,1267.2 1685.1,1264.3 1686.7,1253.9 1688.3,1262.6 1689.9,1249.3 1691.5,1266.8 1693.1,1251.2 1694.7,1249.5 1696.3,1233.7 1697.9,1243.6 1699.6,1238.8 1701.2,1214.9 1702.8,1214.9 1704.4,1208.5 1706,1199.8 1707.6,1206 1709.2,1203.8 1710.8,1173.6 1712.4,1181 1714,1164.8 1715.6,1170.5 1717.2,1138.4 1718.8,1149.8 1720.4,1160.5 1722,1147 1723.6,1163.7 1725.2,1156 1726.8,1173.7 1728.5,1176.9 1730.1,1177.9 1731.7,1184.1 1733.3,1196.8 1734.9,1214.1 1736.5,1214.1 1738.1,1217 1739.7,1249.5 1741.3,1223.2 1742.9,1236.7 1744.5,1245.7 1746.1,1239.3 1747.7,1248.8 1749.3,1248.8 1750.9,1244.6 1752.5,1258.2 1754.1,1250 1755.7,1253.4 1757.4,1265.9 1759,1252.2 1760.6,1262.6 1762.2,1266 1763.8,1264.9 1765.4,1261.9 1767,1257.9 1768.6,1251.4 1770.2,1261 1771.8,1263.3 1773.4,1258.3 1775,1256 1776.6,1267.1 1778.2,1256.1 1779.8,1264.8 1781.4,1259.4 1783,1252.3 1784.6,1271.3 1786.3,1265.3 1787.9,1264.9 1789.5,1253.6 1791.1,1261.2 1792.7,1263.9 1794.3,1258.5 1795.9,1272.8 1797.5,1252.1 1799.1,1268.1 1800.7,1253.4 1802.3,1255.1 1803.9,1256.3 1805.5,1266.2 1807.1,1257.9 1808.7,1257.2 1810.3,1255 1811.9,1251.2 1813.6,1254.2 1815.2,1253.7 1816.8,1257.9 1818.4,1258.2 1820,1247.6 1821.6,1258.5 1823.2,1270 1824.8,1261.1 1826.4,1263.9 1828,1260.5 1829.6,1260.9 1831.2,1264.3 1832.8,1257.1 1834.4,1263.8 1836,1255.5 1837.6,1267.2 1839.2,1256.7 1840.8,1269.7 1842.5,1271.9 1844.1,1256.9 1845.7,1269.5 1847.3,1262.7 1848.9,1270.7 1850.5,1259.9 1852.1,1260.1 1853.7,1258.9 1855.3,1266.7 1856.9,1247.8 1858.5,1262.6 1860.1,1258.7 1861.7,1255.6 1863.3,1257.5 1864.9,1264.9 1866.5,1265.1 1868.1,1270.8 1869.7,1258.5 1871.4,1252.1 1873,1260.3 1874.6,1262.8 1876.2,1261.8 1877.8,1271.4 1879.4,1277.5 1881,1266.9 1882.6,1254.7 1884.2,1270.4 1885.8,1260.8 1887.4,1264.5 1889,1268.8 1890.6,1266.1 1892.2,1263.5 1893.8,1265.4 1895.4,1267.9 1897,1266.8 1898.6,1274.4 1900.3,1245.4 1901.9,1257.2 1903.5,1257.6 1905.1,1265 1906.7,1261.2 1908.3,1264.5 1909.9,1251.7 1911.5,1258.6 1913.1,1263.5 1914.7,1259.8 1916.3,1257.9 1917.9,1261.7 1919.5,1269.4 1921.1,1248.2 1922.7,1268.8 1924.3,1261.4 1925.9,1255 1927.5,1263.6 1929.2,1260.3 1930.8,1267.2 1932.4,1256.3 1934,1266.7 1935.6,1256.6 1937.2,1263.8 1938.8,1266.2 1940.4,1261.9 1942,1266.1 1960,1256.4 1963.4,1263"/>
<polyline class="c" points="193.5,1268.7 196.7,1268.7 199.9,1268.7 203.1,1268.7 206.3,1268.7 209.6,1268.7 212.8,1268.7 216,1268.7 219.2,1268.7 222.4,1268.7 225.6,1268.7 228.8,1268.7 232,1268.8 235.2,1268.8 238.5,1268.8 241.7,1268.8 244.9,1268.8 248.1,1268.8 251.3,1268.8 254.5,1268.8 257.7,1268.8 260.9,1268.8 264.1,1268.8 267.4,1268.8 270.6,1268.8 273.8,1268.8 277,1268.8 280.2,1268.8 283.4,1268.8 286.6,1268.8 289.8,1268.8 293,1268.8 296.3,1268.8 299.5,1268.8 302.7,1268.8 305.9,1268.8 309.1,1268.8 312.3,1268.8 315.5,1268.8 318.7,1268.8 321.9,1268.8 325.2,1268.8 328.4,1268.8 331.6,1268.8 334.8,1268.8 338,1268.8 341.2,1268.8 344.4,1268.8 347.6,1268.8 350.8,1268.8 354.1,1268.8 357.3,1268.8 360.5,1268.8 363.7,1268.8 366.9,1268.7 370.1,1268.7 373.3,1268.7 376.5,1268.7 379.7,1268.7 383,1268.7 386.2,1268.7 389.4,1268.7 392.6,1268.7 395.8,1268.7 399,1268.7 402.2,1268.7 405.4,1268.7 408.7,1268.7 411.9,1268.7 415.1,1268.7 418.3,1268.7 421.5,1268.7 424.7,1268.6 427.9,1268.6 431.1,1268.6 434.3,1268.6 437.6,1268.6 440.8,1268.6 444,1268.6 447.2,1268.5 450.4,1268.5 453.6,1268.5 456.8,1268.5 460,1268.4 463.2,1268.4 466.5,1268.4 469.7,1268.3 472.9,1268.3 476.1,1268.3 479.3,1268.2 482.5,1268.1 485.7,1268.1 488.9,1268 492.1,1267.9 495.4,1267.8 498.6,1267.7 501.8,1267.6 505,1267.4 508.2,1267.2 511.4,1267 514.6,1266.7 517.8,1266.4 521,1265.9 524.3,1265.3 527.5,1264.4 530.7,1262.9 533.9,1260.6 537.1,1256.9 540.3,1251.6 543.5,1244.2 546.7,1235.2 549.9,1225.4 553.2,1217.1 556.4,1213.3 559.6,1215.8 562.8,1223.3 566,1233 569.2,1242.3 572.4,1250 575.6,1255.7 578.8,1259.7 582.1,1262.3 585.3,1263.9 588.5,1264.9 591.7,1265.5 594.9,1266 598.1,1266.3 601.3,1266.6 604.5,1266.8 607.7,1266.9 611,1267 614.2,1267.1 617.4,1267.2 620.6,1267.3 623.8,1267.3 627,1267.3 630.2,1267.3 633.4,1267.3 636.6,1267.3 639.9,1267.3 643.1,1267.2 646.3,1267.2 649.5,1267.1 652.7,1267.1 655.9,1267 659.1,1266.9 662.3,1266.7 665.5,1266.6 668.8,1266.4 672,1266.2 675.2,1266 678.4,1265.8 681.6,1265.5 684.8,1265.2 688,1264.8 691.2,1264.3 694.4,1263.8 697.7,1263.2 700.9,1262.5 704.1,1261.5 707.3,1260.4 710.5,1258.9 713.7,1257 716.9,1254.1 720.1,1249.7 723.3,1242.9 726.6,1232.4 729.8,1216.9 733,1195.2 736.2,1167.3 739.4,1134.8 742.6,1102.1 745.8,1077.1 749,1068.9 752.2,1080.9 755.5,1108 758.7,1141 761.9,1172.7 765.1,1199.4 768.3,1219.7 771.5,1234.1 774.7,1243.6 777.9,1249.5 781.1,1253.1 784.4,1255.1 787.6,1255.9 790.8,1255.7 794,1254.7 797.2,1253.1 800.4,1251.3 803.6,1249.8 806.8,1249.5 810.1,1250.6 813.3,1253 816.5,1255.9 819.7,1258.7 822.9,1261 826.1,1262.9 829.3,1264.2 832.5,1265.1 835.7,1265.8 839,1266.2 842.2,1266.6 845.4,1266.8 848.6,1267 851.8,1267.2 855,1267.4 858.2,1267.5 861.4,1267.6 864.6,1267.7 867.9,1267.8 871.1,1267.9 874.3,1268 877.5,1268 880.7,1268.1 883.9,1268.1 887.1,1268.2 890.3,1268.2 893.5,1268.3 896.8,1268.3 900,1268.3 903.2,1268.4 906.4,1268.4 909.6,1268.4 912.8,1268.4 916,1268.4 919.2,1268.4 922.4,1268.4 925.7,1268.5 928.9,1268.4 932.1,1268.4 935.3,1268.4 938.5,1268.4 941.7,1268.4 944.9,1268.4 948.1,1268.3 951.3,1268.3 954.6,1268.2 957.8,1268.2 961,1268.1 964.2,1268 967.4,1267.9 970.6,1267.7 973.8,1267.6 977,1267.4 980.2,1267.1 983.5,1266.8 986.7,1266.3 989.9,1265.6 993.1,1264.6 996.3,1263 999.5,1260.5 1002.7,1256.9 1005.9,1252 1009.1,1245.6 1012.4,1238.1 1015.6,1230.6 1018.8,1224.8 1022,1222.5 1025.2,1224.7 1028.4,1230.5 1031.6,1238 1034.8,1245.4 1038,1251.9 1041.3,1256.9 1044.5,1260.5 1047.7,1263 1050.9,1264.7 1054.1,1265.8 1057.3,1266.5 1060.5,1267 1063.7,1267.3 1066.9,1267.6 1070.2,1267.8 1073.4,1268 1076.6,1268.2 1079.8,1268.3 1083,1268.4 1086.2,1268.5 1089.4,1268.6 1092.6,1268.7 1095.8,1268.7 1099.1,1268.8 1102.3,1268.8 1105.5,1268.9 1108.7,1268.9 1111.9,1268.9 1115.1,1269 1118.3,1269 1121.5,1269 1124.7,1269.1 1128,1269.1 1131.2,1269.1 1134.4,1269.1 1137.6,1269.1 1140.8,1269.1 1144,1269.2 1147.2,1269.2 1150.4,1269.2 1153.6,1269.2 1156.9,1269.2 1160.1,1269.2 1163.3,1269.2 1166.5,1269.2 1169.7,1269.2 1172.9,1269.2 1176.1,1269.2 1179.3,1269.2 1182.5,1269.2 1185.8,1269.2 1189,1269.2 1192.2,1269.2 1195.4,1269.2 1198.6,1269.2 1201.8,1269.2 1205,1269.2 1208.2,1269.2 1211.5,1269.2 1214.7,1269.2 1217.9,1269.2 1221.1,1269.2 1224.3,1269.2 1227.5,1269.2 1230.7,1269.2 1233.9,1269.2 1237.1,1269.2 1240.4,1269.2 1243.6,1269.2 1246.8,1269.2 1250,1269.2 1253.2,1269.2 1256.4,1269.2 1259.6,1269.2 1262.8,1269.2 1266,1269.2 1269.3,1269.2 1272.5,1269.2 1275.7,1269.1 1278.9,1269.1 1282.1,1269.1 1285.3,1269.1 1288.5,1269.1 1291.7,1269.1 1294.9,1269.1 1298.2,1269 1301.4,1269 1304.6,1269 1307.8,1269 1311,1269 1314.2,1268.9 1317.4,1268.9 1320.6,1268.9 1323.8,1268.8 1327.1,1268.8 1330.3,1268.7 1333.5,1268.7 1336.7,1268.6 1339.9,1268.6 1343.1,1268.5 1346.3,1268.4 1349.5,1268.3 1352.7,1268.1 1356,1267.9 1359.2,1267.6 1362.4,1267.3 1365.6,1266.7 1368.8,1265.8 1372,1264.5 1375.2,1262.7 1378.4,1260.3 1381.6,1257.2 1384.9,1253.8 1388.1,1250.6 1391.3,1248.2 1394.5,1247.5 1397.7,1248.7 1400.9,1251.3 1404.1,1254.6 1407.3,1257.9 1410.5,1260.7 1413.8,1262.9 1417,1264.5 1420.2,1265.6 1423.4,1266.3 1426.6,1266.8 1429.8,1267.1 1433,1267.2 1436.2,1267.3 1439.4,1267.4 1442.7,1267.4 1445.9,1267.4 1449.1,1267.3 1452.3,1267.3 1455.5,1267.2 1458.7,1267 1461.9,1266.9 1465.1,1266.7 1468.3,1266.4 1471.6,1266.1 1474.8,1265.7 1478,1265.2 1481.2,1264.5 1484.4,1263.6 1487.6,1262.1 1490.8,1260 1494,1256.8 1497.2,1252 1500.5,1245.3 1503.7,1236.5 1506.9,1225.7 1510.1,1213.9 1513.3,1202.8 1516.5,1195.2 1519.7,1193.4 1522.9,1197.9 1526.1,1207.2 1529.4,1218.7 1532.6,1230.1 1535.8,1240.1 1539,1248 1542.2,1253.9 1545.4,1258 1548.6,1260.8 1551.8,1262.7 1555,1263.9 1558.3,1264.7 1561.5,1265.3 1564.7,1265.8 1567.9,1266.2 1571.1,1266.5 1574.3,1266.7 1577.5,1266.9 1580.7,1267.1 1583.9,1267.2 1587.2,1267.3 1590.4,1267.4 1593.6,1267.5 1596.8,1267.5 1600,1267.6 1603.2,1267.6 1606.4,1267.6 1609.6,1267.7 1612.9,1267.7 1616.1,1267.7 1619.3,1267.6 1622.5,1267.6 1625.7,1267.6 1628.9,1267.5 1632.1,1267.5 1635.3,1267.4 1638.5,1267.3 1641.8,1267.2 1645,1267.1 1648.2,1266.9 1651.4,1266.8 1654.6,1266.6 1657.8,1266.4 1661,1266.1 1664.2,1265.8 1667.4,1265.4 1670.7,1265 1673.9,1264.5 1677.1,1263.8 1680.3,1262.9 1683.5,1261.7 1686.7,1259.9 1689.9,1257.3 1693.1,1253.4 1696.3,1247.6 1699.6,1239.3 1702.8,1228.1 1706,1213.9 1709.2,1197.4 1712.4,1180.4 1715.6,1166 1718.8,1158.1 1722,1159 1725.2,1168.2 1728.5,1182.9 1731.7,1199.7 1734.9,1215.8 1738.1,1229.5 1741.3,1240.3 1744.5,1248.3 1747.7,1253.9 1750.9,1257.7 1754.1,1260.2 1757.4,1261.9 1760.6,1263.1 1763.8,1264 1767,1264.7 1770.2,1265.2 1773.4,1265.6 1776.6,1266 1779.8,1266.3 1783,1266.6 1786.3,1266.9 1789.5,1267.1 1792.7,1267.2 1795.9,1267.4 1799.1,1267.5 1802.3,1267.7 1805.5,1267.8 1808.7,1267.9 1811.9,1268 1815.2,1268 1818.4,1268.1 1821.6,1268.2 1824.8,1268.2 1828,1268.3 1831.2,1268.3 1834.4,1268.4 1837.6,1268.4 1840.8,1268.5 1844.1,1268.5 1847.3,1268.5 1850.5,1268.6 1853.7,1268.6 1856.9,1268.6 1860.1,1268.7 1863.3,1268.7 1866.5,1268.7 1869.7,1268.7 1873,1268.7 1876.2,1268.8 1879.4,1268.8 1882.6,1268.8 1885.8,1268.8 1889,1268.8 1892.2,1268.8 1895.4,1268.8 1898.6,1268.9 1901.9,1268.9 1905.1,1268.9 1908.3,1268.9 1911.5,1268.9 1914.7,1268.9 1917.9,1268.9 1921.1,1268.9 1924.3,1268.9 1927.5,1268.9 1930.8,1268.9 1934,1268.9 1937.2,1269 1940.4,1269 1943.6,1269 1946.8,1269 1950,1269 1953.2,1269 1956.4,1269 1959.7,1269 1962.9,1269"/>
<polyline class="o" marker-start="url(#m1)" marker-mid="url(#m1)" marker-end="url(#m1)" points="193.5,1541.6 194.4,1547 195.3,1548 196.2,1550.9 197.1,1546.4 198,1557.8 198.9,1559.1 199.7,1555.5 200.6,1554.5 201.5,1550.4 202.4,1558.3 203.3,1554 204.2,1559.2 205.1,1560.9 206,1557.4 206.9,1549.4 207.8,1554.2 208.7,1563.2 209.6,1559.3 210.4,1563.8 211.3,1549.9 212.2,1557.9 213.1,1557.5 214,1551.7 214.9,1555.1 215.8,1561 216.7,1559.1 217.6,1554.8 218.5,1558 219.4,1561.3 220.3,1552.8 221.2,1558.2 222,1561.3 222.9,1555 223.8,1562.9 224.7,1557.9 225.6,1562.8 226.5,1562.4 227.4,1560.3 228.3,1558.6 229.2,1557.7 230.1,1561.4 231,1562.1 231.9,1567.2 232.7,1561.9 233.6,1564 234.5,1569.4 235.4,1564.3 236.3,1564.9 237.2,1569.3 238.1,1563.4 239,1564.6 239.9,1566 240.8,1562.8 241.7,1559.3 242.6,1558.4 243.5,1563.8 244.3,1569.5 245.2,1569.8 246.1,1572.9 247,1570.8 247.9,1565.4 248.8,1562.8 249.7,1566.7 250.6,1567.7 251.5,1565.8 252.4,1572 253.3,1565 254.2,1569.9 255,1570.1 255.9,1559.9 256.8,1564.5 257.7,1570.4 258.6,1568.4 259.5,1565.2 260.4,1560.2 261.3,1561.5 262.2,1564.3 263.1,1568.6 264,1565.5 264.9,1563.3 265.8,1564.4 266.6,1566.5 267.5,1556.9 268.4,1559.8 269.3,1563.8 270.2,1568.5 271.1,1568.1 272,1561.2 272.9,1564.5 273.8,1561.9 274.7,1563.6 275.6,1566 276.5,1564.4 277.3,1564 278.2,1561.9 279.1,1560.5 280,1566 280.9,1567.4 281.8,1569 282.7,1563.3 283.6,1563.4 284.5,1570.7 285.4,1567.1 286.3,1568.5 287.2,1562.6 288.1,1561.7 288.9,1559.8 289.8,1567.8 290.7,1559.6 291.6,1557.4 292.5,1561.3 293.4,1569.2 294.3,1564.7 295.2,1565.8 296.1,1565.5 297,1565.1 297.9,1564.8 298.8,1560.1 299.6,1571.9 300.5,1564.9 301.4,1570.1 302.3,1559.4 303.2,1567.4 304.1,1560.8 305,1560.3 305.9,1566.3 306.8,1569.2 307.7,1570.5 308.6,1570.4 309.5,1564.2 310.4,1568.1 311.2,1562.7 312.1,1562.7 313,1565.4 313.9,1563.7 314.8,1567 315.7,1556.4 316.6,1567.4 317.5,1560.5 318.4,1568.2 319.3,1566.7 320.2,1557.8 321.1,1562 321.9,1564.8 322.8,1559.1 323.7,1559.3 324.6,1560.9 325.5,1564.8 326.4,1565.3 327.3,1560.1 328.2,1564.7 329.1,1567 330,1564.7 330.9,1558.2 331.8,1557.6 332.7,1561.7 333.5,1563.5 334.4,1561.7 335.3,1558.2 336.2,1555.8 337.1,1563.7 338,1557.9 338.9,1565.2 339.8,1553.3 340.7,1556.1 341.6,1554.6 342.5,1563.9 343.4,1561.3 344.2,1554.6 345.1,1549 346,1560.7 346.9,1556.8 347.8,1552.1 348.7,1550.8 349.6,1558.3 350.5,1556.4 351.4,1558.1 352.3,1559.6 353.2,1557.2 354.1,1558.2 355,1562.3 355.8,1559.9 356.7,1559.9 357.6,1563.9 358.5,1554.3 359.4,1567 360.3,1564.2 361.2,1559.8 362.1,1562.2 363,1567.6 363.9,1565 364.8,1556.1 365.7,1559 366.5,1563.5 367.4,1569.6 368.3,1565.7 369.2,1562 370.1,1564.9 371,1562.6 371.9,1561.1 372.8,1563.3 373.7,1553.3 374.6,1564.7 375.5,1562.4 376.4,1558.1 377.3,1556 378.1,1554.2 379,1559.5 379.9,1558.9 380.8,1558.9 381.7,1564.8 382.6,1550 383.5,1555.9 384.4,1556 385.3,1562.9 386.2,1558.8 387.1,1556.6 388,1561.5 388.8,1562.8 389.7,1567.9 390.6,1563.2 391.5,1561 392.4,1561.1 393.3,1560.1 394.2,1565.1 395.1,1566.3 396,1562.1 396.9,1562.2 397.8,1567.6 398.7,1562.4 399.6,1563.6 400.4,1557.3 401.3,1558.9 402.2,1553.1 403.1,1556.2 404,1563.1 404.9,1567 405.8,1561.9 406.7,1559.1 407.6,1564.8 408.5,1569.5 409.4,1565.2 410.3,1569.8 411.1,1566.4 412,1562 412.9,1563.2 413.8,1565.4 414.7,1574.8 415.6,1567.9 416.5,1564.4 417.4,1566.1 418.3,1565.7 419.2,1563.2 420.1,1564.6 421,1564.2 421.9,1568.4 422.7,1571.9 423.6,1571.5 424.5,1565.7 425.4,1569.5 426.3,1565.2 427.2,1564.3 428.1,1569.4 429,1572 429.9,1570.1 430.8,1574.1 431.7,1574.7 432.6,1574.9 433.4,1571.8 434.3,1567.3 435.2,1579.4 436.1,1570.5 437,1574.7 437.9,1573.3 438.8,1569.5 439.7,1577.1 440.6,1572 441.5,1568.7 442.4,1566.5 443.3,1563.9 444.2,1562.3 445,1569 445.9,1564.9 446.8,1564.8 447.7,1568.6 448.6,1565.5 449.5,1569.6 450.4,1565 451.3,1565.8 452.2,1571.7 453.1,1565.9 454,1571.2 454.9,1571 455.7,1569.3 456.6,1563 457.5,1564.3 458.4,1565.1 459.3,1564.3 460.2,1572.4 461.1,1565.6 462,1563.9 462.9,1566.3 463.8,1567.6 464.7,1561.2 465.6,1569.5 466.5,1569.7 467.3,1564.4 468.2,1569.6 469.1,1560.5 470,1564.4 470.9,1566.1 471.8,1567.4 472.7,1571.9 473.6,1566.7 474.5,1564.6 475.4,1569.7 476.3,1569.9 477.2,1571.3 478,1568.5 478.9,1570.5 479.8,1567.6 480.7,1571.7 481.6,1566.7 482.5,1566.4 483.4,1572.6 484.3,1564.6 485.2,1566.8 486.1,1568.3 487,1564.3 487.9,1568.3 488.8,1562.1 489.6,1567.8 490.5,1557.6 491.4,1558.1 492.3,1563.4 493.2,1568.5 494.1,1569.1 495,1559.6 495.9,1562.8 496.8,1561.1 497.7,1554.8 498.6,1565.8 499.5,1561.6 500.3,1568.2 501.2,1563.9 502.1,1560.6 503,1559.8 503.9,1561.3 504.8,1563.3 505.7,1559.1 506.6,1571.1 507.5,1560.4 508.4,1554.4 509.3,1558.3 510.2,1561.6 511.1,1558.1 511.9,1554.4 512.8,1552.4 513.7,1551.3 514.6,1549.3 515.5,1551.5 516.4,1554.2 517.3,1550.9 518.2,1559.5 519.1,1554.8 520,1551.9 520.9,1553.8 521.8,1560 522.6,1548 523.5,1555.9 524.4,1565.5 525.3,1558.9 526.2,1551.3 527.1,1555 528,1553.1 528.9,1564.4 529.8,1550.2 530.7,1551.1 531.6,1550.3 532.5,1545.4 533.4,1537.5 534.2,1549.1 535.1,1551.5 536,1547.2 536.9,1550.2 537.8,1550.4 538.7,1549.1 539.6,1538.2 540.5,1549.6 541.4,1545.3 542.3,1543.3 543.2,1538.1 544.1,1536 544.9,1531.7 545.8,1533.6 546.7,1533.6 547.6,1525.4 548.5,1529.1 549.4,1521.7 550.3,1524.1 551.2,1519.1 552.1,1521.5 553,1524.3 553.9,1515.5 554.8,1511.2 555.7,1510.6 556.5,1514.6 557.4,1509.9 558.3,1516.8 559.2,1514.9 560.1,1518.9 561,1514.5 561.9,1514.7 562.8,1517.7 563.7,1524.7 564.6,1521.8 565.5,1530 566.4,1520.4 567.2,1528 568.1,1531.7 569,1526.3 569.9,1532.7 570.8,1530.4 571.7,1537.4 572.6,1538 573.5,1543.2 574.4,1538.2 575.3,1536.4 576.2,1542.3 577.1,1546.6 578,1548 578.8,1549.8 579.7,1555.4 580.6,1550.4 581.5,1552 582.4,1550.3 583.3,1551.8 584.2,1558.6 585.1,1556.1 586,1544.4 586.9,1559.4 587.8,1546.9 588.7,1553.1 589.5,1558.7 590.4,1555.7 591.3,1557.8 592.2,1559.5 593.1,1557.9 594,1552.3 594.9,1559.2 595.8,1555.4 596.7,1549 597.6,1557.4 598.5,1560.6 599.4,1558.8 600.3,1558 601.1,1564.3 602,1558.1 602.9,1560.1 603.8,1557.3 604.7,1562 605.6,1553.8 606.5,1559.5 607.4,1561.7 608.3,1553 609.2,1558.4 610.1,1549 611,1555.3 611.8,1556.7 612.7,1550.4 613.6,1546.4 614.5,1553.2 615.4,1551.5 616.3,1553.3 617.2,1553.5 618.1,1555.5 619,1558.3 619.9,1554.1 620.8,1546.7 621.7,1555.5 622.6,1554.7 623.4,1554 624.3,1559.9 625.2,1555 626.1,1552.7 627,1556 627.9,1548 628.8,1557.8 629.7,1554.2 630.6,1560.2 631.5,1556.1 632.4,1554.7 633.3,1553.7 634.1,1548.3 635,1552.5 635.9,1553.9 636.8,1556.7 637.7,1554.8 638.6,1556.1 639.5,1556.3 640.4,1551.9 641.3,1555.3 642.2,1553.3 643.1,1549.3 644,1548 644.9,1556.7 645.7,1558.6 646.6,1558 647.5,1548.7 648.4,1557.3 649.3,1557.2 650.2,1548 651.1,1552.7 652,1557.5 652.9,1551.4 653.8,1555.9 654.7,1549.3 655.6,1550.7 656.4,1555.7 657.3,1552 658.2,1553.4 659.1,1553.7 660,1549.8 660.9,1559.9 661.8,1554.2 662.7,1554 663.6,1554.2 664.5,1556.8 665.4,1553.6 666.3,1561.1 667.2,1557 668,1561.9 668.9,1555.8 669.8,1555.6 670.7,1556.2 671.6,1560.8 672.5,1554.9 673.4,1563.2 674.3,1558.5 675.2,1563.2 676.1,1558 677,1562.6 677.9,1555.4 678.7,1555.1 679.6,1561.9 680.5,1557.6 681.4,1564.1 682.3,1557.6 683.2,1562.5 684.1,1557.4 685,1553.8 685.9,1566.1 686.8,1559.4 687.7,1563.6 688.6,1560 689.5,1552 690.3,1559.6 691.2,1561.6 692.1,1561.7 693,1562.4 693.9,1556.8 694.8,1554.3 695.7,1554.5 696.6,1549.2 697.5,1556.4 698.4,1556.2 699.3,1554.6 700.2,1550.1 701,1555.7 701.9,1550.9 702.8,1558.1 703.7,1550.8 704.6,1551 705.5,1551.8 706.4,1548.8 707.3,1549 708.2,1551.1 709.1,1541.9 710,1559.3 710.9,1552.2 711.8,1551.3 712.6,1546.1 713.5,1549.8 714.4,1548.5 715.3,1548.4 716.2,1541.4 717.1,1546.3 718,1538.3 718.9,1544.3 719.8,1540.5 720.7,1540.6 721.6,1540.5 722.5,1544 723.3,1544.3 724.2,1537.9 725.1,1531.9 726,1541 726.9,1527.4 727.8,1529.1 728.7,1528.6 729.6,1524.1 730.5,1530.3 731.4,1523.4 732.3,1522.9 733.2,1513 734.1,1513.7 734.9,1504.3 735.8,1498.9 736.7,1494.9 737.6,1488.8 738.5,1482.6 739.4,1471.5 740.3,1457.5 741.2,1454.3 742.1,1434.5 743,1436.4 743.9,1425 744.8,1424 745.6,1399.6 746.5,1415.3 747.4,1399.1 748.3,1389.8 749.2,1398.2 750.1,1399.3 751,1401.8 751.9,1414.7 752.8,1406.4 753.7,1419 754.6,1426.3 755.5,1431 756.4,1444.4 757.2,1457.6 758.1,1456.6 759,1470.8 759.9,1481.2 760.8,1487 761.7,1483.9 762.6,1498.5 763.5,1501.2 764.4,1513.4 765.3,1512.2 766.2,1525.4 767.1,1515.5 767.9,1526.4 768.8,1523.7 769.7,1537.9 770.6,1539.6 771.5,1531.5 772.4,1540.7 773.3,1539.3 774.2,1534.3 775.1,1538.1 776,1544 776.9,1546.7 777.8,1543.8 778.7,1547.2 779.5,1547.7 780.4,1548 781.3,1542.3 782.2,1547.9 783.1,1549.7 784,1541.6 784.9,1554.1 785.8,1553.9 786.7,1548.7 787.6,1556.6 788.5,1544.9 789.4,1544.4 790.2,1545.8 791.1,1545.5 792,1555.9 792.9,1548.6 793.8,1548.1 794.7,1549.7 795.6,1554.5 796.5,1548.5 797.4,1545.8 798.3,1548 799.2,1551.4 800.1,1544.7 801,1550.7 801.8,1545.5 802.7,1543 803.6,1545.4 804.5,1551.3 805.4,1542.2 806.3,1549.1 807.2,1546.3 808.1,1545.2 809,1545.6 809.9,1549.6 810.8,1549.7 811.7,1549.6 812.5,1551.7 813.4,1546.4 814.3,1548 815.2,1547.3 816.1,1550.6 817,1551.8 817.9,1551.7 818.8,1555.8 819.7,1550.4 820.6,1553.8 821.5,1558.7 822.4,1562.5 823.3,1556.6 824.1,1561.7 825,1562.9 825.9,1554.1 826.8,1559.6 827.7,1555.1 828.6,1558.2 829.5,1561.8 830.4,1555.7 831.3,1563.1 832.2,1560.9 833.1,1560.8 834,1564 834.8,1558.9 835.7,1555.7 836.6,1562.6 837.5,1559.8 838.4,1561.9 839.3,1558.6 840.2,1559.3 841.1,1559.1 842,1558.2 842.9,1560.1 843.8,1560.2 844.7,1563.2 845.6,1575.2 846.4,1560.2 847.3,1556.1 848.2,1564 849.1,1556.5 850,1557.3 850.9,1559 851.8,1560.2 852.7,1560.1 853.6,1560.7 854.5,1559.3 855.4,1564 856.3,1563.1 857.1,1557.8 858,1559.1 858.9,1554.7 859.8,1562.3 860.7,1558.8 861.6,1566.7 862.5,1556.7 863.4,1565 864.3,1555.6 865.2,1552.7 866.1,1556 867,1560.8 867.9,1563.7 868.7,1556.6 869.6,1563.8 870.5,1558.1 871.4,1558.1 872.3,1558.6 873.2,1565.7 874.1,1559.6 875,1559.4 875.9,1551.9 876.8,1557.7 877.7,1557.5 878.6,1562.2 879.4,1552.4 880.3,1552.8 881.2,1551.9 882.1,1553.1 883,1558.3 883.9,1553 884.8,1561.2 885.7,1556.8 886.6,1553.6 887.5,1554.8 888.4,1552.3 889.3,1552.2 890.2,1562.3 891,1561.3 891.9,1554.4 892.8,1556.5 893.7,1564.5 894.6,1555.8 895.5,1559.6 896.4,1560.9 897.3,1558.5 898.2,1558.7 899.1,1558.3 900,1560 900.9,1553.6 901.7,1559.5 902.6,1559.8 903.5,1553.7 904.4,1560.1 905.3,1554.4 906.2,1547.7 907.1,1550 908,1557.7 908.9,1559.5 909.8,1555.9 910.7,1552.3 911.6,1557.6 912.5,1562.3 913.3,1559.1 914.2,1554.3 915.1,1562.1 916,1560 916.9,1560.5 917.8,1561.7 918.7,1563.8 919.6,1561.4 920.5,1558.3 921.4,1561.6 922.3,1562.6 923.2,1566.7 924,1557.6 924.9,1561.8 925.8,1558.9 926.7,1563.1 927.6,1559.7 928.5,1549.6 929.4,1564.3 930.3,1557.5 931.2,1555.1 932.1,1552.7 933,1553.7 933.9,1552.3 934.8,1556.4 935.6,1557.4 936.5,1556.7 937.4,1558.8 938.3,1554.9 939.2,1561.2 940.1,1559.4 941,1562.3 941.9,1563.8 942.8,1560.8 943.7,1567.4 944.6,1566.1 945.5,1561.6 946.3,1569.7 947.2,1569 948.1,1556.4 949,1553.1 949.9,1558.8 950.8,1562.4 951.7,1563.8 952.6,1562.4 953.5,1559.7 954.4,1563.4 955.3,1562.5 956.2,1558.2 957.1,1560.7 957.9,1564.3 958.8,1558 959.7,1558.1 960.6,1557.5 961.5,1566.4 962.4,1563.5 963.3,1564.4 964.2,1560 965.1,1561.7 966,1566.9 966.9,1561.8 967.8,1568 968.6,1564 969.5,1564.7 970.4,1567.5 971.3,1569.2 972.2,1573.1 973.1,1565.4 974,1573.3 974.9,1563.9 975.8,1563.4 976.7,1557.9 977.6,1569.4 978.5,1571.5 979.4,1561 980.2,1564.1 981.1,1564.2 982,1559.1 982.9,1565.3 983.8,1566.3 984.7,1563.3 985.6,1561.5 986.5,1566.1 987.4,1568.1 988.3,1560.5 989.2,1565.7 990.1,1568.3 990.9,1555.3 991.8,1567.2 992.7,1572.4 993.6,1560.6 994.5,1570.2 995.4,1563.5 996.3,1566.5 997.2,1562.9 998.1,1558.4 999,1555.5 999.9,1570.9 1000.8,1555.8 1001.7,1559.5 1002.5,1565.8 1003.4,1561.1 1004.3,1560.3 1005.2,1551.4 1006.1,1556.6 1007,1553.4 1007.9,1551 1008.8,1558.9 1009.7,1559.7 1010.6,1552 1011.5,1550.9 1012.4,1553.3 1013.2,1552.9 1014.1,1542.5 1015,1548.8 1015.9,1544.8 1016.8,1537.8 1017.7,1529.9 1018.6,1533.8 1019.5,1531.3 1020.4,1533.1 1021.3,1520.9 1022.2,1528.4 1023.1,1519 1024,1522.2 1024.8,1519.6 1025.7,1521.1 1026.6,1528.2 1027.5,1520.7 1028.4,1529.1 1029.3,1526.7 1030.2,1530.1 1031.1,1529.7 1032,1535.9 1032.9,1529.1 1033.8,1538.4 1034.7,1545.5 1035.5,1546.5 1036.4,1537.8 1037.3,1541 1038.2,1544.7 1039.1,1554.6 1040,1545.9 1040.9,1548 1041.8,1547.5 1042.7,1550.2 1043.6,1545.8 1044.5,1551.1 1045.4,1552.6 1046.3,1555.6 1047.1,1548.8 1048,1556.7 1048.9,1561.7 1049.8,1558.1 1050.7,1558.7 1051.6,1547.4 1052.5,1563.1 1053.4,1566.3 1054.3,1564.4 1055.2,1562.4 1056.1,1564.4 1057,1573.4 1057.8,1559.5 1058.7,1561.1 1059.6,1567.2 1060.5,1564.1 1061.4,1554.8 1062.3,1564.1 1063.2,1564.5 1064.1,1559.5 1065,1564.5 1065.9,1563.9 1066.8,1555.9 1067.7,1564.9 1068.6,1571.2 1069.4,1569.6 1070.3,1558.4 1071.2,1557.6 1072.1,1563 1073,1563.8 1073.9,1557.6 1074.8,1560 1075.7,1568.3 1076.6,1564.1 1077.5,1567.3 1078.4,1563.3 1079.3,1567.5 1080.1,1561.7 1081,1561.8 1081.9,1560.3 1082.8,1556.6 1083.7,1562.6 1084.6,1559 1085.5,1562.6 1086.4,1565 1087.3,1565.2 1088.2,1566.1 1089.1,1563 1090,1564.2 1090.9,1568.7 1091.7,1563.3 1092.6,1563.6 1093.5,1553.7 1094.4,1558.5 1095.3,1566.7 1096.2,1558.9 1097.1,1558 1098,1565.9 1098.9,1557.5 1099.8,1566.2 1100.7,1562.2 1101.6,1560.4 1102.4,1555.1 1103.3,1568.2 1104.2,1556.2 1105.1,1558.5 1106,1566.2 1106.9,1558.3 1107.8,1565 1108.7,1562.7 1109.6,1561.6 1110.5,1558.4 1111.4,1559.8 1112.3,1563.2 1113.2,1558.1 1114,1564.2 1114.9,1562.7 1115.8,1563.9 1116.7,1562.8 1117.6,1564.4 1118.5,1564.1 1119.4,1566.3 1120.3,1565.1 1121.2,1565.4 1122.1,1561.1 1123,1558.5 1123.9,1565.7 1124.7,1569.4 1125.6,1562.3 1126.5,1559.9 1127.4,1563.9 1128.3,1567.3 1129.2,1569.1 1130.1,1564.3 1131,1560.7 1131.9,1564.7 1132.8,1567.1 1133.7,1563.8 1134.6,1567.4 1135.5,1561.1 1136.3,1565.9 1137.2,1568.4 1138.1,1557.9 1139,1558.2 1139.9,1563.9 1140.8,1573.4 1141.7,1563.4 1142.6,1561.6 1143.5,1566.9 1144.4,1561.7 1145.3,1556.2 1146.2,1559 1147,1568.1 1147.9,1556.7 1148.8,1557.9 1149.7,1566.6 1150.6,1564.1 1151.5,1568.2 1152.4,1559.4 1153.3,1560.5 1154.2,1561.7 1155.1,1558 1156,1561.4 1156.9,1561.2 1157.8,1564.6 1158.6,1560.4 1159.5,1558.6 1160.4,1561.5 1161.3,1563.4 1162.2,1562.7 1163.1,1559.4 1164,1556.6 1164.9,1556 1165.8,1552.6 1166.7,1557.8 1167.6,1557.4 1168.5,1563.8 1169.3,1558.3 1170.2,1560.4 1171.1,1562.6 1172,1550.5 1172.9,1555.3 1173.8,1557 1174.7,1558.4 1175.6,1553.7 1176.5,1561.4 1177.4,1561.5 1178.3,1559.8 1179.2,1560.3 1180.1,1553.2 1180.9,1561.5 1181.8,1554.5 1182.7,1549.5 1183.6,1557.1 1184.5,1558.3 1185.4,1554.2 1186.3,1550.8 1187.2,1553.1 1188.1,1557.3 1189,1548.5 1189.9,1562.6 1190.8,1562.7 1191.6,1558.4 1192.5,1563.2 1193.4,1558.5 1194.3,1554.6 1195.2,1561.3 1196.1,1560.8 1197,1555 1197.9,1553 1198.8,1554.7 1199.7,1563 1200.6,1557.6 1201.5,1569.8 1202.4,1556.9 1203.2,1562.1 1204.1,1561.5 1205,1559.8 1205.9,1564.3 1206.8,1558.1 1207.7,1561.6 1208.6,1557.6 1209.5,1554 1210.4,1562.8 1211.3,1558.4 1212.2,1558 1213.1,1565.3 1213.9,1562.6 1214.8,1564.8 1215.7,1570 1216.6,1564.1 1217.5,1565.1 1218.4,1558.8 1219.3,1566.7 1220.2,1566.8 1221.1,1559.5 1222,1566 1222.9,1564.7 1223.8,1562.6 1224.7,1563.6 1225.5,1572.4 1226.4,1560.5 1227.3,1561.5 1228.2,1563.2 1229.1,1562.1 1230,1556 1230.9,1565.8 1231.8,1567.3 1232.7,1570.9 1233.6,1562.6 1234.5,1560.5 1235.4,1568.3 1236.2,1562.3 1237.1,1566.7 1238,1565.6 1238.9,1568.2 1239.8,1566.1 1240.7,1570.9 1241.6,1565.1 1242.5,1578.1 1243.4,1572.2 1244.3,1567 1245.2,1565.8 1246.1,1568.8 1247,1567.7 1247.8,1566.1 1248.7,1574.4 1249.6,1572.6 1250.5,1564.4 1251.4,1570.5 1252.3,1568.3 1253.2,1571.1 1254.1,1565.5 1255,1576.3 1255.9,1568.4 1256.8,1575.8 1257.7,1566.3 1258.5,1573.3 1259.4,1567.6 1260.3,1574.3 1261.2,1567.1 1262.1,1563.6 1263,1563.4 1263.9,1565 1264.8,1569.6 1265.7,1568.5 1266.6,1567.3 1267.5,1570.7 1268.4,1572.7 1269.3,1562.2 1270.1,1569.7 1271,1574.5 1271.9,1562.9 1272.8,1562.8 1273.7,1566.2 1274.6,1565.2 1275.5,1561.9 1276.4,1563.2 1277.3,1569.3 1278.2,1566.1 1279.1,1558.9 1280,1554.9 1280.8,1556.6 1281.7,1561 1282.6,1556.7 1283.5,1556 1284.4,1561.6 1285.3,1557.3 1286.2,1556.6 1287.1,1558.8 1288,1563.5 1288.9,1559.2 1289.8,1561 1290.7,1559.1 1291.6,1565.3 1292.4,1555.2 1293.3,1556.3 1294.2,1559.3 1295.1,1569.8 1296,1568.5 1296.9,1558.7 1297.8,1561.6 1298.7,1565.8 1299.6,1564.1 1300.5,1567.4 1301.4,1562.1 1302.3,1557.6 1303.1,1566.2 1304,1568.5 1304.9,1557.5 1305.8,1555.8 1306.7,1560.8 1307.6,1554.8 1308.5,1563 1309.4,1556.2 1310.3,1562.8 1311.2,1558 1312.1,1559.3 1313,1561 1313.9,1557.5 1314.7,1554.3 1315.6,1561.8 1316.5,1552.8 1317.4,1564.2 1318.3,1556.7 1319.2,1557.3 1320.1,1561.2 1321,1561.5 1321.9,1562.1 1322.8,1554.5 1323.7,1556.8 1324.6,1561.4 1325.4,1561.3 1326.3,1559.2 1327.2,1564.2 1328.1,1558 1329,1561.8 1329.9,1561.8 1330.8,1558.4 1331.7,1555.9 1332.6,1559.1 1333.5,1557.6 1334.4,1558 1335.3,1552.1 1336.2,1557.2 1337,1561.6 1337.9,1554.4 1338.8,1556.2 1339.7,1554.8 1340.6,1559.4 1341.5,1548.1 1342.4,1562.5 1343.3,1558.5 1344.2,1555.9 1345.1,1558 1346,1561.5 1346.9,1558.7 1347.7,1559.9 1348.6,1562 1349.5,1558 1350.4,1560.1 1351.3,1562.9 1352.2,1559.3 1353.1,1554.6 1354,1560.2 1354.9,1565.3 1355.8,1556.3 1356.7,1559.7 1357.6,1559.9 1358.5,1562 1359.3,1557.3 1360.2,1559.2 1361.1,1567.1 1362,1562.3 1362.9,1557.3 1363.8,1562.7 1364.7,1559.7 1365.6,1565.2 1366.5,1552.5 1367.4,1558.8 1368.3,1561.8 1369.2,1552.6 1370,1554.2 1370.9,1558.7 1371.8,1556.6 1372.7,1555 1373.6,1557.1 1374.5,1550.1 1375.4,1552 1376.3,1561.9 1377.2,1552.1 1378.1,1556 1379,1553.5 1379.9,1556.5 1380.8,1553.6 1381.6,1553.1 1382.5,1555.2 1383.4,1550.8 1384.3,1541.4 1385.2,1544.4 1386.1,1551.6 1387,1548.7 1387.9,1541.9 1388.8,1534.9 1389.7,1537.2 1390.6,1547.7 1391.5,1543.1 1392.3,1542.5 1393.2,1530.4 1394.1,1531.4 1395,1534.9 1395.9,1532.4 1396.8,1539.4 1397.7,1535.5 1398.6,1543.3 1399.5,1541.8 1400.4,1541.9 1401.3,1548.3 1402.2,1548.9 1403.1,1548.8 1403.9,1547.9 1404.8,1550.1 1405.7,1543.2 1406.6,1543.7 1407.5,1549.2 1408.4,1552.8 1409.3,1559.5 1410.2,1554.2 1411.1,1548.8 1412,1551 1412.9,1548.2 1413.8,1553.3 1414.6,1553.5 1415.5,1554.1 1416.4,1555.7 1417.3,1559 1418.2,1558 1419.1,1551 1420,1559 1420.9,1551.9 1421.8,1557.4 1422.7,1556.4 1423.6,1562.7 1424.5,1555.9 1425.4,1556.1 1426.2,1555.7 1427.1,1560.3 1428,1558.4 1428.9,1556.3 1429.8,1560.7 1430.7,1565.7 1431.6,1563.9 1432.5,1563.4 1433.4,1555.4 1434.3,1557.1 1435.2,1558 1436.1,1550.7 1436.9,1563.9 1437.8,1551.7 1438.7,1558.8 1439.6,1552.6 1440.5,1558 1441.4,1560.9 1442.3,1559.9 1443.2,1554.9 1444.1,1556.1 1445,1562.6 1445.9,1559.1 1446.8,1560.2 1447.7,1563.7 1448.5,1550.7 1449.4,1561.5 1450.3,1565.5 1451.2,1567.5 1452.1,1563.1 1453,1557.4 1453.9,1563.6 1454.8,1566.7 1455.7,1556.6 1456.6,1555.8 1457.5,1557.6 1458.4,1556.1 1459.2,1549.4 1460.1,1547.7 1461,1551.5 1461.9,1554 1462.8,1558 1463.7,1554.4 1464.6,1557.4 1465.5,1562.4 1466.4,1569.2 1467.3,1561.5 1468.2,1554.9 1469.1,1563.1 1470,1559.7 1470.8,1561.4 1471.7,1564.1 1472.6,1563.5 1473.5,1555.4 1474.4,1556 1475.3,1561.3 1476.2,1562.6 1477.1,1567.6 1478,1561.2 1478.9,1556.9 1479.8,1555.8 1480.7,1554.4 1481.5,1551.7 1482.4,1551.4 1483.3,1554.1 1484.2,1556.6 1485.1,1553.4 1486,1556.7 1486.9,1555.9 1487.8,1556.5 1488.7,1556.1 1489.6,1559.4 1490.5,1558.7 1491.4,1548.4 1492.3,1560.1 1493.1,1559.4 1494,1556.3 1494.9,1558.9 1495.8,1554.8 1496.7,1557.2 1497.6,1552.2 1498.5,1557.4 1499.4,1554.9 1500.3,1546.3 1501.2,1548 1502.1,1552.2 1503,1549.4 1503.8,1546.6 1504.7,1539.4 1505.6,1539.1 1506.5,1540.1 1507.4,1537.9 1508.3,1533.6 1509.2,1526.8 1510.1,1525.8 1511,1520.8 1511.9,1514 1512.8,1510.1 1513.7,1507.2 1514.6,1500.1 1515.4,1504.9 1516.3,1502.9 1517.2,1500.6 1518.1,1491.1 1519,1489.8 1519.9,1493.7 1520.8,1490.8 1521.7,1492.5 1522.6,1494.3 1523.5,1491 1524.4,1506.7 1525.3,1498.3 1526.1,1501.5 1527,1515.8 1527.9,1511.8 1528.8,1525.2 1529.7,1526.2 1530.6,1530.2 1531.5,1530.9 1532.4,1530.1 1533.3,1534.3 1534.2,1542.7 1535.1,1544.7 1536,1542.8 1536.9,1545.6 1537.7,1548.9 1538.6,1554.2 1539.5,1558 1540.4,1561.4 1541.3,1557.5 1542.2,1565.7 1543.1,1563.6 1544,1567.1 1544.9,1558.1 1545.8,1564.2 1546.7,1566.4 1547.6,1555.3 1548.4,1566.2 1549.3,1564.4 1550.2,1566.7 1551.1,1564.1 1552,1568.2 1552.9,1562.4 1553.8,1562.4 1554.7,1567.5 1555.6,1567.7 1556.5,1559.9 1557.4,1570 1558.3,1570.1 1559.2,1569.7 1560,1563.1 1560.9,1570.9 1561.8,1568.2 1562.7,1569.8 1563.6,1566 1564.5,1564.3 1565.4,1563 1566.3,1562.9 1567.2,1568.1 1568.1,1561 1569,1560.9 1569.9,1563.8 1570.7,1560.9 1571.6,1553.5 1572.5,1558.5 1573.4,1559.4 1574.3,1566.9 1575.2,1563.4 1576.1,1557.3 1577,1557.1 1577.9,1559.8 1578.8,1562.6 1579.7,1558.9 1580.6,1563.7 1581.5,1556.7 1582.3,1563.4 1583.2,1566.7 1584.1,1552.2 1585,1562.3 1585.9,1563.6 1586.8,1564.5 1587.7,1563.4 1588.6,1563 1589.5,1564.6 1590.4,1564.2 1591.3,1564.3 1592.2,1570.1 1593,1568.1 1593.9,1567.7 1594.8,1561.8 1595.7,1562.3 1596.6,1568 1597.5,1559.8 1598.4,1567.5 1599.3,1558.3 1600.2,1571.3 1601.1,1567.9 1602,1561.1 1602.9,1561.4 1603.8,1555.5 1604.6,1563.2 1605.5,1568 1606.4,1566 1607.3,1562.8 1608.2,1571.6 1609.1,1566 1610,1565.5 1610.9,1562.8 1611.8,1566.1 1612.7,1573.8 1613.6,1565.7 1614.5,1557.8 1615.3,1565 1616.2,1571.6 1617.1,1569 1618,1562.8 1618.9,1566.1 1619.8,1559.2 1620.7,1567.2 1621.6,1561.2 1622.5,1562.1 1623.4,1561.6 1624.3,1560.5 1625.2,1569.1 1626.1,1567.8 1626.9,1560.6 1627.8,1561.6 1628.7,1567.3 1629.6,1559.5 1630.5,1558.7 1631.4,1557 1632.3,1565.9 1633.2,1560.5 1634.1,1559.8 1635,1558.1 1635.9,1556.3 1636.8,1563.4 1637.6,1557.1 1638.5,1558.3 1639.4,1554.2 1640.3,1556.8 1641.2,1559.5 1642.1,1559.9 1643,1556.3 1643.9,1559.9 1644.8,1561.7 1645.7,1552 1646.6,1563.9 1647.5,1560.2 1648.4,1555.6 1649.2,1559.1 1650.1,1561.3 1651,1559.1 1651.9,1558.8 1652.8,1558.3 1653.7,1560.4 1654.6,1552.5 1655.5,1555.2 1656.4,1558.6 1657.3,1557 1658.2,1552.5 1659.1,1555 1659.9,1552.9 1660.8,1555.1 1661.7,1548 1662.6,1547.4 1663.5,1547.4 1664.4,1551.7 1665.3,1561.1 1666.2,1554.8 1667.1,1555.3 1668,1550.3 1668.9,1556.2 1669.8,1551.3 1670.7,1550.2 1671.5,1554.1 1672.4,1545.4 1673.3,1541.7 1674.2,1545.6 1675.1,1555.7 1676,1553.8 1676.9,1551.2 1677.8,1549.7 1678.7,1550.1 1679.6,1552.4 1680.5,1547.7 1681.4,1554.2 1682.2,1547.4 1683.1,1556.4 1684,1549.6 1684.9,1547 1685.8,1548.9 1686.7,1545.7 1687.6,1547.9 1688.5,1540.4 1689.4,1544.5 1690.3,1545.8 1691.2,1546 1692.1,1542.1 1693,1547.7 1693.8,1535.4 1694.7,1540.5 1695.6,1538.6 1696.5,1539.5 1697.4,1537.3 1698.3,1542.5 1699.2,1535.1 1700.1,1529.3 1701,1540.8 1701.9,1528.2 1702.8,1524.5 1703.7,1525.8 1704.5,1516.5 1705.4,1514.8 1706.3,1516 1707.2,1503.8 1708.1,1503.3 1709,1505.3 1709.9,1504.8 1710.8,1492.4 1711.7,1487.6 1712.6,1487.9 1713.5,1471.7 1714.4,1470.1 1715.3,1464.8 1716.1,1454.9 1717,1447.5 1717.9,1455.9 1718.8,1460.1 1719.7,1458.4 1720.6,1461.4 1721.5,1444.9 1722.4,1458.7 1723.3,1468.2 1724.2,1462 1725.1,1464.3 1726,1476.1 1726.8,1479.4 1727.7,1487.1 1728.6,1489.3 1729.5,1499.7 1730.4,1502.2 1731.3,1505 1732.2,1506.8 1733.1,1515.6 1734,1513.8 1734.9,1524.2 1735.8,1528.4 1736.7,1530.6 1737.6,1524.2 1738.4,1533.8 1739.3,1535.7 1740.2,1539.7 1741.1,1531.5 1742,1536.8 1742.9,1540.1 1743.8,1546.9 1744.7,1539.7 1745.6,1546.2 1746.5,1543.6 1747.4,1551.1 1748.3,1544.9 1749.1,1537.5 1750,1542.9 1750.9,1545.2 1751.8,1549.3 1752.7,1547.1 1753.6,1543.5 1754.5,1539.7 1755.4,1545 1756.3,1544.6 1757.2,1550.5 1758.1,1549.2 1759,1540.4 1759.9,1537.2 1760.7,1545.1 1761.6,1548.3 1762.5,1543.9 1763.4,1546.2 1764.3,1553.3 1765.2,1551.9 1766.1,1542.5 1767,1550.8 1767.9,1550.1 1768.8,1548.6 1769.7,1551.5 1770.6,1551.4 1771.4,1558.5 1772.3,1549.5 1773.2,1545.6 1774.1,1546.2 1775,1550.8 1775.9,1555.4 1776.8,1550.2 1777.7,1550 1778.6,1549.2 1779.5,1546.7 1780.4,1549.1 1781.3,1544.6 1782.2,1552.6 1783,1551.9 1783.9,1551.1 1784.8,1547.4 1785.7,1549.8 1786.6,1548.6 1787.5,1551.8 1788.4,1549.4 1789.3,1551.7 1790.2,1553.6 1791.1,1554.8 1792,1545.9 1792.9,1548.6 1793.7,1545.8 1794.6,1554.9 1795.5,1547.1 1796.4,1555.7 1797.3,1548.8 1798.2,1554.9 1799.1,1549 1800,1550.3 1800.9,1551.7 1801.8,1551.5 1802.7,1550.6 1803.6,1553.7 1804.5,1555.7 1805.3,1554.3 1806.2,1549.2 1807.1,1543.9 1808,1551.4 1808.9,1540.2 1809.8,1553.6 1810.7,1553.5 1811.6,1546.7 1812.5,1553.7 1813.4,1549.2 1814.3,1556.9 1815.2,1549.6 1816,1549.8 1816.9,1550.9 1817.8,1554.8 1818.7,1550.4 1819.6,1563.5 1820.5,1553.9 1821.4,1562.5 1822.3,1555.1 1823.2,1555.3 1824.1,1554.1 1825,1554 1825.9,1558.6 1826.8,1561.4 1827.6,1557.1 1828.5,1553.1 1829.4,1557 1830.3,1552.9 1831.2,1545.5 1832.1,1556 1833,1548.9 1833.9,1553.3 1834.8,1556.2 1835.7,1554.9 1836.6,1555.8 1837.5,1563.1 1838.3,1561.3 1839.2,1563.7 1840.1,1558.9 1841,1558.9 1841.9,1564.6 1842.8,1555.3 1843.7,1558.5 1844.6,1557.3 1845.5,1557.5 1846.4,1558.3 1847.3,1556.1 1848.2,1558.5 1849.1,1552 1849.9,1557.1 1850.8,1551.3 1851.7,1559.5 1852.6,1559.4 1853.5,1555.2 1854.4,1554.3 1855.3,1556.5 1856.2,1559 1857.1,1551.5 1858,1553.7 1858.9,1561.2 1859.8,1557 1860.6,1553.1 1861.5,1549.7 1862.4,1556.5 1863.3,1551.7 1864.2,1558.8 1865.1,1558.1 1866,1565.4 1866.9,1553.8 1867.8,1561 1868.7,1554.3 1869.6,1555.1 1870.5,1558.6 1871.4,1556.6 1872.2,1567.1 1873.1,1560.6 1874,1558.5 1874.9,1570.5 1875.8,1559.3 1876.7,1561.2 1877.6,1562 1878.5,1560.1 1879.4,1565.3 1880.3,1567.5 1881.2,1558.2 1882.1,1561.2 1882.9,1561.6 1883.8,1557.8 1884.7,1558.1 1885.6,1561.7 1886.5,1559.8 1887.4,1564.4 1888.3,1566.4 1889.2,1564.1 1890.1,1564.5 1891,1560.2 1891.9,1561.6 1892.8,1565.6 1893.7,1566.5 1894.5,1564.2 1895.4,1566.8 1896.3,1563.9 1897.2,1560.4 1898.1,1565.8 1899,1562.8 1899.9,1557.7 1900.8,1566.8 1901.7,1564.6 1902.6,1565.3 1903.5,1560.2 1904.4,1566.9 1905.2,1562.6 1906.1,1563.9 1907,1557.3 1907.9,1558.2 1908.8,1563.8 1909.7,1558.7 1910.6,1558.8 1911.5,1564.2 1912.4,1562.9 1913.3,1559.5 1914.2,1565.8 1915.1,1553.3 1916,1558.6 1916.8,1556.9 1917.7,1564.4 1918.6,1564.8 1919.5,1557.2 1920.4,1559.5 1921.3,1562.4 1922.2,1560.8 1923.1,1559.8 1924,1562.5 1924.9,1566.1 1925.8,1559.5 1926.7,1555.2 1927.5,1559.2 1928.4,1559.9 1929.3,1559.1 1930.2,1563.5 1931.1,1564.1 1932,1565.1 1932.9,1563.7 1933.8,1563 1934.7,1558.2 1935.6,1560.6 1936.5,1558.4 1937.4,1562.4 1938.3,1560.4 1939.1,1560.4 1940,1562.2 1940.9,1559 1941.8,1563.9 1942.7,1563.4 1943.6,1555.6 1962,1560 1964,1546"/>
<polyline class="c" points="193.5,1561.2 195.3,1561.2 197.1,1561.3 198.9,1561.3 200.6,1561.4 202.4,1561.4 204.2,1561.5 206,1561.5 207.8,1561.6 209.6,1561.6 211.3,1561.7 213.1,1561.7 214.9,1561.8 216.7,1561.8 218.5,1561.9 220.3,1561.9 222,1562 223.8,1562 225.6,1562.1 227.4,1562.1 229.2,1562.2 231,1562.2 232.7,1562.3 234.5,1562.3 236.3,1562.4 238.1,1562.4 239.9,1562.5 241.7,1562.5 243.5,1562.6 245.2,1562.6 247,1562.7 248.8,1562.7 250.6,1562.8 252.4,1562.8 254.2,1562.9 255.9,1562.9 257.7,1563 259.5,1563 261.3,1563.1 263.1,1563.1 264.9,1563.2 266.6,1563.2 268.4,1563.3 270.2,1563.3 272,1563.3 273.8,1563.4 275.6,1563.4 277.3,1563.5 279.1,1563.5 280.9,1563.6 282.7,1563.6 284.5,1563.6 286.3,1563.7 288.1,1563.7 289.8,1563.7 291.6,1563.7 293.4,1563.7 295.2,1563.7 297,1563.7 298.8,1563.7 300.5,1563.7 302.3,1563.7 304.1,1563.7 305.9,1563.8 307.7,1563.8 309.5,1563.8 311.2,1563.8 313,1563.8 314.8,1563.8 316.6,1563.8 318.4,1563.8 320.2,1563.8 321.9,1563.8 323.7,1563.8 325.5,1563.8 327.3,1563.9 329.1,1563.9 330.9,1563.9 332.7,1563.9 334.4,1563.9 336.2,1563.9 338,1563.9 339.8,1563.9 341.6,1563.9 343.4,1563.9 345.1,1563.9 346.9,1563.9 348.7,1564 350.5,1564 352.3,1564 354.1,1564 355.8,1564 357.6,1564 359.4,1564 361.2,1564 363,1564 364.8,1564 366.5,1564 368.3,1564 370.1,1564 371.9,1564 373.7,1564.1 375.5,1564.1 377.3,1564.1 379,1564.2 380.8,1564.2 382.6,1564.2 384.4,1564.3 386.2,1564.3 388,1564.3 389.7,1564.4 391.5,1564.4 393.3,1564.4 395.1,1564.5 396.9,1564.5 398.7,1564.5 400.4,1564.6 402.2,1564.6 404,1564.6 405.8,1564.7 407.6,1564.7 409.4,1564.7 411.1,1564.7 412.9,1564.8 414.7,1564.8 416.5,1564.8 418.3,1564.9 420.1,1564.9 421.9,1564.9 423.6,1564.9 425.4,1565 427.2,1565 429,1565 430.8,1565.1 432.6,1565.1 434.3,1565.1 436.1,1565.1 437.9,1565.2 439.7,1565.2 441.5,1565.2 443.3,1565.2 445,1565.3 446.8,1565.3 448.6,1565.3 450.4,1565.3 452.2,1565.4 454,1565.4 455.7,1565.4 457.5,1565.4 459.3,1565.4 461.1,1565.5 462.9,1565.3 464.7,1565.1 466.5,1565 468.2,1564.8 470,1564.6 471.8,1564.5 473.6,1564.3 475.4,1564.1 477.2,1563.9 478.9,1563.8 480.7,1563.6 482.5,1563.4 484.3,1563.2 486.1,1563 487.9,1562.9 489.6,1562.7 491.4,1562.5 493.2,1562.3 495,1562.1 496.8,1561.9 498.6,1561.7 500.3,1561.4 502.1,1561.2 503.9,1561 505.7,1560.7 507.5,1560.5 509.3,1560.2 511.1,1560 512.8,1559.7 514.6,1559.4 516.4,1559.1 518.2,1558.7 520,1558.4 521.8,1558 523.5,1557.5 525.3,1557.1 527.1,1556.5 528.9,1555.9 530.7,1555.2 532.5,1554.5 534.2,1553.5 536,1552.4 537.8,1551.1 539.6,1549.4 541.4,1547.4 543.2,1544.9 544.9,1541.8 546.7,1538 548.5,1533.5 550.3,1528.3 552.1,1523 553.9,1518 555.7,1514.5 557.4,1513.4 559.2,1514.9 561,1518.7 562.8,1523.7 564.6,1529 566.4,1533.9 568.1,1538.1 569.9,1541.7 571.7,1544.5 573.5,1546.8 575.3,1548.7 577.1,1550.1 578.8,1551.3 580.6,1552.2 582.4,1552.9 584.2,1553.6 586,1554.1 587.8,1554.5 589.5,1554.9 591.3,1555.2 593.1,1555.5 594.9,1555.7 596.7,1555.9 598.5,1556.1 600.3,1556.2 602,1556.4 603.8,1556.5 605.6,1556.6 607.4,1556.7 609.2,1556.8 611,1556.8 612.7,1556.9 614.5,1557 616.3,1557 618.1,1557.1 619.9,1557.1 621.7,1557.1 623.4,1557.2 625.2,1557.2 627,1557.2 628.8,1557.2 630.6,1557.2 632.4,1557.3 634.1,1557.3 635.9,1557.3 637.7,1557.3 639.5,1557.3 641.3,1557.3 643.1,1557.3 644.9,1557.4 646.6,1557.4 648.4,1557.4 650.2,1557.5 652,1557.5 653.8,1557.5 655.6,1557.5 657.3,1557.5 659.1,1557.5 660.9,1557.5 662.7,1557.5 664.5,1557.5 666.3,1557.5 668,1557.5 669.8,1557.5 671.6,1557.5 673.4,1557.4 675.2,1557.4 677,1557.4 678.7,1557.3 680.5,1557.2 682.3,1557.2 684.1,1557.1 685.9,1557 687.7,1556.9 689.5,1556.8 691.2,1556.6 693,1556.5 694.8,1556.3 696.6,1556.1 698.4,1555.9 700.2,1555.6 701.9,1555.4 703.7,1555 705.5,1554.7 707.3,1554.2 709.1,1553.8 710.9,1553.2 712.6,1552.6 714.4,1551.8 716.2,1551 718,1550 719.8,1548.8 721.6,1547.4 723.3,1545.7 725.1,1543.6 726.9,1541.1 728.7,1537.9 730.5,1533.9 732.3,1528.8 734.1,1522.1 735.8,1513.4 737.6,1502.1 739.4,1487.8 741.2,1469.9 743,1448.9 744.8,1426.5 746.5,1406.4 748.3,1394.1 750.1,1393.5 751.9,1404.6 753.7,1423.5 755.5,1445.6 757.2,1466.7 759,1485 760.8,1500 762.6,1511.7 764.4,1520.9 766.2,1527.9 767.9,1533.3 769.7,1537.5 771.5,1540.8 773.3,1543.4 775.1,1545.5 776.9,1547.2 778.7,1548.6 780.4,1549.7 782.2,1550.6 784,1551.3 785.8,1551.8 787.6,1552.1 789.4,1552.2 791.1,1552.1 792.9,1551.7 794.7,1550.9 796.5,1549.8 798.3,1548.3 800.1,1546.4 801.8,1544.3 803.6,1542.2 805.4,1540.8 807.2,1540.5 809,1541.5 810.8,1543.6 812.5,1546.1 814.3,1548.7 816.1,1551.1 817.9,1553 819.7,1554.6 821.5,1555.9 823.3,1556.9 825,1557.7 826.8,1558.4 828.6,1558.9 830.4,1559.4 832.2,1559.7 834,1560 835.7,1560.3 837.5,1560.5 839.3,1560.8 841.1,1560.9 842.9,1561.1 844.7,1561.3 846.4,1561.4 848.2,1561.5 850,1561.7 851.8,1561.8 853.6,1561.9 855.4,1562 857.1,1562.1 858.9,1562.1 860.7,1562.2 862.5,1562.3 864.3,1562.4 866.1,1562.4 867.9,1562.5 869.6,1562.6 871.4,1562.6 873.2,1562.7 875,1562.7 876.8,1562.8 878.6,1562.8 880.3,1562.9 882.1,1562.9 883.9,1563 885.7,1563 887.5,1563.1 889.3,1563.1 891,1563.2 892.8,1563.2 894.6,1563.2 896.4,1563.3 898.2,1563.3 900,1563.3 901.7,1563.4 903.5,1563.4 905.3,1563.4 907.1,1563.5 908.9,1563.5 910.7,1563.5 912.5,1563.6 914.2,1563.6 916,1563.6 917.8,1563.6 919.6,1563.7 921.4,1563.7 923.2,1563.7 924.9,1563.7 926.7,1563.8 928.5,1563.8 930.3,1563.8 932.1,1563.8 933.9,1563.9 935.6,1563.9 937.4,1563.9 939.2,1563.9 941,1563.9 942.8,1563.9 944.6,1563.9 946.3,1564 948.1,1564 949.9,1564 951.7,1564 953.5,1564 955.3,1564 957.1,1564 958.8,1564 960.6,1564 962.4,1564 964.2,1563.9 966,1563.9 967.8,1563.9 969.5,1563.9 971.3,1563.9 973.1,1563.8 974.9,1563.8 976.7,1563.7 978.5,1563.7 980.2,1563.6 982,1563.5 983.8,1563.4 985.6,1563.3 987.4,1563.2 989.2,1563 990.9,1562.8 992.7,1562.6 994.5,1562.3 996.3,1562 998.1,1561.6 999.9,1561 1001.7,1560.4 1003.4,1559.6 1005.2,1558.6 1007,1557.4 1008.8,1555.8 1010.6,1553.9 1012.4,1551.4 1014.1,1548.3 1015.9,1544.6 1017.7,1540.3 1019.5,1535.7 1021.3,1531.7 1023.1,1529 1024.8,1528.4 1026.6,1529.9 1028.4,1533.1 1030.2,1537.2 1032,1541.5 1033.8,1545.4 1035.5,1548.8 1037.3,1551.5 1039.1,1553.7 1040.9,1555.3 1042.7,1556.7 1044.5,1557.7 1046.3,1558.5 1048,1559.1 1049.8,1559.6 1051.6,1560 1053.4,1560.3 1055.2,1560.6 1057,1560.8 1058.7,1560.9 1060.5,1561.1 1062.3,1561.2 1064.1,1561.3 1065.9,1561.4 1067.7,1561.4 1069.4,1561.5 1071.2,1561.5 1073,1561.5 1074.8,1561.6 1076.6,1561.6 1078.4,1561.6 1080.1,1561.6 1081.9,1561.6 1083.7,1561.5 1085.5,1561.5 1087.3,1561.5 1089.1,1561.5 1090.9,1561.5 1092.6,1561.5 1094.4,1561.5 1096.2,1561.4 1098,1561.4 1099.8,1561.4 1101.6,1561.4 1103.3,1561.3 1105.1,1561.3 1106.9,1561.3 1108.7,1561.2 1110.5,1561.2 1112.3,1561.2 1114,1561.1 1115.8,1561.1 1117.6,1561.1 1119.4,1561 1121.2,1561 1123,1561 1124.7,1560.9 1126.5,1560.9 1128.3,1560.8 1130.1,1560.8 1131.9,1560.8 1133.7,1560.7 1135.5,1560.7 1137.2,1560.6 1139,1560.6 1140.8,1560.6 1142.6,1560.5 1144.4,1560.5 1146.2,1560.4 1147.9,1560.4 1149.7,1560.3 1151.5,1560.3 1153.3,1560.2 1155.1,1560.2 1156.9,1560.2 1158.6,1560.1 1160.4,1560.1 1162.2,1560 1164,1560 1165.8,1559.9 1167.6,1559.9 1169.3,1559.8 1171.1,1559.8 1172.9,1559.8 1174.7,1559.7 1176.5,1559.8 1178.3,1560 1180.1,1560.1 1181.8,1560.2 1183.6,1560.4 1185.4,1560.5 1187.2,1560.7 1189,1560.8 1190.8,1560.9 1192.5,1561.1 1194.3,1561.2 1196.1,1561.3 1197.9,1561.5 1199.7,1561.6 1201.5,1561.7 1203.2,1561.9 1205,1562 1206.8,1562.1 1208.6,1562.3 1210.4,1562.4 1212.2,1562.5 1213.9,1562.7 1215.7,1562.8 1217.5,1562.9 1219.3,1563.1 1221.1,1563.2 1222.9,1563.3 1224.7,1563.5 1226.4,1563.6 1228.2,1563.7 1230,1563.9 1231.8,1564 1233.6,1564.1 1235.4,1564.3 1237.1,1564.4 1238.9,1564.5 1240.7,1564.6 1242.5,1564.8 1244.3,1564.9 1246.1,1565 1247.8,1565.2 1249.6,1565.3 1251.4,1565.4 1253.2,1565.6 1255,1565.7 1256.8,1565.8 1258.5,1566 1260.3,1566.1 1262.1,1566.2 1263.9,1566.4 1265.7,1566.2 1267.5,1566.1 1269.3,1566 1271,1565.9 1272.8,1565.8 1274.6,1565.7 1276.4,1565.6 1278.2,1565.5 1280,1565.4 1281.7,1565.2 1283.5,1565.1 1285.3,1565 1287.1,1564.9 1288.9,1564.8 1290.7,1564.7 1292.4,1564.6 1294.2,1564.5 1296,1564.3 1297.8,1564.2 1299.6,1564.1 1301.4,1564 1303.1,1563.9 1304.9,1563.8 1306.7,1563.6 1308.5,1563.5 1310.3,1563.4 1312.1,1563.3 1313.9,1563.2 1315.6,1563.1 1317.4,1562.9 1319.2,1562.8 1321,1562.7 1322.8,1562.6 1324.6,1562.4 1326.3,1562.3 1328.1,1562.2 1329.9,1562.1 1331.7,1561.9 1333.5,1561.8 1335.3,1561.7 1337,1561.5 1338.8,1561.4 1340.6,1561.2 1342.4,1561.1 1344.2,1560.9 1346,1560.8 1347.7,1560.6 1349.5,1560.5 1351.3,1560.3 1353.1,1560.1 1354.9,1560.1 1356.7,1560 1358.5,1559.9 1360.2,1559.8 1362,1559.7 1363.8,1559.6 1365.6,1559.4 1367.4,1559.2 1369.2,1558.9 1370.9,1558.6 1372.7,1558.2 1374.5,1557.7 1376.3,1557.1 1378.1,1556.3 1379.9,1555.3 1381.6,1554 1383.4,1552.4 1385.2,1550.4 1387,1548.3 1388.8,1546 1390.6,1544.1 1392.3,1542.9 1394.1,1542.7 1395.9,1543.5 1397.7,1545 1399.5,1547 1401.3,1549.1 1403.1,1551.2 1404.8,1553 1406.6,1554.6 1408.4,1555.8 1410.2,1556.8 1412,1557.6 1413.8,1558.2 1415.5,1558.7 1417.3,1559 1419.1,1559.4 1420.9,1559.6 1422.7,1559.8 1424.5,1560 1426.2,1560.2 1428,1560.3 1429.8,1560.4 1431.6,1560.5 1433.4,1560.6 1435.2,1560.6 1436.9,1560.7 1438.7,1560.7 1440.5,1560.8 1442.3,1560.8 1444.1,1560.9 1445.9,1561 1447.7,1561.1 1449.4,1561.2 1451.2,1561.3 1453,1561.4 1454.8,1561.5 1456.6,1561.5 1458.4,1561.6 1460.1,1561.6 1461.9,1561.7 1463.7,1561.7 1465.5,1561.7 1467.3,1561.7 1469.1,1561.7 1470.8,1561.7 1472.6,1561.6 1474.4,1561.5 1476.2,1561.4 1478,1561.3 1479.8,1561.2 1481.5,1561 1483.3,1560.7 1485.1,1560.4 1486.9,1560.1 1488.7,1559.7 1490.5,1559.1 1492.3,1558.5 1494,1557.7 1495.8,1556.7 1497.6,1555.4 1499.4,1553.8 1501.2,1551.8 1503,1549.2 1504.7,1545.8 1506.5,1541.5 1508.3,1536.1 1510.1,1529.3 1511.9,1521.1 1513.7,1512 1515.4,1502.8 1517.2,1495.1 1519,1490.8 1520.8,1490.7 1522.6,1494.3 1524.4,1500.9 1526.1,1509.2 1527.9,1518.1 1529.7,1526.7 1531.5,1534.2 1533.3,1540.3 1535.1,1545.2 1536.9,1549 1538.6,1552 1540.4,1554.3 1542.2,1556.2 1544,1557.6 1545.8,1558.8 1547.6,1559.7 1549.3,1560.4 1551.1,1561 1552.9,1561.5 1554.7,1561.9 1556.5,1562.3 1558.3,1562.6 1560,1562.8 1561.8,1563 1563.6,1563.1 1565.4,1563.3 1567.2,1563.3 1569,1563.4 1570.7,1563.5 1572.5,1563.5 1574.3,1563.5 1576.1,1563.6 1577.9,1563.6 1579.7,1563.5 1581.5,1563.5 1583.2,1563.5 1585,1563.5 1586.8,1563.4 1588.6,1563.4 1590.4,1563.3 1592.2,1563.2 1593.9,1563.2 1595.7,1563.1 1597.5,1563 1599.3,1563 1601.1,1562.9 1602.9,1562.8 1604.6,1562.7 1606.4,1562.6 1608.2,1562.5 1610,1562.4 1611.8,1562.3 1613.6,1562.2 1615.3,1562.1 1617.1,1562 1618.9,1561.9 1620.7,1561.8 1622.5,1561.6 1624.3,1561.3 1626.1,1561.1 1627.8,1560.9 1629.6,1560.7 1631.4,1560.5 1633.2,1560.2 1635,1560 1636.8,1559.8 1638.5,1559.5 1640.3,1559.3 1642.1,1559 1643.9,1558.8 1645.7,1558.5 1647.5,1558.2 1649.2,1558 1651,1557.7 1652.8,1557.4 1654.6,1557.1 1656.4,1556.8 1658.2,1556.5 1659.9,1556.2 1661.7,1555.8 1663.5,1555.5 1665.3,1555.1 1667.1,1554.7 1668.9,1554.3 1670.7,1553.9 1672.4,1553.4 1674.2,1552.9 1676,1552.4 1677.8,1551.9 1679.6,1551.3 1681.4,1550.6 1683.1,1549.9 1684.9,1549.1 1686.7,1548.2 1688.5,1547.2 1690.3,1546 1692.1,1544.7 1693.8,1543.1 1695.6,1541.3 1697.4,1539 1699.2,1536.3 1701,1532.9 1702.8,1528.7 1704.5,1523.5 1706.3,1516.9 1708.1,1508.8 1709.9,1499 1711.7,1487.8 1713.5,1475.6 1715.3,1464 1717,1455 1718.8,1450.5 1720.6,1451 1722.4,1455.9 1724.2,1464 1726,1474.3 1727.7,1485.5 1729.5,1496.5 1731.3,1506.3 1733.1,1514.7 1734.9,1521.5 1736.7,1527 1738.4,1531.3 1740.2,1534.8 1742,1537.6 1743.8,1539.9 1745.6,1541.7 1747.4,1543.2 1749.1,1544.4 1750.9,1545.5 1752.7,1546.4 1754.5,1547.2 1756.3,1547.9 1758.1,1548.5 1759.9,1549 1761.6,1549.5 1763.4,1549.9 1765.2,1550.3 1767,1550.6 1768.8,1550.9 1770.6,1551.2 1772.3,1551.5 1774.1,1551.7 1775.9,1551.9 1777.7,1552.1 1779.5,1552.3 1781.3,1552.5 1783,1552.7 1784.8,1552.8 1786.6,1553 1788.4,1553.1 1790.2,1553.3 1792,1553.4 1793.7,1553.5 1795.5,1553.6 1797.3,1553.7 1799.1,1553.8 1800.9,1554 1802.7,1554.3 1804.5,1554.5 1806.2,1554.7 1808,1554.8 1809.8,1555 1811.6,1555.2 1813.4,1555.4 1815.2,1555.6 1816.9,1555.8 1818.7,1556 1820.5,1556.2 1822.3,1556.3 1824.1,1556.5 1825.9,1556.7 1827.6,1556.9 1829.4,1557 1831.2,1557.2 1833,1557.4 1834.8,1557.5 1836.6,1557.7 1838.3,1557.9 1840.1,1558 1841.9,1558.2 1843.7,1558.4 1845.5,1558.5 1847.3,1558.7 1849.1,1558.9 1850.8,1559 1852.6,1559.2 1854.4,1559.4 1856.2,1559.5 1858,1559.7 1859.8,1559.8 1861.5,1560 1863.3,1560.2 1865.1,1560.3 1866.9,1560.5 1868.7,1560.6 1870.5,1560.8 1872.2,1561 1874,1561.1 1875.8,1561.3 1877.6,1561.4 1879.4,1561.6 1881.2,1561.7 1882.9,1561.9 1884.7,1562.1 1886.5,1562.2 1888.3,1562.4 1890.1,1562.2 1891.9,1562 1893.7,1561.8 1895.4,1561.6 1897.2,1561.5 1899,1561.3 1900.8,1561.1 1902.6,1560.9 1904.4,1560.7 1906.1,1560.5 1907.9,1560.4 1909.7,1560.2 1911.5,1560 1913.3,1559.8 1915.1,1559.6 1916.8,1559.4 1918.6,1559.3 1920.4,1559.1 1922.2,1558.9 1924,1558.7 1925.8,1558.5 1927.5,1558.3 1929.3,1558.1 1931.1,1558 1932.9,1557.8 1934.7,1557.6 1936.5,1557.4 1938.3,1557.2 1940,1557 1941.8,1556.8 1943.6,1555.8 1945.4,1554.7 1947.2,1553.7 1949,1552.6 1950.7,1551.5 1952.5,1550.5 1954.3,1549.4 1956.1,1548.3 1957.9,1547.3 1959.7,1546.2 1961.4,1545.1 1963.2,1544.1"/></g>
<g id="xlabels" font-size="102" text-anchor="middle">
<text x="191.8" y="1766.8">20</text>
<text x="550.3" y="1766.8">30</text>
<text x="907.1" y="1766.8">40</text>
<text x="1263.9" y="1766.8">50</text>
<text x="1620.7" y="1766.8">60</text>
<text x="1977.5" y="1766.8">70</text>
</g>
<g id="xtitle" font-size="111">
<text x="866.8" y="1882.8">2</text>
<text style="font-family:'Liberation Serif',serif" font-size="107" transform="translate(930.5 1882.8) scale(1.15 1)">θ</text>
<text x="1013.2" y="1882.8">(deg)</text>
</g>
<text id="ytitle" font-size="109" transform="translate(103 1190.1) rotate(-90)">Intensity (a.u.)</text>
<g id="peaklabels" class="pl" text-anchor="middle">
<text transform="translate(572.3 1412.9) rotate(-90)">(220)</text>
<text transform="translate(696 1435.5) rotate(-90)">(311)</text>
<text transform="translate(770.2 1323) rotate(-90)">(222)</text>
<text transform="translate(1046 1420.5) rotate(-90)">(400)</text>
<text transform="translate(1412 1434.9) rotate(-90)">(422)</text>
<text transform="translate(1537 1387.3) rotate(-90)">(511)</text>
<text transform="translate(1740.2 1349) rotate(-90)">(440)</text>
</g>
<g id="samples">
<text fill="#ff00ff" font-size="105.6" transform="translate(229.4 541.75) scale(0.886 1)">#</text><text fill="#ff00ff" font-size="111" font-weight="bold" x="281.2" y="541.75">4</text>
<text fill="#00ff00" font-size="97.5" transform="translate(225.8 899.7) scale(0.88 1)">#</text><text fill="#00ff00" font-size="103" font-weight="bold" x="274.5" y="899.7">3</text>
<text fill="#0000ff" font-size="97.5" transform="translate(222.1 1178.7) scale(0.88 1)">#</text><text fill="#0000ff" font-size="103" font-weight="bold" x="268" y="1178.7">2</text>
<text fill="#ff0000" font-size="97.5" transform="translate(220.7 1515.8) scale(0.88 1)">#</text><text fill="#ff0000" font-size="103" font-weight="bold" x="270.4" y="1515.8">1</text>
</g>
<g id="legend">
<path d="M1130 66.5H1222M1245 66.5H1336" stroke="#ff0000" stroke-width="3"/>
<circle cx="1233.4" cy="66.4" r="10.3" fill="none" stroke="#ff0000" stroke-width="2"/>
<path d="M1130 105.4H1222M1245 105.4H1337" stroke="#0000ff" stroke-width="3"/>
<circle cx="1233.4" cy="105.3" r="10.3" fill="none" stroke="#0000ff" stroke-width="2"/>
<path d="M1131 143.5H1222M1245 143.5H1336" stroke="#00ff00" stroke-width="3"/>
<circle cx="1233.4" cy="143.5" r="10.3" fill="none" stroke="#00ff00" stroke-width="2"/>
<path d="M1130 181.3H1222M1245 181.3H1336" stroke="#ff00ff" stroke-width="3"/>
<circle cx="1233.4" cy="181.3" r="10.3" fill="none" stroke="#ff00ff" stroke-width="2"/>
<path d="M1135.5 266.5H1340.5" stroke="#000" stroke-width="9" stroke-linecap="round"/>
<path d="M1235.5 349.5V408.5" stroke="#848484" stroke-width="15" stroke-linecap="round"/>
<g font-size="83">
<text x="1361" y="156">Observed</text>
<text x="1361.4" y="297.6">Calculated</text>
<text x="1359.6" y="408.3">Bragg position</text>
</g>
</g>
</svg>
</body></html>
